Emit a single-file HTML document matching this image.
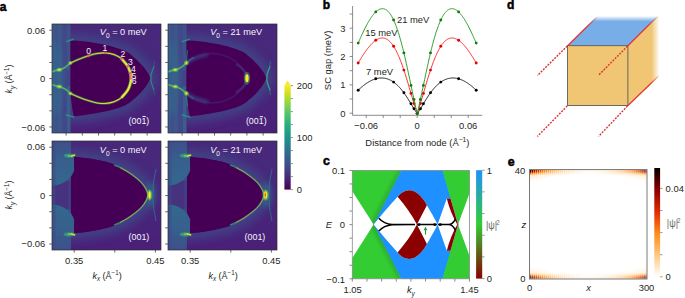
<!DOCTYPE html><html><head><meta charset="utf-8"><style>
html,body{margin:0;padding:0;background:#fff;width:685px;height:298px;overflow:hidden}
svg{display:block}
text{font-family:"Liberation Sans",sans-serif}
</style></head><body>
<svg width="685" height="298" viewBox="0 0 685 298">
<defs>
<linearGradient id="viridis" x1="0" y1="1" x2="0" y2="0">
<stop offset="0" stop-color="#440154"/><stop offset="0.1" stop-color="#482475"/><stop offset="0.2" stop-color="#414487"/>
<stop offset="0.3" stop-color="#355f8d"/><stop offset="0.4" stop-color="#2a788e"/><stop offset="0.5" stop-color="#21918c"/>
<stop offset="0.6" stop-color="#22a884"/><stop offset="0.7" stop-color="#44bf70"/><stop offset="0.8" stop-color="#7ad151"/>
<stop offset="0.9" stop-color="#bddf26"/><stop offset="1" stop-color="#fde725"/>
</linearGradient>
<linearGradient id="cbc" x1="0" y1="1" x2="0" y2="0">
<stop offset="0" stop-color="#8b0000"/><stop offset="0.5" stop-color="#33cc33"/><stop offset="1" stop-color="#1e90ff"/>
</linearGradient>
<linearGradient id="cbe" x1="0" y1="1" x2="0" y2="0">
<stop offset="0" stop-color="#ffffff"/><stop offset="0.2" stop-color="#ffc880"/><stop offset="0.4" stop-color="#ff8a1a"/>
<stop offset="0.6" stop-color="#e02a00"/><stop offset="0.8" stop-color="#8a0000"/><stop offset="1" stop-color="#000000"/>
</linearGradient>
<linearGradient id="outerA" x1="0" y1="0" x2="0" y2="1">
<stop offset="0" stop-color="#48287a"/><stop offset="0.5" stop-color="#47297b"/><stop offset="1" stop-color="#4a1f78"/>
</linearGradient>
<filter id="soft4" x="-30%" y="-30%" width="160%" height="160%"><feGaussianBlur stdDeviation="4"/></filter>
<linearGradient id="stripA" x1="0" y1="0" x2="1" y2="0">
<stop offset="0" stop-color="#3c4f8a"/><stop offset="0.35" stop-color="#3a5a8c"/><stop offset="0.7" stop-color="#3d4e89"/><stop offset="1" stop-color="#41478a"/>
</linearGradient>
<linearGradient id="loopg" gradientUnits="userSpaceOnUse" x1="18" y1="0" x2="80" y2="0"><stop offset="0" stop-color="#a8db34"/><stop offset="0.55" stop-color="#d2e21b"/><stop offset="0.85" stop-color="#fde725"/></linearGradient>
<linearGradient id="tealT" x1="0" y1="0" x2="0" y2="1"><stop offset="0" stop-color="#3d4f8a"/><stop offset="0.5" stop-color="#37618d"/><stop offset="1" stop-color="#32688e"/></linearGradient>
<linearGradient id="tealB" x1="0" y1="1" x2="0" y2="0"><stop offset="0" stop-color="#3d4f8a"/><stop offset="0.5" stop-color="#37618d"/><stop offset="1" stop-color="#32688e"/></linearGradient>
<linearGradient id="stripT" x1="0" y1="0" x2="1" y2="0"><stop offset="0" stop-color="#3a5c8c"/><stop offset="0.3" stop-color="#3e4e8a"/><stop offset="1" stop-color="#424489"/></linearGradient>
<filter id="soft" x="-10%" y="-10%" width="120%" height="120%"><feGaussianBlur stdDeviation="0.7"/></filter>
<filter id="soft2" x="-20%" y="-20%" width="140%" height="140%"><feGaussianBlur stdDeviation="1.6"/></filter>
<filter id="soft3" x="-50%" y="-50%" width="200%" height="200%"><feGaussianBlur stdDeviation="2.5"/></filter>
<filter id="b04" x="-20%" y="-20%" width="140%" height="140%"><feGaussianBlur stdDeviation="0.4"/></filter>
<linearGradient id="topfade" x1="0" y1="0" x2="0" y2="1">
<stop offset="0" stop-color="#78aee8" stop-opacity="0"/><stop offset="0.18" stop-color="#78aee8" stop-opacity="1"/><stop offset="1" stop-color="#78aee8"/>
</linearGradient>
<linearGradient id="rightfade" x1="0" y1="0" x2="1" y2="0">
<stop offset="0" stop-color="#f0c674"/><stop offset="0.75" stop-color="#f0c674"/><stop offset="1" stop-color="#f0c674" stop-opacity="0"/>
</linearGradient>
<linearGradient id="toprightfade" x1="0" y1="0" x2="1" y2="0">
<stop offset="0" stop-color="#fff" stop-opacity="0"/><stop offset="0.85" stop-color="#fff" stop-opacity="0"/><stop offset="1" stop-color="#fff" stop-opacity="1"/>
</linearGradient>
</defs>

<clipPath id="clipTL"><rect x="52" y="24" width="109" height="109"/></clipPath>
<clipPath id="clipTR"><rect x="168" y="24" width="109" height="109"/></clipPath>
<clipPath id="clipBL"><rect x="52" y="141" width="109" height="109"/></clipPath>
<clipPath id="clipBR"><rect x="168" y="141" width="109" height="109"/></clipPath>
<g clip-path="url(#clipTL)"><g transform="translate(52,24)">
<rect x="0" y="0" width="109" height="109" fill="url(#outerA)"/>
<path d="M18.4 16.3 L18.60 16.30 C23.40 16.67 27.27 16.65 33.00 17.40 C38.73 18.15 46.33 19.20 53.00 20.80 C59.67 22.40 68.17 24.90 73.00 27.00 C77.83 29.10 79.17 31.03 82.00 33.40 C84.83 35.77 87.75 38.72 90.00 41.20 C92.25 43.68 94.12 46.13 95.50 48.30 C96.88 50.47 97.37 52.23 98.30 54.20 C97.37 56.17 96.88 57.93 95.50 60.10 C94.12 62.27 92.25 64.72 90.00 67.20 C87.75 69.68 84.83 72.63 82.00 75.00 C79.17 77.37 77.83 79.30 73.00 81.40 C68.17 83.50 59.67 86.00 53.00 87.60 C46.33 89.20 38.20 90.20 33.00 91.00 C27.80 91.80 25.53 91.93 21.80 92.40 L20.5 86 L18.4 70 Z" fill="none" stroke="#3f4a89" stroke-width="14" opacity="0.75" filter="url(#soft4)"/>
<rect x="0" y="0" width="18.6" height="109" fill="url(#stripT)"/>
<ellipse cx="3" cy="54.2" rx="8" ry="38" fill="#34648d" opacity="0.75" filter="url(#soft3)"/>
<rect x="14.8" y="62.2" width="3.6" height="46.8" fill="#37708d" opacity="0.55" filter="url(#soft)"/>
<rect x="14.8" y="0" width="3.6" height="46.2" fill="#37708d" opacity="0.3" filter="url(#soft)"/>
<rect x="5.5" y="0" width="4.5" height="109" fill="#3a6a8c" opacity="0.35" filter="url(#soft)"/>
<path d="M18.4 16.3 L18.60 16.30 C23.40 16.67 27.27 16.65 33.00 17.40 C38.73 18.15 46.33 19.20 53.00 20.80 C59.67 22.40 68.17 24.90 73.00 27.00 C77.83 29.10 79.17 31.03 82.00 33.40 C84.83 35.77 87.75 38.72 90.00 41.20 C92.25 43.68 94.12 46.13 95.50 48.30 C96.88 50.47 97.37 52.23 98.30 54.20 C97.37 56.17 96.88 57.93 95.50 60.10 C94.12 62.27 92.25 64.72 90.00 67.20 C87.75 69.68 84.83 72.63 82.00 75.00 C79.17 77.37 77.83 79.30 73.00 81.40 C68.17 83.50 59.67 86.00 53.00 87.60 C46.33 89.20 38.20 90.20 33.00 91.00 C27.80 91.80 25.53 91.93 21.80 92.40 L20.5 86 L18.4 70 Z" fill="#440154" filter="url(#soft)"/>
<path d="M102.10000000000001 42.2 Q98.30000000000001 51.2 98.9 54.2 Q98.30000000000001 57.2 102.10000000000001 66.2" stroke="#2fb47c" stroke-width="1.3" fill="none" opacity="0.55" filter="url(#b04)"/>
<path d="M102.5 37.2 L101.5 43.2 M102.5 71.2 L101.5 65.2" stroke="#21918c" stroke-width="1" fill="none" opacity="0.385" filter="url(#b04)"/>
<path d="M0 47.900000000000006 Q4 46.2 7.3 45.800000000000004 Q13 44.6 18.4 39.0 M0 60.5 Q4 62.2 7.3 62.6 Q13 63.800000000000004 18.4 69.4" stroke="#35b779" stroke-width="2.4" fill="none" opacity="0.5" filter="url(#soft)"/>
<path d="M0 47.900000000000006 Q4 46.2 7.3 45.800000000000004 Q13 44.6 18.4 39.0 M0 60.5 Q4 62.2 7.3 62.6 Q13 63.800000000000004 18.4 69.4" stroke="#7ad151" stroke-width="0.8" fill="none" opacity="0.9"/>
<ellipse cx="7.3" cy="45.800000000000004" rx="3.0" ry="2.0" fill="#6ece58" opacity="0.6" filter="url(#soft)"/>
<ellipse cx="7.3" cy="45.800000000000004" rx="1.5" ry="0.95" fill="#e6e41c"/>
<ellipse cx="7.3" cy="62.6" rx="3.0" ry="2.0" fill="#6ece58" opacity="0.6" filter="url(#soft)"/>
<ellipse cx="7.3" cy="62.6" rx="1.5" ry="0.95" fill="#e6e41c"/>
<path d="M13.8 17.6 L21.8 15.2 M13.8 90.80000000000001 L22.6 93.4" stroke="#22a884" stroke-width="1.5" opacity="0.75" filter="url(#soft)"/>
<path d="M18.40 39.00 C21.27 37.73 24.02 36.40 27.00 35.20 C29.98 34.00 33.30 32.75 36.30 31.80 C39.30 30.85 42.18 29.98 45.00 29.50 C47.82 29.02 50.37 28.72 53.20 28.90 C56.03 29.08 59.28 29.63 62.00 30.60 C64.72 31.57 67.22 32.77 69.50 34.70 C71.78 36.63 74.25 39.92 75.70 42.20 C77.15 44.48 77.65 46.40 78.20 48.40 C78.75 50.40 79.00 52.27 79.00 54.20 C79.00 56.13 78.75 58.00 78.20 60.00 C77.65 62.00 77.15 63.92 75.70 66.20 C74.25 68.48 71.78 71.77 69.50 73.70 C67.22 75.63 64.72 76.83 62.00 77.80 C59.28 78.77 56.03 79.32 53.20 79.50 C50.37 79.68 47.82 79.38 45.00 78.90 C42.18 78.42 39.30 77.55 36.30 76.60 C33.30 75.65 29.98 74.40 27.00 73.20 C24.02 72.00 21.27 70.67 18.40 69.40" stroke="#44bf70" stroke-width="2.4" fill="none" opacity="0.5" filter="url(#soft)"/>
<path d="M18.40 39.00 C21.27 37.73 24.02 36.40 27.00 35.20 C29.98 34.00 33.30 32.75 36.30 31.80 C39.30 30.85 42.18 29.98 45.00 29.50 C47.82 29.02 50.37 28.72 53.20 28.90 C56.03 29.08 59.28 29.63 62.00 30.60 C64.72 31.57 67.22 32.77 69.50 34.70 C71.78 36.63 74.25 39.92 75.70 42.20 C77.15 44.48 77.65 46.40 78.20 48.40 C78.75 50.40 79.00 52.27 79.00 54.20 C79.00 56.13 78.75 58.00 78.20 60.00 C77.65 62.00 77.15 63.92 75.70 66.20 C74.25 68.48 71.78 71.77 69.50 73.70 C67.22 75.63 64.72 76.83 62.00 77.80 C59.28 78.77 56.03 79.32 53.20 79.50 C50.37 79.68 47.82 79.38 45.00 78.90 C42.18 78.42 39.30 77.55 36.30 76.60 C33.30 75.65 29.98 74.40 27.00 73.20 C24.02 72.00 21.27 70.67 18.40 69.40" stroke="url(#loopg)" stroke-width="1.05" fill="none"/>
<path d="M69.50 34.70 C71.57 37.20 74.25 39.92 75.70 42.20 C77.15 44.48 77.65 46.40 78.20 48.40 C78.75 50.40 79.00 52.27 79.00 54.20 C79.00 56.13 78.75 58.00 78.20 60.00 C77.65 62.00 77.15 63.92 75.70 66.20 C74.25 68.48 71.57 71.20 69.50 73.70" stroke="#5ec962" stroke-width="3.4" fill="none" opacity="0.65" filter="url(#b04)"/>
<path d="M69.50 34.70 C71.57 37.20 74.25 39.92 75.70 42.20 C77.15 44.48 77.65 46.40 78.20 48.40 C78.75 50.40 79.00 52.27 79.00 54.20 C79.00 56.13 78.75 58.00 78.20 60.00 C77.65 62.00 77.15 63.92 75.70 66.20 C74.25 68.48 71.57 71.20 69.50 73.70" stroke="#fde725" stroke-width="1.8" fill="none"/>
<ellipse cx="18.4" cy="39.0" rx="2.2" ry="2.0" fill="#7ad151" opacity="0.6" filter="url(#soft)"/>
<ellipse cx="18.4" cy="39.0" rx="1.0" ry="1.0" fill="#e8e41c"/>
<ellipse cx="18.4" cy="69.4" rx="2.2" ry="2.0" fill="#7ad151" opacity="0.6" filter="url(#soft)"/>
<ellipse cx="18.4" cy="69.4" rx="1.0" ry="1.0" fill="#e8e41c"/>
<circle cx="36.3" cy="31.9" r="1.3" fill="#f3506a" opacity="0.85"/>
<circle cx="53.2" cy="28.9" r="1.3" fill="#f3506a" opacity="0.85"/>
<circle cx="69.5" cy="34.8" r="1.3" fill="#f3506a" opacity="0.85"/>
<circle cx="75.6" cy="42.4" r="1.3" fill="#f3506a" opacity="0.85"/>
<circle cx="77.9" cy="49.0" r="1.3" fill="#f3506a" opacity="0.85"/>
<circle cx="78.4" cy="51.5" r="1.3" fill="#f3506a" opacity="0.85"/>
<circle cx="78.8" cy="54.2" r="1.3" fill="#f3506a" opacity="0.85"/>
<text transform="translate(0 30.50) scale(1 1.05) translate(0 -30.50)" x="36.6" y="30.5" font-size="8.6" fill="#f4f0f8" text-anchor="middle">0</text>
<text transform="translate(0 27.00) scale(1 1.05) translate(0 -27.00)" x="53" y="27.0" font-size="8.6" fill="#f4f0f8" text-anchor="middle">1</text>
<text transform="translate(0 32.60) scale(1 1.05) translate(0 -32.60)" x="70.9" y="32.6" font-size="8.6" fill="#f4f0f8" text-anchor="middle">2</text>
<text transform="translate(0 41.00) scale(1 1.05) translate(0 -41.00)" x="78.3" y="41.0" font-size="8.6" fill="#f4f0f8" text-anchor="middle">3</text>
<text transform="translate(0 48.20) scale(1 1.05) translate(0 -48.20)" x="81.5" y="48.2" font-size="8.6" fill="#f4f0f8" text-anchor="middle">4</text>
<text transform="translate(0 54.60) scale(1 1.05) translate(0 -54.60)" x="81.9" y="54.6" font-size="8.6" fill="#f4f0f8" text-anchor="middle">5</text>
<text transform="translate(0 59.80) scale(1 1.05) translate(0 -59.80)" x="82.2" y="59.8" font-size="8.6" fill="#f4f0f8" text-anchor="middle">6</text>
</g></g>
<g clip-path="url(#clipTR)"><g transform="translate(168,24)">
<rect x="0" y="0" width="109" height="109" fill="url(#outerA)"/>
<path d="M18.4 16.3 L18.60 16.30 C23.40 16.67 27.27 16.65 33.00 17.40 C38.73 18.15 46.33 19.20 53.00 20.80 C59.67 22.40 68.17 24.90 73.00 27.00 C77.83 29.10 79.17 31.03 82.00 33.40 C84.83 35.77 87.75 38.72 90.00 41.20 C92.25 43.68 94.12 46.13 95.50 48.30 C96.88 50.47 97.37 52.23 98.30 54.20 C97.37 56.17 96.88 57.93 95.50 60.10 C94.12 62.27 92.25 64.72 90.00 67.20 C87.75 69.68 84.83 72.63 82.00 75.00 C79.17 77.37 77.83 79.30 73.00 81.40 C68.17 83.50 59.67 86.00 53.00 87.60 C46.33 89.20 38.20 90.20 33.00 91.00 C27.80 91.80 25.53 91.93 21.80 92.40 L20.5 86 L18.4 70 Z" fill="none" stroke="#3f4a89" stroke-width="14" opacity="0.75" filter="url(#soft4)"/>
<rect x="0" y="0" width="18.6" height="109" fill="url(#stripT)"/>
<ellipse cx="3" cy="54.2" rx="8" ry="38" fill="#34648d" opacity="0.75" filter="url(#soft3)"/>
<rect x="14.8" y="62.2" width="3.6" height="46.8" fill="#37708d" opacity="0.55" filter="url(#soft)"/>
<rect x="14.8" y="0" width="3.6" height="46.2" fill="#37708d" opacity="0.3" filter="url(#soft)"/>
<rect x="5.5" y="0" width="4.5" height="109" fill="#3a6a8c" opacity="0.35" filter="url(#soft)"/>
<path d="M18.4 16.3 L18.60 16.30 C23.40 16.67 27.27 16.65 33.00 17.40 C38.73 18.15 46.33 19.20 53.00 20.80 C59.67 22.40 68.17 24.90 73.00 27.00 C77.83 29.10 79.17 31.03 82.00 33.40 C84.83 35.77 87.75 38.72 90.00 41.20 C92.25 43.68 94.12 46.13 95.50 48.30 C96.88 50.47 97.37 52.23 98.30 54.20 C97.37 56.17 96.88 57.93 95.50 60.10 C94.12 62.27 92.25 64.72 90.00 67.20 C87.75 69.68 84.83 72.63 82.00 75.00 C79.17 77.37 77.83 79.30 73.00 81.40 C68.17 83.50 59.67 86.00 53.00 87.60 C46.33 89.20 38.20 90.20 33.00 91.00 C27.80 91.80 25.53 91.93 21.80 92.40 L20.5 86 L18.4 70 Z" fill="#440154" filter="url(#soft)"/>
<path d="M102.10000000000001 42.2 Q98.30000000000001 51.2 98.9 54.2 Q98.30000000000001 57.2 102.10000000000001 66.2" stroke="#2fb47c" stroke-width="1.3" fill="none" opacity="0.9" filter="url(#b04)"/>
<path d="M102.5 37.2 L101.5 43.2 M102.5 71.2 L101.5 65.2" stroke="#21918c" stroke-width="1" fill="none" opacity="0.63" filter="url(#b04)"/>
<path d="M0 47.900000000000006 Q4 46.2 7.3 45.800000000000004 Q13 44.6 18.4 39.0 M0 60.5 Q4 62.2 7.3 62.6 Q13 63.800000000000004 18.4 69.4" stroke="#35b779" stroke-width="2.4" fill="none" opacity="0.5" filter="url(#soft)"/>
<path d="M0 47.900000000000006 Q4 46.2 7.3 45.800000000000004 Q13 44.6 18.4 39.0 M0 60.5 Q4 62.2 7.3 62.6 Q13 63.800000000000004 18.4 69.4" stroke="#7ad151" stroke-width="0.8" fill="none" opacity="0.9"/>
<ellipse cx="7.3" cy="45.800000000000004" rx="3.0" ry="2.0" fill="#6ece58" opacity="0.6" filter="url(#soft)"/>
<ellipse cx="7.3" cy="45.800000000000004" rx="1.5" ry="0.95" fill="#e6e41c"/>
<ellipse cx="7.3" cy="62.6" rx="3.0" ry="2.0" fill="#6ece58" opacity="0.6" filter="url(#soft)"/>
<ellipse cx="7.3" cy="62.6" rx="1.5" ry="0.95" fill="#e6e41c"/>
<path d="M13.8 17.6 L21.8 15.2 M13.8 90.80000000000001 L22.6 93.4" stroke="#22a884" stroke-width="1.5" opacity="0.75" filter="url(#soft)"/>
<path d="M18.40 39.00 C22.27 36.67 25.57 33.58 30.00 32.00 C34.43 30.42 40.00 29.33 45.00 29.50 C50.00 29.67 55.50 30.92 60.00 33.00 C64.50 35.08 69.08 38.47 72.00 42.00 C74.92 45.53 77.50 50.13 77.50 54.20 C77.50 58.27 74.92 62.87 72.00 66.40 C69.08 69.93 64.50 73.32 60.00 75.40 C55.50 77.48 50.00 78.73 45.00 78.90 C40.00 79.07 34.43 77.98 30.00 76.40 C25.57 74.82 22.27 71.73 18.40 69.40" stroke="#4c2a80" stroke-width="1.6" fill="none" opacity="0.45" filter="url(#soft)"/>
<path d="M18.4 39 Q26 33.5 40 30.5 M18.4 69.4 Q26 74.9 40 77.9" stroke="#3e4c89" stroke-width="3.2" fill="none" opacity="0.75" filter="url(#soft2)"/>
<path d="M18.4 39 Q22 35 26 33.5 M18.4 69.4 Q22 73.4 26 74.9" stroke="#2a788e" stroke-width="1.4" fill="none" opacity="0.7" filter="url(#soft)"/>
<path d="M18.4 39 Q18.8 33 19.5 26 M18.4 69.4 Q18.8 75.4 19.5 82.4" stroke="#22a884" stroke-width="1.2" fill="none" opacity="0.55" filter="url(#soft)"/>
<path d="M68 40 Q79 46 79 54.2 Q79 62.400000000000006 68 68.4" stroke="#46337f" stroke-width="2.5" fill="none" opacity="0.6" filter="url(#soft)"/>
<ellipse cx="79" cy="54.2" rx="3.2" ry="6.5" fill="#35b779" opacity="0.5" filter="url(#soft)"/>
<ellipse cx="79" cy="54.2" rx="1.7" ry="4.0" fill="#fde725"/>
<ellipse cx="18.4" cy="39.0" rx="2.4" ry="2.4" fill="#7ad151" opacity="0.6" filter="url(#soft)"/>
<ellipse cx="18.4" cy="39.0" rx="1.1" ry="1.3" fill="#e0e31e"/>
<ellipse cx="18.4" cy="69.4" rx="2.4" ry="2.4" fill="#7ad151" opacity="0.6" filter="url(#soft)"/>
<ellipse cx="18.4" cy="69.4" rx="1.1" ry="1.3" fill="#e0e31e"/>
</g></g>
<g clip-path="url(#clipBL)"><g transform="translate(52,141)">
<rect x="0" y="0" width="109" height="109" fill="url(#outerA)"/>
<path d="M22.00 15.70 C26.97 16.30 32.57 16.85 36.90 17.50 C41.23 18.15 44.48 18.85 48.00 19.60 C51.52 20.35 54.67 20.97 58.00 22.00 C61.33 23.03 64.67 24.17 68.00 25.80 C71.33 27.43 74.58 29.40 78.00 31.80 C81.42 34.20 85.78 37.57 88.50 40.20 C91.22 42.83 92.98 45.30 94.30 47.60 C95.62 49.90 95.70 51.87 96.40 54.00 C95.70 56.13 95.62 58.10 94.30 60.40 C92.98 62.70 91.22 65.17 88.50 67.80 C85.78 70.43 81.42 73.80 78.00 76.20 C74.58 78.60 71.33 80.57 68.00 82.20 C64.67 83.83 61.33 84.97 58.00 86.00 C54.67 87.03 51.52 87.65 48.00 88.40 C44.48 89.15 41.23 89.85 36.90 90.50 C32.57 91.15 26.97 91.70 22.00 92.30 L22.5 78 L19.2 72 L19.2 36 L22.5 30 Z" fill="none" stroke="#3f4a89" stroke-width="14" opacity="0.75" filter="url(#soft4)"/>
<rect x="0" y="0" width="18.8" height="109" fill="#46327e"/>
<rect x="0" y="0" width="18.8" height="109" fill="#3f4a89"/>
<rect x="0" y="40" width="18.8" height="28.0" fill="#46337f" filter="url(#b04)"/>
<rect x="16.6" y="40" width="1.6" height="28.0" fill="#3e4a89" opacity="0.7" filter="url(#b04)"/>
<path d="M0 0 L18.8 0 L18.8 15 L22.5 16 L22.5 24 A22.5 20.5 0 0 1 0 44.5 Z" fill="url(#tealT)" filter="url(#soft)"/>
<path d="M0 109 L18.8 109 L18.8 93.0 L22.5 92.0 L22.5 84.0 A22.5 20.5 0 0 0 0 63.5 Z" fill="url(#tealB)" filter="url(#soft)"/>
<rect x="0" y="0" width="3.5" height="109" fill="#404889" opacity="0.55" filter="url(#b04)"/>
<path d="M22.00 15.70 C26.97 16.30 32.57 16.85 36.90 17.50 C41.23 18.15 44.48 18.85 48.00 19.60 C51.52 20.35 54.67 20.97 58.00 22.00 C61.33 23.03 64.67 24.17 68.00 25.80 C71.33 27.43 74.58 29.40 78.00 31.80 C81.42 34.20 85.78 37.57 88.50 40.20 C91.22 42.83 92.98 45.30 94.30 47.60 C95.62 49.90 95.70 51.87 96.40 54.00 C95.70 56.13 95.62 58.10 94.30 60.40 C92.98 62.70 91.22 65.17 88.50 67.80 C85.78 70.43 81.42 73.80 78.00 76.20 C74.58 78.60 71.33 80.57 68.00 82.20 C64.67 83.83 61.33 84.97 58.00 86.00 C54.67 87.03 51.52 87.65 48.00 88.40 C44.48 89.15 41.23 89.85 36.90 90.50 C32.57 91.15 26.97 91.70 22.00 92.30 L22.5 78 L19.2 72 L19.2 36 L22.5 30 Z" fill="#440154" filter="url(#soft)"/>
<ellipse cx="98.0" cy="54.0" rx="5" ry="13" fill="#2a788e" opacity="0.5" filter="url(#soft3)"/>
<path d="M22.00 15.70 C26.97 16.30 32.57 16.85 36.90 17.50 C41.23 18.15 44.48 18.85 48.00 19.60 C51.52 20.35 54.67 20.97 58.00 22.00 C61.33 23.03 64.67 24.17 68.00 25.80 C71.33 27.43 74.58 29.40 78.00 31.80 C81.42 34.20 85.78 37.57 88.50 40.20 C91.22 42.83 92.98 45.30 94.30 47.60 C95.62 49.90 95.70 51.87 96.40 54.00 C95.70 56.13 95.62 58.10 94.30 60.40 C92.98 62.70 91.22 65.17 88.50 67.80 C85.78 70.43 81.42 73.80 78.00 76.20 C74.58 78.60 71.33 80.57 68.00 82.20 C64.67 83.83 61.33 84.97 58.00 86.00 C54.67 87.03 51.52 87.65 48.00 88.40 C44.48 89.15 41.23 89.85 36.90 90.50 C32.57 91.15 26.97 91.70 22.00 92.30 L22.5 78 L19.2 72 L19.2 36 L22.5 30 Z" fill="#440154" filter="url(#b04)"/>
<path d="M62.00 24.00 C64.00 24.80 65.33 25.02 68.00 26.40 C70.67 27.78 74.58 29.93 78.00 32.30 C81.42 34.67 85.83 37.98 88.50 40.60 C91.17 43.22 92.73 45.77 94.00 48.00 C95.27 50.23 95.40 52.00 96.10 54.00 C95.40 56.00 95.27 57.77 94.00 60.00 C92.73 62.23 91.17 64.78 88.50 67.40 C85.83 70.02 81.42 73.33 78.00 75.70 C74.58 78.07 70.67 80.22 68.00 81.60 C65.33 82.98 64.00 83.20 62.00 84.00" stroke="#22a884" stroke-width="1.8" fill="none" opacity="0.6" filter="url(#soft)"/>
<path d="M62.00 24.00 C64.00 24.80 65.33 25.02 68.00 26.40 C70.67 27.78 74.58 29.93 78.00 32.30 C81.42 34.67 85.83 37.98 88.50 40.60 C91.17 43.22 92.73 45.77 94.00 48.00 C95.27 50.23 95.40 52.00 96.10 54.00 C95.40 56.00 95.27 57.77 94.00 60.00 C92.73 62.23 91.17 64.78 88.50 67.40 C85.83 70.02 81.42 73.33 78.00 75.70 C74.58 78.07 70.67 80.22 68.00 81.60 C65.33 82.98 64.00 83.20 62.00 84.00" stroke="#5ec962" stroke-width="0.6" fill="none" opacity="0.5"/>
<path d="M68.00 26.40 C71.33 28.37 74.58 29.93 78.00 32.30 C81.42 34.67 85.83 37.98 88.50 40.60 C91.17 43.22 92.73 45.77 94.00 48.00 C95.27 50.23 95.40 52.00 96.10 54.00 C95.40 56.00 95.27 57.77 94.00 60.00 C92.73 62.23 91.17 64.78 88.50 67.40 C85.83 70.02 81.42 73.33 78.00 75.70 C74.58 78.07 71.33 79.63 68.00 81.60" stroke="#f08a3a" stroke-width="0.8" fill="none" stroke-dasharray="1.2 1.2" opacity="0.9"/>
<path d="M68.00 26.40 C71.33 28.37 74.58 29.93 78.00 32.30 C81.42 34.67 85.83 37.98 88.50 40.60 C91.17 43.22 92.73 45.77 94.00 48.00 C95.27 50.23 95.40 52.00 96.10 54.00 C95.40 56.00 95.27 57.77 94.00 60.00 C92.73 62.23 91.17 64.78 88.50 67.40 C85.83 70.02 81.42 73.33 78.00 75.70 C74.58 78.07 71.33 79.63 68.00 81.60" stroke="#e0e030" stroke-width="0.8" fill="none" stroke-dasharray="1.2 1.2" stroke-dashoffset="1.2" opacity="0.8"/>
<path d="M104.0 28.0 Q97.5 54.0 104.0 80.0" stroke="#21918c" stroke-width="1.1" fill="none" opacity="0.55" filter="url(#soft)"/>
<ellipse cx="97.6" cy="54.0" rx="2.5999999999999996" ry="5.5" fill="#6ece58" opacity="0.6" filter="url(#soft)"/>
<ellipse cx="97.6" cy="54.0" rx="1.2" ry="3.8" fill="#fde725"/>
<ellipse cx="17.5" cy="14.600000000000001" rx="6" ry="2.2" fill="#35b779" opacity="0.6" filter="url(#soft)"/>
<path d="M16.2 14.900000000000002 L19.8 15.100000000000001 L22.8 14.000000000000002" stroke="#a0da39" stroke-width="1.3" fill="none" stroke-linecap="round" opacity="0.9"/>
<path d="M19.4 15.100000000000001 L22.4 14.100000000000001" stroke="#f2e51d" stroke-width="1.1" stroke-linecap="round"/>
<ellipse cx="17.5" cy="93.4" rx="6" ry="2.2" fill="#35b779" opacity="0.6" filter="url(#soft)"/>
<path d="M16.2 93.10000000000001 L19.8 92.9 L22.8 94.0" stroke="#a0da39" stroke-width="1.3" fill="none" stroke-linecap="round" opacity="0.9"/>
<path d="M19.4 92.9 L22.4 93.9" stroke="#f2e51d" stroke-width="1.1" stroke-linecap="round"/>
</g></g>
<g clip-path="url(#clipBR)"><g transform="translate(168,141)">
<rect x="0" y="0" width="109" height="109" fill="url(#outerA)"/>
<path d="M22.00 15.70 C26.97 16.30 32.57 16.85 36.90 17.50 C41.23 18.15 44.48 18.85 48.00 19.60 C51.52 20.35 54.67 20.97 58.00 22.00 C61.33 23.03 64.67 24.17 68.00 25.80 C71.33 27.43 74.58 29.40 78.00 31.80 C81.42 34.20 85.78 37.57 88.50 40.20 C91.22 42.83 92.98 45.30 94.30 47.60 C95.62 49.90 95.70 51.87 96.40 54.00 C95.70 56.13 95.62 58.10 94.30 60.40 C92.98 62.70 91.22 65.17 88.50 67.80 C85.78 70.43 81.42 73.80 78.00 76.20 C74.58 78.60 71.33 80.57 68.00 82.20 C64.67 83.83 61.33 84.97 58.00 86.00 C54.67 87.03 51.52 87.65 48.00 88.40 C44.48 89.15 41.23 89.85 36.90 90.50 C32.57 91.15 26.97 91.70 22.00 92.30 L22.5 78 L19.2 72 L19.2 36 L22.5 30 Z" fill="none" stroke="#3f4a89" stroke-width="14" opacity="0.75" filter="url(#soft4)"/>
<rect x="0" y="0" width="18.8" height="109" fill="#46327e"/>
<rect x="0" y="0" width="18.8" height="109" fill="#3f4a89"/>
<rect x="0" y="40" width="18.8" height="28.0" fill="#46337f" filter="url(#b04)"/>
<rect x="16.6" y="40" width="1.6" height="28.0" fill="#3e4a89" opacity="0.7" filter="url(#b04)"/>
<path d="M0 0 L18.8 0 L18.8 15 L22.5 16 L22.5 24 A22.5 20.5 0 0 1 0 44.5 Z" fill="url(#tealT)" filter="url(#soft)"/>
<path d="M0 109 L18.8 109 L18.8 93.0 L22.5 92.0 L22.5 84.0 A22.5 20.5 0 0 0 0 63.5 Z" fill="url(#tealB)" filter="url(#soft)"/>
<rect x="0" y="0" width="3.5" height="109" fill="#404889" opacity="0.55" filter="url(#b04)"/>
<path d="M22.00 15.70 C26.97 16.30 32.57 16.85 36.90 17.50 C41.23 18.15 44.48 18.85 48.00 19.60 C51.52 20.35 54.67 20.97 58.00 22.00 C61.33 23.03 64.67 24.17 68.00 25.80 C71.33 27.43 74.58 29.40 78.00 31.80 C81.42 34.20 85.78 37.57 88.50 40.20 C91.22 42.83 92.98 45.30 94.30 47.60 C95.62 49.90 95.70 51.87 96.40 54.00 C95.70 56.13 95.62 58.10 94.30 60.40 C92.98 62.70 91.22 65.17 88.50 67.80 C85.78 70.43 81.42 73.80 78.00 76.20 C74.58 78.60 71.33 80.57 68.00 82.20 C64.67 83.83 61.33 84.97 58.00 86.00 C54.67 87.03 51.52 87.65 48.00 88.40 C44.48 89.15 41.23 89.85 36.90 90.50 C32.57 91.15 26.97 91.70 22.00 92.30 L22.5 78 L19.2 72 L19.2 36 L22.5 30 Z" fill="#440154" filter="url(#soft)"/>
<ellipse cx="98.0" cy="54.0" rx="5" ry="13" fill="#2a788e" opacity="0.5" filter="url(#soft3)"/>
<path d="M22.00 15.70 C26.97 16.30 32.57 16.85 36.90 17.50 C41.23 18.15 44.48 18.85 48.00 19.60 C51.52 20.35 54.67 20.97 58.00 22.00 C61.33 23.03 64.67 24.17 68.00 25.80 C71.33 27.43 74.58 29.40 78.00 31.80 C81.42 34.20 85.78 37.57 88.50 40.20 C91.22 42.83 92.98 45.30 94.30 47.60 C95.62 49.90 95.70 51.87 96.40 54.00 C95.70 56.13 95.62 58.10 94.30 60.40 C92.98 62.70 91.22 65.17 88.50 67.80 C85.78 70.43 81.42 73.80 78.00 76.20 C74.58 78.60 71.33 80.57 68.00 82.20 C64.67 83.83 61.33 84.97 58.00 86.00 C54.67 87.03 51.52 87.65 48.00 88.40 C44.48 89.15 41.23 89.85 36.90 90.50 C32.57 91.15 26.97 91.70 22.00 92.30 L22.5 78 L19.2 72 L19.2 36 L22.5 30 Z" fill="#440154" filter="url(#b04)"/>
<path d="M62.00 24.00 C64.00 24.80 65.33 25.02 68.00 26.40 C70.67 27.78 74.58 29.93 78.00 32.30 C81.42 34.67 85.83 37.98 88.50 40.60 C91.17 43.22 92.73 45.77 94.00 48.00 C95.27 50.23 95.40 52.00 96.10 54.00 C95.40 56.00 95.27 57.77 94.00 60.00 C92.73 62.23 91.17 64.78 88.50 67.40 C85.83 70.02 81.42 73.33 78.00 75.70 C74.58 78.07 70.67 80.22 68.00 81.60 C65.33 82.98 64.00 83.20 62.00 84.00" stroke="#22a884" stroke-width="1.8" fill="none" opacity="0.6" filter="url(#soft)"/>
<path d="M62.00 24.00 C64.00 24.80 65.33 25.02 68.00 26.40 C70.67 27.78 74.58 29.93 78.00 32.30 C81.42 34.67 85.83 37.98 88.50 40.60 C91.17 43.22 92.73 45.77 94.00 48.00 C95.27 50.23 95.40 52.00 96.10 54.00 C95.40 56.00 95.27 57.77 94.00 60.00 C92.73 62.23 91.17 64.78 88.50 67.40 C85.83 70.02 81.42 73.33 78.00 75.70 C74.58 78.07 70.67 80.22 68.00 81.60 C65.33 82.98 64.00 83.20 62.00 84.00" stroke="#5ec962" stroke-width="0.6" fill="none" opacity="0.5"/>
<path d="M68.00 26.40 C71.33 28.37 74.58 29.93 78.00 32.30 C81.42 34.67 85.83 37.98 88.50 40.60 C91.17 43.22 92.73 45.77 94.00 48.00 C95.27 50.23 95.40 52.00 96.10 54.00 C95.40 56.00 95.27 57.77 94.00 60.00 C92.73 62.23 91.17 64.78 88.50 67.40 C85.83 70.02 81.42 73.33 78.00 75.70 C74.58 78.07 71.33 79.63 68.00 81.60" stroke="#f08a3a" stroke-width="0.8" fill="none" stroke-dasharray="1.2 1.2" opacity="0.9"/>
<path d="M68.00 26.40 C71.33 28.37 74.58 29.93 78.00 32.30 C81.42 34.67 85.83 37.98 88.50 40.60 C91.17 43.22 92.73 45.77 94.00 48.00 C95.27 50.23 95.40 52.00 96.10 54.00 C95.40 56.00 95.27 57.77 94.00 60.00 C92.73 62.23 91.17 64.78 88.50 67.40 C85.83 70.02 81.42 73.33 78.00 75.70 C74.58 78.07 71.33 79.63 68.00 81.60" stroke="#e0e030" stroke-width="0.8" fill="none" stroke-dasharray="1.2 1.2" stroke-dashoffset="1.2" opacity="0.8"/>
<path d="M104.0 28.0 Q97.5 54.0 104.0 80.0" stroke="#21918c" stroke-width="1.1" fill="none" opacity="0.55" filter="url(#soft)"/>
<ellipse cx="97.6" cy="54.0" rx="3.0999999999999996" ry="5.5" fill="#6ece58" opacity="0.6" filter="url(#soft)"/>
<ellipse cx="97.6" cy="54.0" rx="1.7" ry="3.8" fill="#fde725"/>
<ellipse cx="97.3" cy="54.0" rx="0.7" ry="2.4" fill="#e8602a"/>
<ellipse cx="17.5" cy="14.600000000000001" rx="6" ry="2.2" fill="#35b779" opacity="0.6" filter="url(#soft)"/>
<path d="M16.2 14.900000000000002 L19.8 15.100000000000001 L22.8 14.000000000000002" stroke="#a0da39" stroke-width="1.3" fill="none" stroke-linecap="round" opacity="0.9"/>
<path d="M19.4 15.100000000000001 L22.4 14.100000000000001" stroke="#f2e51d" stroke-width="1.1" stroke-linecap="round"/>
<ellipse cx="17.5" cy="93.4" rx="6" ry="2.2" fill="#35b779" opacity="0.6" filter="url(#soft)"/>
<path d="M16.2 93.10000000000001 L19.8 92.9 L22.8 94.0" stroke="#a0da39" stroke-width="1.3" fill="none" stroke-linecap="round" opacity="0.9"/>
<path d="M19.4 92.9 L22.4 93.9" stroke="#f2e51d" stroke-width="1.1" stroke-linecap="round"/>
</g></g>
<g stroke="#2b2b2b" stroke-width="0.7"><rect x="52" y="24" width="109" height="109" fill="none" stroke="#2b2b2b" stroke-width="0.7"/>
<line x1="49.2" y1="30.20" x2="52" y2="30.20"/>
<line x1="49.2" y1="46.33" x2="52" y2="46.33"/>
<line x1="49.2" y1="62.46" x2="52" y2="62.46"/>
<line x1="49.2" y1="78.59" x2="52" y2="78.59"/>
<line x1="49.2" y1="94.72" x2="52" y2="94.72"/>
<line x1="49.2" y1="110.85" x2="52" y2="110.85"/>
<line x1="49.2" y1="126.98" x2="52" y2="126.98"/>
<line x1="66.10" y1="133" x2="66.10" y2="135.6"/>
<line x1="82.30" y1="133" x2="82.30" y2="135.6"/>
<line x1="98.50" y1="133" x2="98.50" y2="135.6"/>
<line x1="114.70" y1="133" x2="114.70" y2="135.6"/>
<line x1="130.90" y1="133" x2="130.90" y2="135.6"/>
<line x1="147.10" y1="133" x2="147.10" y2="135.6"/>
<rect x="168" y="24" width="109" height="109" fill="none" stroke="#2b2b2b" stroke-width="0.7"/>
<line x1="165.2" y1="30.20" x2="168" y2="30.20"/>
<line x1="165.2" y1="46.33" x2="168" y2="46.33"/>
<line x1="165.2" y1="62.46" x2="168" y2="62.46"/>
<line x1="165.2" y1="78.59" x2="168" y2="78.59"/>
<line x1="165.2" y1="94.72" x2="168" y2="94.72"/>
<line x1="165.2" y1="110.85" x2="168" y2="110.85"/>
<line x1="165.2" y1="126.98" x2="168" y2="126.98"/>
<line x1="182.10" y1="133" x2="182.10" y2="135.6"/>
<line x1="198.30" y1="133" x2="198.30" y2="135.6"/>
<line x1="214.50" y1="133" x2="214.50" y2="135.6"/>
<line x1="230.70" y1="133" x2="230.70" y2="135.6"/>
<line x1="246.90" y1="133" x2="246.90" y2="135.6"/>
<line x1="263.10" y1="133" x2="263.10" y2="135.6"/>
<rect x="52" y="141" width="109" height="109" fill="none" stroke="#2b2b2b" stroke-width="0.7"/>
<line x1="49.2" y1="147.20" x2="52" y2="147.20"/>
<line x1="49.2" y1="163.33" x2="52" y2="163.33"/>
<line x1="49.2" y1="179.46" x2="52" y2="179.46"/>
<line x1="49.2" y1="195.59" x2="52" y2="195.59"/>
<line x1="49.2" y1="211.72" x2="52" y2="211.72"/>
<line x1="49.2" y1="227.85" x2="52" y2="227.85"/>
<line x1="49.2" y1="243.98" x2="52" y2="243.98"/>
<line x1="74.20" y1="250" x2="74.20" y2="252.6"/>
<line x1="114.80" y1="250" x2="114.80" y2="252.6"/>
<line x1="155.40" y1="250" x2="155.40" y2="252.6"/>
<rect x="168" y="141" width="109" height="109" fill="none" stroke="#2b2b2b" stroke-width="0.7"/>
<line x1="165.2" y1="147.20" x2="168" y2="147.20"/>
<line x1="165.2" y1="163.33" x2="168" y2="163.33"/>
<line x1="165.2" y1="179.46" x2="168" y2="179.46"/>
<line x1="165.2" y1="195.59" x2="168" y2="195.59"/>
<line x1="165.2" y1="211.72" x2="168" y2="211.72"/>
<line x1="165.2" y1="227.85" x2="168" y2="227.85"/>
<line x1="165.2" y1="243.98" x2="168" y2="243.98"/>
<line x1="190.20" y1="250" x2="190.20" y2="252.6"/>
<line x1="230.80" y1="250" x2="230.80" y2="252.6"/>
<line x1="271.40" y1="250" x2="271.40" y2="252.6"/></g>
<text transform="translate(0 35.30) scale(1 1.05) translate(0 -35.30)" x="99.8" y="35.3" font-size="9.2" fill="#f6f3fa"><tspan font-style="italic">V</tspan><tspan font-size="6.6" dy="3.0">0</tspan><tspan dy="-3.0"> = 0 meV</tspan></text>
<text transform="translate(0 35.30) scale(1 1.05) translate(0 -35.30)" x="210.2" y="35.3" font-size="9.2" fill="#f6f3fa"><tspan font-style="italic">V</tspan><tspan font-size="6.6" dy="3.0">0</tspan><tspan dy="-3.0"> = 21 meV</tspan></text>
<text transform="translate(0 152.80) scale(1 1.05) translate(0 -152.80)" x="99.8" y="152.8" font-size="9.2" fill="#f6f3fa"><tspan font-style="italic">V</tspan><tspan font-size="6.6" dy="3.0">0</tspan><tspan dy="-3.0"> = 0 meV</tspan></text>
<text transform="translate(0 152.80) scale(1 1.05) translate(0 -152.80)" x="210.2" y="152.8" font-size="9.2" fill="#f6f3fa"><tspan font-style="italic">V</tspan><tspan font-size="6.6" dy="3.0">0</tspan><tspan dy="-3.0"> = 21 meV</tspan></text>
<text transform="translate(0 124.30) scale(1 1.05) translate(0 -124.30)" x="128.6" y="124.3" font-size="8.9" fill="#f6f3fa">(001)</text><line x1="142.5" y1="116.5" x2="145.7" y2="116.5" stroke="#f6f3fa" stroke-width="1.0"/>
<text transform="translate(0 124.50) scale(1 1.05) translate(0 -124.50)" x="245.9" y="124.5" font-size="8.9" fill="#f6f3fa">(001)</text><line x1="259.8" y1="116.7" x2="263.0" y2="116.7" stroke="#f6f3fa" stroke-width="1.0"/>
<text transform="translate(0 240.50) scale(1 1.05) translate(0 -240.50)" x="128.6" y="240.5" font-size="8.9" fill="#f6f3fa">(001)</text>
<text transform="translate(0 240.50) scale(1 1.05) translate(0 -240.50)" x="244.6" y="240.5" font-size="8.9" fill="#f6f3fa">(001)</text>
<text transform="translate(0 33.65) scale(1 1.05) translate(0 -33.65)" x="45.2" y="33.65" font-size="9.4" fill="#231f20" text-anchor="end">0.06</text><text transform="translate(0 82.15) scale(1 1.05) translate(0 -82.15)" x="45.2" y="82.15" font-size="9.4" fill="#231f20" text-anchor="end">0</text><text transform="translate(0 130.75) scale(1 1.05) translate(0 -130.75)" x="45.2" y="130.75" font-size="9.4" fill="#231f20" text-anchor="end">−0.06</text>
<text transform="translate(0 150.15) scale(1 1.05) translate(0 -150.15)" x="45.2" y="150.15" font-size="9.4" fill="#231f20" text-anchor="end">0.06</text><text transform="translate(0 198.65) scale(1 1.05) translate(0 -198.65)" x="45.2" y="198.65" font-size="9.4" fill="#231f20" text-anchor="end">0</text><text transform="translate(0 247.25) scale(1 1.05) translate(0 -247.25)" x="45.2" y="247.25" font-size="9.4" fill="#231f20" text-anchor="end">−0.06</text>
<text transform="translate(0 263.90) scale(1 1.05) translate(0 -263.90)" x="74.2" y="263.9" font-size="9.4" fill="#231f20" text-anchor="middle">0.35</text>
<text transform="translate(0 263.90) scale(1 1.05) translate(0 -263.90)" x="155.4" y="263.9" font-size="9.4" fill="#231f20" text-anchor="middle">0.45</text>
<text transform="translate(0 263.90) scale(1 1.05) translate(0 -263.90)" x="190.2" y="263.9" font-size="9.4" fill="#231f20" text-anchor="middle">0.35</text>
<text transform="translate(0 263.90) scale(1 1.05) translate(0 -263.90)" x="271.4" y="263.9" font-size="9.4" fill="#231f20" text-anchor="middle">0.45</text>
<text transform="translate(0 278.60) scale(1 1.05) translate(0 -278.60)" x="107.1" y="278.6" font-size="9.0" fill="#231f20" text-anchor="middle"><tspan font-style="italic">k</tspan><tspan font-style="italic" font-size="6.2" dy="2.2">x</tspan><tspan dy="-2.2"> (Å</tspan><tspan font-size="6.2" dy="-3.6">−1</tspan><tspan dy="3.6">)</tspan></text>
<text transform="translate(0 278.60) scale(1 1.05) translate(0 -278.60)" x="223.1" y="278.6" font-size="9.0" fill="#231f20" text-anchor="middle"><tspan font-style="italic">k</tspan><tspan font-style="italic" font-size="6.2" dy="2.2">x</tspan><tspan dy="-2.2"> (Å</tspan><tspan font-size="6.2" dy="-3.6">−1</tspan><tspan dy="3.6">)</tspan></text>
<text transform="translate(12.3,79) rotate(-90) scale(1 1.05)" font-size="9.0" fill="#231f20" text-anchor="middle"><tspan font-style="italic">k</tspan><tspan font-style="italic" font-size="6.2" dy="2.2">y</tspan><tspan dy="-2.2"> (Å</tspan><tspan font-size="6.2" dy="-3.6">−1</tspan><tspan dy="3.6">)</tspan></text>
<text transform="translate(12.3,195.0) rotate(-90) scale(1 1.05)" font-size="9.0" fill="#231f20" text-anchor="middle"><tspan font-style="italic">k</tspan><tspan font-style="italic" font-size="6.2" dy="2.2">y</tspan><tspan dy="-2.2"> (Å</tspan><tspan font-size="6.2" dy="-3.6">−1</tspan><tspan dy="3.6">)</tspan></text>
<text x="-0.3" y="10.8" font-size="12" font-weight="bold" fill="#000" stroke="#000" stroke-width="0.5">a</text>
<rect x="284.4" y="85.6" width="6.3" height="104" fill="url(#viridis)"/>
<path d="M284.4 85.8 L287.55 80.4 L290.7 85.8 Z" fill="#fde725"/>
<g stroke="#444" stroke-width="0.6"><line x1="290.7" y1="85.6" x2="292.9" y2="85.6"/><line x1="290.7" y1="98.6" x2="292.9" y2="98.6"/><line x1="290.7" y1="111.6" x2="292.9" y2="111.6"/><line x1="290.7" y1="124.6" x2="292.9" y2="124.6"/><line x1="290.7" y1="137.6" x2="292.9" y2="137.6"/><line x1="290.7" y1="150.6" x2="292.9" y2="150.6"/><line x1="290.7" y1="163.6" x2="292.9" y2="163.6"/><line x1="290.7" y1="176.6" x2="292.9" y2="176.6"/><line x1="290.7" y1="189.6" x2="292.9" y2="189.6"/></g>
<text transform="translate(0 88.85) scale(1 1.05) translate(0 -88.85)" x="296.8" y="88.85" font-size="9.4" fill="#231f20">200</text>
<text transform="translate(0 140.85) scale(1 1.05) translate(0 -140.85)" x="296.8" y="140.85" font-size="9.4" fill="#231f20">100</text>
<text transform="translate(0 192.85) scale(1 1.05) translate(0 -192.85)" x="296.8" y="192.85" font-size="9.4" fill="#231f20">0</text>
<text x="322.7" y="8.9" font-size="12" font-weight="bold" fill="#000" stroke="#000" stroke-width="0.5">b</text>
<g stroke="#6f6f6f" stroke-width="0.8" fill="none">
<path d="M352.6 6 L352.6 115.3 L482.3 115.3"/>
<line x1="349.6" y1="113.20" x2="352.6" y2="113.20"/>
<line x1="349.6" y1="99.03" x2="352.6" y2="99.03"/>
<line x1="349.6" y1="84.87" x2="352.6" y2="84.87"/>
<line x1="349.6" y1="70.71" x2="352.6" y2="70.71"/>
<line x1="349.6" y1="56.54" x2="352.6" y2="56.54"/>
<line x1="349.6" y1="42.38" x2="352.6" y2="42.38"/>
<line x1="349.6" y1="28.21" x2="352.6" y2="28.21"/>
<line x1="349.6" y1="14.05" x2="352.6" y2="14.05"/>
<line x1="366.20" y1="115.3" x2="366.20" y2="118"/>
<line x1="383.20" y1="115.3" x2="383.20" y2="118"/>
<line x1="400.20" y1="115.3" x2="400.20" y2="118"/>
<line x1="417.20" y1="115.3" x2="417.20" y2="118"/>
<line x1="434.20" y1="115.3" x2="434.20" y2="118"/>
<line x1="451.20" y1="115.3" x2="451.20" y2="118"/>
<line x1="468.20" y1="115.3" x2="468.20" y2="118"/>
</g>
<text transform="translate(0 116.55) scale(1 1.05) translate(0 -116.55)" x="345.4" y="116.55" font-size="9.4" fill="#231f20" text-anchor="end">0</text>
<text transform="translate(0 88.22) scale(1 1.05) translate(0 -88.22)" x="345.4" y="88.22" font-size="9.4" fill="#231f20" text-anchor="end">1</text>
<text transform="translate(0 59.89) scale(1 1.05) translate(0 -59.89)" x="345.4" y="59.89" font-size="9.4" fill="#231f20" text-anchor="end">2</text>
<text transform="translate(0 31.56) scale(1 1.05) translate(0 -31.56)" x="345.4" y="31.56" font-size="9.4" fill="#231f20" text-anchor="end">3</text>
<text transform="translate(0 129.30) scale(1 1.05) translate(0 -129.30)" x="366.20" y="129.3" font-size="9.4" fill="#231f20" text-anchor="middle">−0.06</text>
<text transform="translate(0 129.30) scale(1 1.05) translate(0 -129.30)" x="417.20" y="129.3" font-size="9.4" fill="#231f20" text-anchor="middle">0</text>
<text transform="translate(0 129.30) scale(1 1.05) translate(0 -129.30)" x="468.20" y="129.3" font-size="9.4" fill="#231f20" text-anchor="middle">0.06</text>
<text transform="translate(0 146.10) scale(1 1.05) translate(0 -146.10)" x="417.4" y="146.1" font-size="9.4" fill="#231f20" text-anchor="middle">Distance from node (Å<tspan font-size="6.6" dy="-3.6">−1</tspan><tspan dy="3.6">)</tspan></text>
<text transform="translate(331.2,60.4) rotate(-90) scale(1 1.05)" font-size="9.4" fill="#231f20" text-anchor="middle">SC gap (meV)</text>
<path d="M417.20 113.40 L417.70 112.78 L418.19 112.12 L418.69 111.42 L419.18 110.69 L419.68 109.94 L420.17 109.16 L420.67 108.36 L421.17 107.55 L421.66 106.73 L422.16 105.89 L422.65 105.06 L423.15 104.22 L423.65 103.39 L424.14 102.56 L424.64 101.74 L425.13 100.93 L425.63 100.12 L426.12 99.33 L426.62 98.54 L427.12 97.77 L427.61 97.00 L428.11 96.25 L428.60 95.51 L429.10 94.78 L429.59 94.07 L430.09 93.37 L430.59 92.68 L431.08 92.01 L431.58 91.36 L432.07 90.72 L432.57 90.10 L433.07 89.50 L433.56 88.91 L434.06 88.33 L434.55 87.78 L435.05 87.23 L435.54 86.71 L436.04 86.20 L436.54 85.70 L437.03 85.22 L437.53 84.76 L438.02 84.31 L438.52 83.88 L439.02 83.46 L439.51 83.07 L440.01 82.68 L440.50 82.31 L441.00 81.96 L441.49 81.62 L441.99 81.30 L442.49 81.00 L442.98 80.71 L443.48 80.43 L443.97 80.18 L444.47 79.93 L444.96 79.70 L445.46 79.49 L445.96 79.29 L446.45 79.10 L446.95 78.93 L447.44 78.78 L447.94 78.63 L448.44 78.51 L448.93 78.39 L449.43 78.29 L449.92 78.21 L450.42 78.13 L450.91 78.07 L451.41 78.03 L451.91 78.00 L452.40 77.98 L452.90 77.97 L453.39 77.98 L453.89 78.00 L454.38 78.03 L454.88 78.07 L455.38 78.13 L455.87 78.20 L456.37 78.28 L456.86 78.38 L457.36 78.48 L457.86 78.60 L458.35 78.73 L458.85 78.87 L459.34 79.02 L459.84 79.19 L460.33 79.36 L460.83 79.55 L461.33 79.75 L461.82 79.96 L462.32 80.17 L462.81 80.40 L463.31 80.64 L463.81 80.90 L464.30 81.16 L464.80 81.43 L465.29 81.71 L465.79 82.00 L466.28 82.30 L466.78 82.61 L467.28 82.93 L467.77 83.26 L468.27 83.60 L468.76 83.95 L469.26 84.31 L469.75 84.67 L470.25 85.05 L470.75 85.43 L471.24 85.83 L471.74 86.23 L472.23 86.64 L472.73 87.05 L473.23 87.48 L473.72 87.91 L474.22 88.36 L474.71 88.81 L475.21 89.26 L475.70 89.73 L476.20 90.20 M417.20 113.40 L416.70 112.78 L416.21 112.12 L415.71 111.42 L415.22 110.69 L414.72 109.94 L414.23 109.16 L413.73 108.36 L413.23 107.55 L412.74 106.73 L412.24 105.89 L411.75 105.06 L411.25 104.22 L410.75 103.39 L410.26 102.56 L409.76 101.74 L409.27 100.93 L408.77 100.12 L408.28 99.33 L407.78 98.54 L407.28 97.77 L406.79 97.00 L406.29 96.25 L405.80 95.51 L405.30 94.78 L404.81 94.07 L404.31 93.37 L403.81 92.68 L403.32 92.01 L402.82 91.36 L402.33 90.72 L401.83 90.10 L401.33 89.50 L400.84 88.91 L400.34 88.33 L399.85 87.78 L399.35 87.23 L398.86 86.71 L398.36 86.20 L397.86 85.70 L397.37 85.22 L396.87 84.76 L396.38 84.31 L395.88 83.88 L395.38 83.46 L394.89 83.07 L394.39 82.68 L393.90 82.31 L393.40 81.96 L392.91 81.62 L392.41 81.30 L391.91 81.00 L391.42 80.71 L390.92 80.43 L390.43 80.18 L389.93 79.93 L389.44 79.70 L388.94 79.49 L388.44 79.29 L387.95 79.10 L387.45 78.93 L386.96 78.78 L386.46 78.63 L385.96 78.51 L385.47 78.39 L384.97 78.29 L384.48 78.21 L383.98 78.13 L383.49 78.07 L382.99 78.03 L382.49 78.00 L382.00 77.98 L381.50 77.97 L381.01 77.98 L380.51 78.00 L380.02 78.03 L379.52 78.07 L379.02 78.13 L378.53 78.20 L378.03 78.28 L377.54 78.38 L377.04 78.48 L376.54 78.60 L376.05 78.73 L375.55 78.87 L375.06 79.02 L374.56 79.19 L374.07 79.36 L373.57 79.55 L373.07 79.75 L372.58 79.96 L372.08 80.17 L371.59 80.40 L371.09 80.64 L370.59 80.90 L370.10 81.16 L369.60 81.43 L369.11 81.71 L368.61 82.00 L368.12 82.30 L367.62 82.61 L367.12 82.93 L366.63 83.26 L366.13 83.60 L365.64 83.95 L365.14 84.31 L364.65 84.67 L364.15 85.05 L363.65 85.43 L363.16 85.83 L362.66 86.23 L362.17 86.64 L361.67 87.05 L361.17 87.48 L360.68 87.91 L360.18 88.36 L359.69 88.81 L359.19 89.26 L358.70 89.73 L358.20 90.20" stroke="#1a1a1a" stroke-width="1" fill="none" stroke-linejoin="round"/>
<circle cx="417.20" cy="113.4" r="1.45" fill="#000"/>
<circle cx="420.40" cy="108.8" r="1.45" fill="#000"/>
<circle cx="414.00" cy="108.8" r="1.45" fill="#000"/>
<circle cx="423.40" cy="103.8" r="1.45" fill="#000"/>
<circle cx="411.00" cy="103.8" r="1.45" fill="#000"/>
<circle cx="430.50" cy="92.8" r="1.45" fill="#000"/>
<circle cx="403.90" cy="92.8" r="1.45" fill="#000"/>
<circle cx="440.80" cy="82.1" r="1.45" fill="#000"/>
<circle cx="393.60" cy="82.1" r="1.45" fill="#000"/>
<circle cx="458.60" cy="78.8" r="1.45" fill="#000"/>
<circle cx="375.80" cy="78.8" r="1.45" fill="#000"/>
<circle cx="476.20" cy="90.2" r="1.45" fill="#000"/>
<circle cx="358.20" cy="90.2" r="1.45" fill="#000"/>
<path d="M417.20 113.40 L417.70 111.96 L418.19 110.48 L418.69 108.96 L419.18 107.42 L419.68 105.84 L420.17 104.24 L420.67 102.61 L421.17 100.96 L421.66 99.30 L422.16 97.63 L422.65 95.94 L423.15 94.25 L423.65 92.56 L424.14 90.87 L424.64 89.18 L425.13 87.49 L425.63 85.81 L426.12 84.14 L426.62 82.48 L427.12 80.83 L427.61 79.20 L428.11 77.58 L428.60 75.99 L429.10 74.41 L429.59 72.86 L430.09 71.34 L430.59 69.84 L431.08 68.37 L431.58 66.94 L432.07 65.53 L432.57 64.15 L433.07 62.81 L433.56 61.50 L434.06 60.22 L434.55 58.98 L435.05 57.76 L435.54 56.59 L436.04 55.44 L436.54 54.33 L437.03 53.26 L437.53 52.22 L438.02 51.22 L438.52 50.25 L439.02 49.33 L439.51 48.44 L440.01 47.58 L440.50 46.77 L441.00 45.99 L441.49 45.26 L441.99 44.56 L442.49 43.90 L442.98 43.28 L443.48 42.70 L443.97 42.15 L444.47 41.64 L444.96 41.16 L445.46 40.72 L445.96 40.31 L446.45 39.94 L446.95 39.60 L447.44 39.30 L447.94 39.03 L448.44 38.79 L448.93 38.58 L449.43 38.41 L449.92 38.27 L450.42 38.15 L450.91 38.07 L451.41 38.02 L451.91 37.99 L452.40 38.00 L452.90 38.03 L453.39 38.09 L453.89 38.18 L454.38 38.30 L454.88 38.44 L455.38 38.61 L455.87 38.80 L456.37 39.02 L456.86 39.26 L457.36 39.53 L457.86 39.82 L458.35 40.13 L458.85 40.47 L459.34 40.83 L459.84 41.21 L460.33 41.61 L460.83 42.04 L461.33 42.48 L461.82 42.94 L462.32 43.43 L462.81 43.93 L463.31 44.45 L463.81 44.99 L464.30 45.55 L464.80 46.12 L465.29 46.71 L465.79 47.32 L466.28 47.94 L466.78 48.58 L467.28 49.23 L467.77 49.90 L468.27 50.58 L468.76 51.28 L469.26 51.98 L469.75 52.70 L470.25 53.44 L470.75 54.18 L471.24 54.94 L471.74 55.70 L472.23 56.48 L472.73 57.26 L473.23 58.06 L473.72 58.86 L474.22 59.68 L474.71 60.50 L475.21 61.32 L475.70 62.16 L476.20 63.00 M417.20 113.40 L416.70 111.96 L416.21 110.48 L415.71 108.96 L415.22 107.42 L414.72 105.84 L414.23 104.24 L413.73 102.61 L413.23 100.96 L412.74 99.30 L412.24 97.63 L411.75 95.94 L411.25 94.25 L410.75 92.56 L410.26 90.87 L409.76 89.18 L409.27 87.49 L408.77 85.81 L408.28 84.14 L407.78 82.48 L407.28 80.83 L406.79 79.20 L406.29 77.58 L405.80 75.99 L405.30 74.41 L404.81 72.86 L404.31 71.34 L403.81 69.84 L403.32 68.37 L402.82 66.94 L402.33 65.53 L401.83 64.15 L401.33 62.81 L400.84 61.50 L400.34 60.22 L399.85 58.98 L399.35 57.76 L398.86 56.59 L398.36 55.44 L397.86 54.33 L397.37 53.26 L396.87 52.22 L396.38 51.22 L395.88 50.25 L395.38 49.33 L394.89 48.44 L394.39 47.58 L393.90 46.77 L393.40 45.99 L392.91 45.26 L392.41 44.56 L391.91 43.90 L391.42 43.28 L390.92 42.70 L390.43 42.15 L389.93 41.64 L389.44 41.16 L388.94 40.72 L388.44 40.31 L387.95 39.94 L387.45 39.60 L386.96 39.30 L386.46 39.03 L385.96 38.79 L385.47 38.58 L384.97 38.41 L384.48 38.27 L383.98 38.15 L383.49 38.07 L382.99 38.02 L382.49 37.99 L382.00 38.00 L381.50 38.03 L381.01 38.09 L380.51 38.18 L380.02 38.30 L379.52 38.44 L379.02 38.61 L378.53 38.80 L378.03 39.02 L377.54 39.26 L377.04 39.53 L376.54 39.82 L376.05 40.13 L375.55 40.47 L375.06 40.83 L374.56 41.21 L374.07 41.61 L373.57 42.04 L373.07 42.48 L372.58 42.94 L372.08 43.43 L371.59 43.93 L371.09 44.45 L370.59 44.99 L370.10 45.55 L369.60 46.12 L369.11 46.71 L368.61 47.32 L368.12 47.94 L367.62 48.58 L367.12 49.23 L366.63 49.90 L366.13 50.58 L365.64 51.28 L365.14 51.98 L364.65 52.70 L364.15 53.44 L363.65 54.18 L363.16 54.94 L362.66 55.70 L362.17 56.48 L361.67 57.26 L361.17 58.06 L360.68 58.86 L360.18 59.68 L359.69 60.50 L359.19 61.32 L358.70 62.16 L358.20 63.00" stroke="#ff2a2a" stroke-width="1" fill="none" stroke-linejoin="round"/>
<circle cx="417.20" cy="113.4" r="1.45" fill="#e00000"/>
<circle cx="420.40" cy="103.5" r="1.45" fill="#e00000"/>
<circle cx="414.00" cy="103.5" r="1.45" fill="#e00000"/>
<circle cx="423.40" cy="93.4" r="1.45" fill="#e00000"/>
<circle cx="411.00" cy="93.4" r="1.45" fill="#e00000"/>
<circle cx="430.50" cy="70.1" r="1.45" fill="#e00000"/>
<circle cx="403.90" cy="70.1" r="1.45" fill="#e00000"/>
<circle cx="440.80" cy="46.3" r="1.45" fill="#e00000"/>
<circle cx="393.60" cy="46.3" r="1.45" fill="#e00000"/>
<circle cx="458.60" cy="40.3" r="1.45" fill="#e00000"/>
<circle cx="375.80" cy="40.3" r="1.45" fill="#e00000"/>
<circle cx="476.20" cy="63.0" r="1.45" fill="#e00000"/>
<circle cx="358.20" cy="63.0" r="1.45" fill="#e00000"/>
<path d="M417.20 113.40 L417.70 111.37 L418.19 109.28 L418.69 107.16 L419.18 104.98 L419.68 102.77 L420.17 100.53 L420.67 98.26 L421.17 95.96 L421.66 93.64 L422.16 91.30 L422.65 88.95 L423.15 86.59 L423.65 84.23 L424.14 81.87 L424.64 79.51 L425.13 77.15 L425.63 74.81 L426.12 72.48 L426.62 70.16 L427.12 67.86 L427.61 65.58 L428.11 63.33 L428.60 61.10 L429.10 58.91 L429.59 56.75 L430.09 54.62 L430.59 52.54 L431.08 50.50 L431.58 48.50 L432.07 46.55 L432.57 44.64 L433.07 42.78 L433.56 40.96 L434.06 39.19 L434.55 37.47 L435.05 35.80 L435.54 34.17 L436.04 32.59 L436.54 31.06 L437.03 29.58 L437.53 28.15 L438.02 26.77 L438.52 25.44 L439.02 24.16 L439.51 22.94 L440.01 21.76 L440.50 20.65 L441.00 19.58 L441.49 18.57 L441.99 17.61 L442.49 16.71 L442.98 15.86 L443.48 15.05 L443.97 14.30 L444.47 13.60 L444.96 12.95 L445.46 12.35 L445.96 11.79 L446.45 11.29 L446.95 10.83 L447.44 10.41 L447.94 10.05 L448.44 9.72 L448.93 9.44 L449.43 9.21 L449.92 9.01 L450.42 8.86 L450.91 8.75 L451.41 8.69 L451.91 8.66 L452.40 8.67 L452.90 8.72 L453.39 8.81 L453.89 8.94 L454.38 9.10 L454.88 9.30 L455.38 9.54 L455.87 9.81 L456.37 10.12 L456.86 10.45 L457.36 10.83 L457.86 11.23 L458.35 11.67 L458.85 12.14 L459.34 12.64 L459.84 13.16 L460.33 13.72 L460.83 14.31 L461.33 14.92 L461.82 15.56 L462.32 16.23 L462.81 16.93 L463.31 17.64 L463.81 18.39 L464.30 19.16 L464.80 19.95 L465.29 20.76 L465.79 21.60 L466.28 22.46 L466.78 23.33 L467.28 24.23 L467.77 25.15 L468.27 26.09 L468.76 27.04 L469.26 28.01 L469.75 29.00 L470.25 30.01 L470.75 31.03 L471.24 32.07 L471.74 33.12 L472.23 34.18 L472.73 35.26 L473.23 36.34 L473.72 37.45 L474.22 38.56 L474.71 39.68 L475.21 40.81 L475.70 41.95 L476.20 43.10 M417.20 113.40 L416.70 111.37 L416.21 109.28 L415.71 107.16 L415.22 104.98 L414.72 102.77 L414.23 100.53 L413.73 98.26 L413.23 95.96 L412.74 93.64 L412.24 91.30 L411.75 88.95 L411.25 86.59 L410.75 84.23 L410.26 81.87 L409.76 79.51 L409.27 77.15 L408.77 74.81 L408.28 72.48 L407.78 70.16 L407.28 67.86 L406.79 65.58 L406.29 63.33 L405.80 61.10 L405.30 58.91 L404.81 56.75 L404.31 54.62 L403.81 52.54 L403.32 50.50 L402.82 48.50 L402.33 46.55 L401.83 44.64 L401.33 42.78 L400.84 40.96 L400.34 39.19 L399.85 37.47 L399.35 35.80 L398.86 34.17 L398.36 32.59 L397.86 31.06 L397.37 29.58 L396.87 28.15 L396.38 26.77 L395.88 25.44 L395.38 24.16 L394.89 22.94 L394.39 21.76 L393.90 20.65 L393.40 19.58 L392.91 18.57 L392.41 17.61 L391.91 16.71 L391.42 15.86 L390.92 15.05 L390.43 14.30 L389.93 13.60 L389.44 12.95 L388.94 12.35 L388.44 11.79 L387.95 11.29 L387.45 10.83 L386.96 10.41 L386.46 10.05 L385.96 9.72 L385.47 9.44 L384.97 9.21 L384.48 9.01 L383.98 8.86 L383.49 8.75 L382.99 8.69 L382.49 8.66 L382.00 8.67 L381.50 8.72 L381.01 8.81 L380.51 8.94 L380.02 9.10 L379.52 9.30 L379.02 9.54 L378.53 9.81 L378.03 10.12 L377.54 10.45 L377.04 10.83 L376.54 11.23 L376.05 11.67 L375.55 12.14 L375.06 12.64 L374.56 13.16 L374.07 13.72 L373.57 14.31 L373.07 14.92 L372.58 15.56 L372.08 16.23 L371.59 16.93 L371.09 17.64 L370.59 18.39 L370.10 19.16 L369.60 19.95 L369.11 20.76 L368.61 21.60 L368.12 22.46 L367.62 23.33 L367.12 24.23 L366.63 25.15 L366.13 26.09 L365.64 27.04 L365.14 28.01 L364.65 29.00 L364.15 30.01 L363.65 31.03 L363.16 32.07 L362.66 33.12 L362.17 34.18 L361.67 35.26 L361.17 36.34 L360.68 37.45 L360.18 38.56 L359.69 39.68 L359.19 40.81 L358.70 41.95 L358.20 43.10" stroke="#2f9e2f" stroke-width="1" fill="none" stroke-linejoin="round"/>
<circle cx="417.20" cy="113.4" r="1.45" fill="#0d7d0d"/>
<circle cx="420.40" cy="99.5" r="1.45" fill="#0d7d0d"/>
<circle cx="414.00" cy="99.5" r="1.45" fill="#0d7d0d"/>
<circle cx="423.40" cy="85.4" r="1.45" fill="#0d7d0d"/>
<circle cx="411.00" cy="85.4" r="1.45" fill="#0d7d0d"/>
<circle cx="430.50" cy="52.9" r="1.45" fill="#0d7d0d"/>
<circle cx="403.90" cy="52.9" r="1.45" fill="#0d7d0d"/>
<circle cx="440.80" cy="20.0" r="1.45" fill="#0d7d0d"/>
<circle cx="393.60" cy="20.0" r="1.45" fill="#0d7d0d"/>
<circle cx="458.60" cy="11.9" r="1.45" fill="#0d7d0d"/>
<circle cx="375.80" cy="11.9" r="1.45" fill="#0d7d0d"/>
<circle cx="476.20" cy="43.1" r="1.45" fill="#0d7d0d"/>
<circle cx="358.20" cy="43.1" r="1.45" fill="#0d7d0d"/>
<text transform="translate(0 23.30) scale(1 1.05) translate(0 -23.30)" x="397" y="23.3" font-size="9.4" fill="#231f20">21 meV</text>
<text transform="translate(0 36.20) scale(1 1.05) translate(0 -36.20)" x="365.2" y="36.2" font-size="9.4" fill="#231f20">15 meV</text>
<text transform="translate(0 75.40) scale(1 1.05) translate(0 -75.40)" x="366" y="75.4" font-size="9.4" fill="#231f20">7 meV</text>
<text x="323.0" y="165.2" font-size="12.4" font-weight="bold" fill="#000" stroke="#000" stroke-width="0.5">c</text>
<clipPath id="clipC"><rect x="352.3" y="170.4" width="117.19999999999999" height="108.4"/></clipPath>
<g clip-path="url(#clipC)">
<rect x="352.3" y="170.4" width="117.19999999999999" height="108.4" fill="#fff"/>
<path d="M401.8 170.4 L442.2 170.4 L458.0 224.6 L442.2 278.8 L401.8 278.8 L373.6 224.6 Z" fill="#1e90ff" stroke="#1e90ff" stroke-width="1.4" stroke-linejoin="bevel"/>
<clipPath id="clipGL"><path d="M351.3 169.4 L401.8 169.4 L373.6 224.6 L401.8 279.8 L351.3 279.8 L351.3 258.0 L352.3 258.0 L373.6 224.6 L352.3 191.2 L351.3 191.2 Z"/></clipPath>
<path d="M351.3 169.4 L401.8 169.4 L373.6 224.6 L401.8 279.8 L351.3 279.8 L351.3 258.0 L352.3 258.0 L373.6 224.6 L352.3 191.2 L351.3 191.2 Z" fill="#33cc33"/>
<path d="M442.2 169.4 L470.5 169.4 L470.5 190.7 L458.0 224.6 L470.5 258.5 L470.5 279.8 L442.2 279.8 L458.0 224.6 Z" fill="#33cc33"/>
<g clip-path="url(#clipGL)"><path d="M401.8 170.4 L373.6 224.6 L401.8 278.8" stroke="#2c8f38" stroke-width="7" fill="none" opacity="0.45" filter="url(#soft2)"/></g>
<path d="M373.6 224.6 C381 215.5 390 205 397.6 196.8 C401 192.5 405 190.3 409.3 190.3 C415.5 190.3 422 196 426.9 205.2 C430.5 211.5 434.5 218 437.6 224.6 C434.5 231.2 430.5 237.7 426.9 244.0 C422 253.2 415.5 258.9 409.3 258.9 C405 258.9 401 256.7 397.6 252.4 C390 244.2 381 233.7 373.6 224.6 Z" fill="#fff"/>
<path d="M397.6 196.8 C401 192.5 405 190.3 409.3 190.3 C415.5 190.3 422 196 426.9 205.2 L416.9 224.6 C412 215 405 205 397.6 196.8 Z M397.6 252.4 C401 256.7 405 258.9 409.3 258.9 C415.5 258.9 422 253.2 426.9 244.0 L416.9 224.6 C412 234.2 405 244.2 397.6 252.4 Z" fill="#8b0000"/>
<path d="M437.6 224.6 L446.8 198.4 L450.5 198.4 L458.0 224.6 L450.5 250.8 L446.8 250.8 Z" fill="#fff"/>
<path d="M446.8 198.4 L450.5 198.4 L458.0 224.6 L457.3 224.6 Q450.5 213 446.8 198.4 Z M446.8 250.8 L450.5 250.8 L458.0 224.6 L457.3 224.6 Q450.5 236.2 446.8 250.8 Z" fill="#8b0000"/>
<g stroke="#000" fill="none" stroke-width="1.5">
<path d="M378.8 218.2 Q384 223.8 392 224.5 L415 224.6 M378.8 231.0 Q384 225.4 392 224.7 L415 224.6"/>
<path d="M419 224.6 L435 224.6 M440 224.6 L448.5 224.6 Q452.5 224.6 455.6 218.8 M448.5 224.6 Q452.5 224.6 455.6 230.4"/>
</g>
<ellipse cx="418.8" cy="224.6" rx="1.9" ry="1.4" fill="#000"/>
<ellipse cx="435.0" cy="224.6" rx="1.9" ry="1.4" fill="#000"/>
<ellipse cx="440.0" cy="224.6" rx="1.9" ry="1.4" fill="#000"/>
<path d="M425.5 234.6 L425.5 229.2" stroke="#1f9d3a" stroke-width="1"/>
<path d="M423.6 230.2 L425.5 226.6 L427.4 230.2 Z" fill="#1f9d3a"/>
</g>
<rect x="352.3" y="170.4" width="117.19999999999999" height="108.4" fill="none" stroke="#8a8a8a" stroke-width="0.8"/>
<g stroke="#6f6f6f" stroke-width="0.8"><line x1="349.5" y1="170.40" x2="352.3" y2="170.40"/><line x1="349.5" y1="183.95" x2="352.3" y2="183.95"/><line x1="349.5" y1="197.50" x2="352.3" y2="197.50"/><line x1="349.5" y1="211.05" x2="352.3" y2="211.05"/><line x1="349.5" y1="224.60" x2="352.3" y2="224.60"/><line x1="349.5" y1="238.15" x2="352.3" y2="238.15"/><line x1="349.5" y1="251.70" x2="352.3" y2="251.70"/><line x1="349.5" y1="265.25" x2="352.3" y2="265.25"/><line x1="349.5" y1="278.80" x2="352.3" y2="278.80"/><line x1="352.30" y1="278.8" x2="352.30" y2="281.6"/><line x1="366.95" y1="278.8" x2="366.95" y2="281.6"/><line x1="381.60" y1="278.8" x2="381.60" y2="281.6"/><line x1="396.25" y1="278.8" x2="396.25" y2="281.6"/><line x1="410.90" y1="278.8" x2="410.90" y2="281.6"/><line x1="425.55" y1="278.8" x2="425.55" y2="281.6"/><line x1="440.20" y1="278.8" x2="440.20" y2="281.6"/><line x1="454.85" y1="278.8" x2="454.85" y2="281.6"/><line x1="469.50" y1="278.8" x2="469.50" y2="281.6"/></g>
<text transform="translate(0 173.75) scale(1 1.05) translate(0 -173.75)" x="345" y="173.75" font-size="9.4" fill="#231f20" text-anchor="end">0.1</text>
<text transform="translate(0 227.95) scale(1 1.05) translate(0 -227.95)" x="345" y="227.95" font-size="9.4" fill="#231f20" text-anchor="end">0</text>
<text transform="translate(0 282.55) scale(1 1.05) translate(0 -282.55)" x="345" y="282.55" font-size="9.4" fill="#231f20" text-anchor="end">−0.1</text>
<text transform="translate(0 227.95) scale(1 1.05) translate(0 -227.95)" x="325.8" y="227.95" font-size="9.4" fill="#231f20" font-style="italic">E</text>
<text transform="translate(0 293.50) scale(1 1.05) translate(0 -293.50)" x="352.6" y="293.5" font-size="9.4" fill="#231f20" text-anchor="middle">1.05</text>
<text transform="translate(0 293.50) scale(1 1.05) translate(0 -293.50)" x="469.5" y="293.5" font-size="9.4" fill="#231f20" text-anchor="middle">1.45</text>
<text transform="translate(0 293.50) scale(1 1.05) translate(0 -293.50)" x="410.9" y="293.5" font-size="9.4" fill="#231f20" text-anchor="middle"><tspan font-style="italic">k</tspan><tspan font-style="italic" font-size="6.6" dy="2.2">y</tspan></text>
<rect x="476.1" y="170.2" width="6.1" height="108.4" fill="url(#cbc)"/>
<g stroke="#555" stroke-width="0.6"><line x1="482.2" y1="170.20" x2="484.6" y2="170.20"/><line x1="482.2" y1="191.88" x2="484.6" y2="191.88"/><line x1="482.2" y1="213.56" x2="484.6" y2="213.56"/><line x1="482.2" y1="235.24" x2="484.6" y2="235.24"/><line x1="482.2" y1="256.92" x2="484.6" y2="256.92"/><line x1="482.2" y1="278.60" x2="484.6" y2="278.60"/></g>
<text transform="translate(0 173.55) scale(1 1.05) translate(0 -173.55)" x="486.8" y="173.55" font-size="9.4" fill="#231f20">1</text>
<text transform="translate(0 281.95) scale(1 1.05) translate(0 -281.95)" x="486.8" y="281.95" font-size="9.4" fill="#231f20">0</text>
<text transform="translate(0 229.00) scale(1 1.05) translate(0 -229.00)" x="486.0" y="229.0" font-size="9.6" fill="#6a6a6a" textLength="11.2" lengthAdjust="spacingAndGlyphs">|ψ|</text><text transform="translate(0 224.60) scale(1 1.05) translate(0 -224.60)" x="496.2" y="224.6" font-size="6.2" fill="#6a6a6a">2</text>
<text x="507.1" y="8.7" font-size="12" font-weight="bold" fill="#000" stroke="#000" stroke-width="0.5">d</text>
<path d="M627.9 45.7 L657.5 16.5 L659.5 16.5 L659.5 76.3 L628 105.5 Z" fill="url(#rightfade)"/>
<path d="M567.6 45.7 L597 16 L659 16 L627.9 45.7 Z" fill="url(#topfade)"/>
<rect x="650" y="12" width="12" height="36" fill="url(#toprightfade)"/>
<rect x="567.6" y="45.7" width="60.3" height="59.8" fill="#f0c674" stroke="#4a4a4a" stroke-width="0.8"/>
<linearGradient id="redfade" gradientUnits="userSpaceOnUse" x1="0" y1="16" x2="0" y2="26"><stop offset="0" stop-color="#e03535" stop-opacity="0"/><stop offset="1" stop-color="#e03535" stop-opacity="1"/></linearGradient>
<linearGradient id="redfade2" gradientUnits="userSpaceOnUse" x1="650" y1="0" x2="660" y2="0"><stop offset="0" stop-color="#e03535" stop-opacity="1"/><stop offset="1" stop-color="#e03535" stop-opacity="0"/></linearGradient>
<g stroke-width="1.2" fill="none">
<path d="M567.6 45.7 L597.6 16.2" stroke="url(#redfade)"/><path d="M627.9 45.7 L657.6 16.2" stroke="url(#redfade)"/><path d="M628 105.5 L658.6 76" stroke="url(#redfade2)"/>
</g>
<g stroke="#dc3030" stroke-width="1.4" fill="none" stroke-dasharray="1.9 1.3">
<path d="M567.2 46.1 L537.4 75.6"/><path d="M627.5 46.1 L598.6 75.2"/><path d="M567.2 106 L537.4 136.4"/><path d="M627.5 106 L598.6 136.4"/>
</g>
<text x="507.7" y="165.7" font-size="12.4" font-weight="bold" fill="#000" stroke="#000" stroke-width="0.5">e</text>
<rect x="530.0" y="170.1" width="1" height="1" fill="#000000"/><rect x="530.0" y="171.1" width="1" height="1" fill="#070000"/><rect x="530.0" y="172.1" width="1" height="1" fill="#970600"/><rect x="530.0" y="173.1" width="1" height="1" fill="#f05c0e"/><rect x="530.0" y="174.1" width="1" height="1" fill="#ffb15a"/><rect x="530.0" y="175.1" width="1" height="1" fill="#ffdbab"/><rect x="530.0" y="176.1" width="1" height="1" fill="#ffe7c7"/><rect x="530.0" y="177.1" width="1" height="1" fill="#ffecd3"/><rect x="530.0" y="178.1" width="1" height="1" fill="#fff0dd"/><rect x="530.0" y="179.1" width="1" height="1" fill="#fff4e5"/><rect x="530.0" y="180.1" width="1" height="1" fill="#fff6ea"/><rect x="530.0" y="181.1" width="1" height="1" fill="#fff8ef"/><rect x="531.0" y="170.1" width="1" height="1" fill="#d72600"/><rect x="531.0" y="171.1" width="1" height="1" fill="#e73e05"/><rect x="531.0" y="172.1" width="1" height="1" fill="#fa7a16"/><rect x="531.0" y="173.1" width="1" height="1" fill="#ffb058"/><rect x="531.0" y="174.1" width="1" height="1" fill="#ffd49d"/><rect x="531.0" y="175.1" width="1" height="1" fill="#ffebd0"/><rect x="531.0" y="176.1" width="1" height="1" fill="#fff1e0"/><rect x="531.0" y="177.1" width="1" height="1" fill="#fff4e6"/><rect x="531.0" y="178.1" width="1" height="1" fill="#fff7ec"/><rect x="531.0" y="179.1" width="1" height="1" fill="#fff9f0"/><rect x="532.0" y="170.1" width="1" height="1" fill="#140000"/><rect x="532.0" y="171.1" width="1" height="1" fill="#570000"/><rect x="532.0" y="172.1" width="1" height="1" fill="#be1900"/><rect x="532.0" y="173.1" width="1" height="1" fill="#f97815"/><rect x="532.0" y="174.1" width="1" height="1" fill="#ffbb6a"/><rect x="532.0" y="175.1" width="1" height="1" fill="#ffdfb5"/><rect x="532.0" y="176.1" width="1" height="1" fill="#ffeace"/><rect x="532.0" y="177.1" width="1" height="1" fill="#ffeed9"/><rect x="532.0" y="178.1" width="1" height="1" fill="#fff2e1"/><rect x="532.0" y="179.1" width="1" height="1" fill="#fff5e8"/><rect x="532.0" y="180.1" width="1" height="1" fill="#fff7ed"/><rect x="532.0" y="181.1" width="1" height="1" fill="#fff9f1"/><rect x="533.0" y="170.1" width="1" height="1" fill="#e84307"/><rect x="533.0" y="171.1" width="1" height="1" fill="#f15e0e"/><rect x="533.0" y="172.1" width="1" height="1" fill="#ff8f23"/><rect x="533.0" y="173.1" width="1" height="1" fill="#ffba68"/><rect x="533.0" y="174.1" width="1" height="1" fill="#ffd9a8"/><rect x="533.0" y="175.1" width="1" height="1" fill="#ffedd5"/><rect x="533.0" y="176.1" width="1" height="1" fill="#fff3e3"/><rect x="533.0" y="177.1" width="1" height="1" fill="#fff6e9"/><rect x="533.0" y="178.1" width="1" height="1" fill="#fff8ee"/><rect x="533.0" y="179.1" width="1" height="1" fill="#fff9f2"/><rect x="534.0" y="170.1" width="1" height="1" fill="#630000"/><rect x="534.0" y="171.1" width="1" height="1" fill="#960600"/><rect x="534.0" y="172.1" width="1" height="1" fill="#e02a00"/><rect x="534.0" y="173.1" width="1" height="1" fill="#ff8e21"/><rect x="534.0" y="174.1" width="1" height="1" fill="#ffc479"/><rect x="534.0" y="175.1" width="1" height="1" fill="#ffe3be"/><rect x="534.0" y="176.1" width="1" height="1" fill="#ffecd3"/><rect x="534.0" y="177.1" width="1" height="1" fill="#fff0dd"/><rect x="534.0" y="178.1" width="1" height="1" fill="#fff4e5"/><rect x="534.0" y="179.1" width="1" height="1" fill="#fff6ea"/><rect x="534.0" y="180.1" width="1" height="1" fill="#fff8ef"/><rect x="535.0" y="170.1" width="1" height="1" fill="#f2620f"/><rect x="535.0" y="171.1" width="1" height="1" fill="#fa7916"/><rect x="535.0" y="172.1" width="1" height="1" fill="#ff9d3a"/><rect x="535.0" y="173.1" width="1" height="1" fill="#ffc377"/><rect x="535.0" y="174.1" width="1" height="1" fill="#ffdeb2"/><rect x="535.0" y="175.1" width="1" height="1" fill="#ffefda"/><rect x="535.0" y="176.1" width="1" height="1" fill="#fff4e6"/><rect x="535.0" y="177.1" width="1" height="1" fill="#fff7ec"/><rect x="535.0" y="178.1" width="1" height="1" fill="#fff9f0"/><rect x="536.0" y="170.1" width="1" height="1" fill="#9d0900"/><rect x="536.0" y="171.1" width="1" height="1" fill="#bd1900"/><rect x="536.0" y="172.1" width="1" height="1" fill="#eb4c09"/><rect x="536.0" y="173.1" width="1" height="1" fill="#ff9d38"/><rect x="536.0" y="174.1" width="1" height="1" fill="#ffcb87"/><rect x="536.0" y="175.1" width="1" height="1" fill="#ffe6c5"/><rect x="536.0" y="176.1" width="1" height="1" fill="#ffeed9"/><rect x="536.0" y="177.1" width="1" height="1" fill="#fff2e1"/><rect x="536.0" y="178.1" width="1" height="1" fill="#fff5e8"/><rect x="536.0" y="179.1" width="1" height="1" fill="#fff7ed"/><rect x="536.0" y="180.1" width="1" height="1" fill="#fff9f1"/><rect x="537.0" y="170.1" width="1" height="1" fill="#fb7d17"/><rect x="537.0" y="171.1" width="1" height="1" fill="#ff8f22"/><rect x="537.0" y="172.1" width="1" height="1" fill="#ffaa4e"/><rect x="537.0" y="173.1" width="1" height="1" fill="#ffca85"/><rect x="537.0" y="174.1" width="1" height="1" fill="#ffe2bb"/><rect x="537.0" y="175.1" width="1" height="1" fill="#fff1df"/><rect x="537.0" y="176.1" width="1" height="1" fill="#fff6e9"/><rect x="537.0" y="177.1" width="1" height="1" fill="#fff8ee"/><rect x="537.0" y="178.1" width="1" height="1" fill="#fff9f2"/><rect x="538.0" y="170.1" width="1" height="1" fill="#c31c00"/><rect x="538.0" y="171.1" width="1" height="1" fill="#e02a00"/><rect x="538.0" y="172.1" width="1" height="1" fill="#f56a11"/><rect x="538.0" y="173.1" width="1" height="1" fill="#ffa94d"/><rect x="538.0" y="174.1" width="1" height="1" fill="#ffd195"/><rect x="538.0" y="175.1" width="1" height="1" fill="#ffe9cc"/><rect x="538.0" y="176.1" width="1" height="1" fill="#fff0dd"/><rect x="538.0" y="177.1" width="1" height="1" fill="#fff4e5"/><rect x="538.0" y="178.1" width="1" height="1" fill="#fff6ea"/><rect x="538.0" y="179.1" width="1" height="1" fill="#fff8ef"/><rect x="539.0" y="170.1" width="1" height="1" fill="#ff9126"/><rect x="539.0" y="171.1" width="1" height="1" fill="#ff9d39"/><rect x="539.0" y="172.1" width="1" height="1" fill="#ffb460"/><rect x="539.0" y="173.1" width="1" height="1" fill="#ffd094"/><rect x="539.0" y="174.1" width="1" height="1" fill="#ffe5c3"/><rect x="539.0" y="175.1" width="1" height="1" fill="#fff3e2"/><rect x="539.0" y="176.1" width="1" height="1" fill="#fff7ec"/><rect x="539.0" y="177.1" width="1" height="1" fill="#fff9f0"/><rect x="540.0" y="170.1" width="1" height="1" fill="#e22f01"/><rect x="540.0" y="171.1" width="1" height="1" fill="#eb4c09"/><rect x="540.0" y="172.1" width="1" height="1" fill="#fd8418"/><rect x="540.0" y="173.1" width="1" height="1" fill="#ffb45f"/><rect x="540.0" y="174.1" width="1" height="1" fill="#ffd7a2"/><rect x="540.0" y="175.1" width="1" height="1" fill="#ffecd2"/><rect x="540.0" y="176.1" width="1" height="1" fill="#fff2e1"/><rect x="540.0" y="177.1" width="1" height="1" fill="#fff5e8"/><rect x="540.0" y="178.1" width="1" height="1" fill="#fff7ed"/><rect x="540.0" y="179.1" width="1" height="1" fill="#fff9f1"/><rect x="541.0" y="170.1" width="1" height="1" fill="#ff9f3d"/><rect x="541.0" y="171.1" width="1" height="1" fill="#ffa94e"/><rect x="541.0" y="172.1" width="1" height="1" fill="#ffbe70"/><rect x="541.0" y="173.1" width="1" height="1" fill="#ffd6a0"/><rect x="541.0" y="174.1" width="1" height="1" fill="#ffe8ca"/><rect x="541.0" y="175.1" width="1" height="1" fill="#fff4e6"/><rect x="541.0" y="176.1" width="1" height="1" fill="#fff8ee"/><rect x="541.0" y="177.1" width="1" height="1" fill="#fff9f2"/><rect x="542.0" y="170.1" width="1" height="1" fill="#ec510a"/><rect x="542.0" y="171.1" width="1" height="1" fill="#f56a11"/><rect x="542.0" y="172.1" width="1" height="1" fill="#ff952d"/><rect x="542.0" y="173.1" width="1" height="1" fill="#ffbe6f"/><rect x="542.0" y="174.1" width="1" height="1" fill="#ffdbad"/><rect x="542.0" y="175.1" width="1" height="1" fill="#ffeed7"/><rect x="542.0" y="176.1" width="1" height="1" fill="#fff4e5"/><rect x="542.0" y="177.1" width="1" height="1" fill="#fff6ea"/><rect x="542.0" y="178.1" width="1" height="1" fill="#fff8ef"/><rect x="543.0" y="170.1" width="1" height="1" fill="#ffab51"/><rect x="543.0" y="171.1" width="1" height="1" fill="#ffb460"/><rect x="543.0" y="172.1" width="1" height="1" fill="#ffc67d"/><rect x="543.0" y="173.1" width="1" height="1" fill="#ffdbab"/><rect x="543.0" y="174.1" width="1" height="1" fill="#ffebd1"/><rect x="543.0" y="175.1" width="1" height="1" fill="#fff5e9"/><rect x="543.0" y="176.1" width="1" height="1" fill="#fff9f0"/><rect x="544.0" y="170.1" width="1" height="1" fill="#f66e12"/><rect x="544.0" y="171.1" width="1" height="1" fill="#fd8418"/><rect x="544.0" y="172.1" width="1" height="1" fill="#ffa242"/><rect x="544.0" y="173.1" width="1" height="1" fill="#ffc67d"/><rect x="544.0" y="174.1" width="1" height="1" fill="#ffdfb6"/><rect x="544.0" y="175.1" width="1" height="1" fill="#fff0dc"/><rect x="544.0" y="176.1" width="1" height="1" fill="#fff5e8"/><rect x="544.0" y="177.1" width="1" height="1" fill="#fff7ed"/><rect x="544.0" y="178.1" width="1" height="1" fill="#fff9f1"/><rect x="545.0" y="170.1" width="1" height="1" fill="#ffb662"/><rect x="545.0" y="171.1" width="1" height="1" fill="#ffbe6f"/><rect x="545.0" y="172.1" width="1" height="1" fill="#ffcd8c"/><rect x="545.0" y="173.1" width="1" height="1" fill="#ffdfb5"/><rect x="545.0" y="174.1" width="1" height="1" fill="#ffedd6"/><rect x="545.0" y="175.1" width="1" height="1" fill="#fff6eb"/><rect x="545.0" y="176.1" width="1" height="1" fill="#fff9f2"/><rect x="546.0" y="170.1" width="1" height="1" fill="#fe8819"/><rect x="546.0" y="171.1" width="1" height="1" fill="#ff952c"/><rect x="546.0" y="172.1" width="1" height="1" fill="#ffae56"/><rect x="546.0" y="173.1" width="1" height="1" fill="#ffcd8b"/><rect x="546.0" y="174.1" width="1" height="1" fill="#ffe3bf"/><rect x="546.0" y="175.1" width="1" height="1" fill="#fff2e0"/><rect x="546.0" y="176.1" width="1" height="1" fill="#fff6ea"/><rect x="546.0" y="177.1" width="1" height="1" fill="#fff8ef"/><rect x="547.0" y="170.1" width="1" height="1" fill="#ffbf72"/><rect x="547.0" y="171.1" width="1" height="1" fill="#ffc67d"/><rect x="547.0" y="172.1" width="1" height="1" fill="#ffd39a"/><rect x="547.0" y="173.1" width="1" height="1" fill="#ffe3be"/><rect x="547.0" y="174.1" width="1" height="1" fill="#ffefdb"/><rect x="547.0" y="175.1" width="1" height="1" fill="#fff7ee"/><rect x="548.0" y="170.1" width="1" height="1" fill="#ff9730"/><rect x="548.0" y="171.1" width="1" height="1" fill="#ffa242"/><rect x="548.0" y="172.1" width="1" height="1" fill="#ffb967"/><rect x="548.0" y="173.1" width="1" height="1" fill="#ffd399"/><rect x="548.0" y="174.1" width="1" height="1" fill="#ffe6c6"/><rect x="548.0" y="175.1" width="1" height="1" fill="#fff3e4"/><rect x="548.0" y="176.1" width="1" height="1" fill="#fff7ed"/><rect x="548.0" y="177.1" width="1" height="1" fill="#fff9f1"/><rect x="549.0" y="170.1" width="1" height="1" fill="#ffc87f"/><rect x="549.0" y="171.1" width="1" height="1" fill="#ffcd8c"/><rect x="549.0" y="172.1" width="1" height="1" fill="#ffd8a6"/><rect x="549.0" y="173.1" width="1" height="1" fill="#ffe6c5"/><rect x="549.0" y="174.1" width="1" height="1" fill="#fff1df"/><rect x="549.0" y="175.1" width="1" height="1" fill="#fff8f0"/><rect x="550.0" y="170.1" width="1" height="1" fill="#ffa445"/><rect x="550.0" y="171.1" width="1" height="1" fill="#ffae55"/><rect x="550.0" y="172.1" width="1" height="1" fill="#ffc275"/><rect x="550.0" y="173.1" width="1" height="1" fill="#ffd8a5"/><rect x="550.0" y="174.1" width="1" height="1" fill="#ffe9cd"/><rect x="550.0" y="175.1" width="1" height="1" fill="#fff5e7"/><rect x="550.0" y="176.1" width="1" height="1" fill="#fff8ef"/><rect x="551.0" y="170.1" width="1" height="1" fill="#ffce8e"/><rect x="551.0" y="171.1" width="1" height="1" fill="#ffd399"/><rect x="551.0" y="172.1" width="1" height="1" fill="#ffddb0"/><rect x="551.0" y="173.1" width="1" height="1" fill="#ffe9cc"/><rect x="551.0" y="174.1" width="1" height="1" fill="#fff3e3"/><rect x="551.0" y="175.1" width="1" height="1" fill="#fff9f1"/><rect x="552.0" y="170.1" width="1" height="1" fill="#ffb058"/><rect x="552.0" y="171.1" width="1" height="1" fill="#ffb866"/><rect x="552.0" y="172.1" width="1" height="1" fill="#ffc983"/><rect x="552.0" y="173.1" width="1" height="1" fill="#ffddb0"/><rect x="552.0" y="174.1" width="1" height="1" fill="#ffecd3"/><rect x="552.0" y="175.1" width="1" height="1" fill="#fff6ea"/><rect x="552.0" y="176.1" width="1" height="1" fill="#fff9f1"/><rect x="553.0" y="170.1" width="1" height="1" fill="#ffd49b"/><rect x="553.0" y="171.1" width="1" height="1" fill="#ffd8a5"/><rect x="553.0" y="172.1" width="1" height="1" fill="#ffe1b9"/><rect x="553.0" y="173.1" width="1" height="1" fill="#ffecd2"/><rect x="553.0" y="174.1" width="1" height="1" fill="#fff4e6"/><rect x="554.0" y="170.1" width="1" height="1" fill="#ffba69"/><rect x="554.0" y="171.1" width="1" height="1" fill="#ffc275"/><rect x="554.0" y="172.1" width="1" height="1" fill="#ffd092"/><rect x="554.0" y="173.1" width="1" height="1" fill="#ffe1b9"/><rect x="554.0" y="174.1" width="1" height="1" fill="#ffeed8"/><rect x="554.0" y="175.1" width="1" height="1" fill="#fff7ec"/><rect x="555.0" y="170.1" width="1" height="1" fill="#ffd9a7"/><rect x="555.0" y="171.1" width="1" height="1" fill="#ffddb0"/><rect x="555.0" y="172.1" width="1" height="1" fill="#ffe4c2"/><rect x="555.0" y="173.1" width="1" height="1" fill="#ffeed7"/><rect x="555.0" y="174.1" width="1" height="1" fill="#fff5e9"/><rect x="556.0" y="170.1" width="1" height="1" fill="#ffc378"/><rect x="556.0" y="171.1" width="1" height="1" fill="#ffc983"/><rect x="556.0" y="172.1" width="1" height="1" fill="#ffd59f"/><rect x="556.0" y="173.1" width="1" height="1" fill="#ffe4c1"/><rect x="556.0" y="174.1" width="1" height="1" fill="#fff0dd"/><rect x="556.0" y="175.1" width="1" height="1" fill="#fff8ee"/><rect x="557.0" y="170.1" width="1" height="1" fill="#ffddb1"/><rect x="557.0" y="171.1" width="1" height="1" fill="#ffe1b9"/><rect x="557.0" y="172.1" width="1" height="1" fill="#ffe7c9"/><rect x="557.0" y="173.1" width="1" height="1" fill="#fff0dc"/><rect x="557.0" y="174.1" width="1" height="1" fill="#fff7ec"/><rect x="558.0" y="170.1" width="1" height="1" fill="#ffca86"/><rect x="558.0" y="171.1" width="1" height="1" fill="#ffd092"/><rect x="558.0" y="172.1" width="1" height="1" fill="#ffdaaa"/><rect x="558.0" y="173.1" width="1" height="1" fill="#ffe7c8"/><rect x="558.0" y="174.1" width="1" height="1" fill="#fff2e1"/><rect x="558.0" y="175.1" width="1" height="1" fill="#fff9f0"/><rect x="559.0" y="170.1" width="1" height="1" fill="#ffe1bb"/><rect x="559.0" y="171.1" width="1" height="1" fill="#ffe4c1"/><rect x="559.0" y="172.1" width="1" height="1" fill="#ffeacf"/><rect x="559.0" y="173.1" width="1" height="1" fill="#fff2e0"/><rect x="559.0" y="174.1" width="1" height="1" fill="#fff8ee"/><rect x="560.0" y="170.1" width="1" height="1" fill="#ffd194"/><rect x="560.0" y="171.1" width="1" height="1" fill="#ffd59f"/><rect x="560.0" y="172.1" width="1" height="1" fill="#ffdfb4"/><rect x="560.0" y="173.1" width="1" height="1" fill="#ffeacf"/><rect x="560.0" y="174.1" width="1" height="1" fill="#fff3e3"/><rect x="560.0" y="175.1" width="1" height="1" fill="#fff9f2"/><rect x="561.0" y="170.1" width="1" height="1" fill="#ffe5c3"/><rect x="561.0" y="171.1" width="1" height="1" fill="#ffe7c9"/><rect x="561.0" y="172.1" width="1" height="1" fill="#ffedd5"/><rect x="561.0" y="173.1" width="1" height="1" fill="#fff3e4"/><rect x="561.0" y="174.1" width="1" height="1" fill="#fff8ef"/><rect x="562.0" y="170.1" width="1" height="1" fill="#ffd6a0"/><rect x="562.0" y="171.1" width="1" height="1" fill="#ffdaaa"/><rect x="562.0" y="172.1" width="1" height="1" fill="#ffe2bd"/><rect x="562.0" y="173.1" width="1" height="1" fill="#ffedd4"/><rect x="562.0" y="174.1" width="1" height="1" fill="#fff4e5"/><rect x="563.0" y="170.1" width="1" height="1" fill="#ffe8ca"/><rect x="563.0" y="171.1" width="1" height="1" fill="#ffeacf"/><rect x="563.0" y="172.1" width="1" height="1" fill="#ffefda"/><rect x="563.0" y="173.1" width="1" height="1" fill="#fff5e7"/><rect x="563.0" y="174.1" width="1" height="1" fill="#fff8f0"/><rect x="564.0" y="170.1" width="1" height="1" fill="#ffdbac"/><rect x="564.0" y="171.1" width="1" height="1" fill="#ffdeb4"/><rect x="564.0" y="172.1" width="1" height="1" fill="#ffe6c5"/><rect x="564.0" y="173.1" width="1" height="1" fill="#ffefd9"/><rect x="564.0" y="174.1" width="1" height="1" fill="#fff4e7"/><rect x="565.0" y="170.1" width="1" height="1" fill="#ffebd0"/><rect x="565.0" y="171.1" width="1" height="1" fill="#ffedd5"/><rect x="565.0" y="172.1" width="1" height="1" fill="#fff1de"/><rect x="565.0" y="173.1" width="1" height="1" fill="#fff6ea"/><rect x="565.0" y="174.1" width="1" height="1" fill="#fff9f1"/><rect x="566.0" y="170.1" width="1" height="1" fill="#ffdfb5"/><rect x="566.0" y="171.1" width="1" height="1" fill="#ffe2bd"/><rect x="566.0" y="172.1" width="1" height="1" fill="#ffe9cb"/><rect x="566.0" y="173.1" width="1" height="1" fill="#fff1de"/><rect x="566.0" y="174.1" width="1" height="1" fill="#fff5e8"/><rect x="567.0" y="170.1" width="1" height="1" fill="#ffedd6"/><rect x="567.0" y="171.1" width="1" height="1" fill="#ffefda"/><rect x="567.0" y="172.1" width="1" height="1" fill="#fff2e2"/><rect x="567.0" y="173.1" width="1" height="1" fill="#fff7ec"/><rect x="567.0" y="174.1" width="1" height="1" fill="#fff9f2"/><rect x="568.0" y="170.1" width="1" height="1" fill="#ffe3be"/><rect x="568.0" y="171.1" width="1" height="1" fill="#ffe6c5"/><rect x="568.0" y="172.1" width="1" height="1" fill="#ffebd2"/><rect x="568.0" y="173.1" width="1" height="1" fill="#fff2e2"/><rect x="568.0" y="174.1" width="1" height="1" fill="#fff6ea"/><rect x="569.0" y="170.1" width="1" height="1" fill="#ffefda"/><rect x="569.0" y="171.1" width="1" height="1" fill="#fff1de"/><rect x="569.0" y="172.1" width="1" height="1" fill="#fff4e5"/><rect x="569.0" y="173.1" width="1" height="1" fill="#fff8ef"/><rect x="570.0" y="170.1" width="1" height="1" fill="#ffe6c6"/><rect x="570.0" y="171.1" width="1" height="1" fill="#ffe9cb"/><rect x="570.0" y="172.1" width="1" height="1" fill="#ffeed7"/><rect x="570.0" y="173.1" width="1" height="1" fill="#fff4e5"/><rect x="570.0" y="174.1" width="1" height="1" fill="#fff6eb"/><rect x="571.0" y="170.1" width="1" height="1" fill="#fff1df"/><rect x="571.0" y="171.1" width="1" height="1" fill="#fff2e2"/><rect x="571.0" y="172.1" width="1" height="1" fill="#fff5e8"/><rect x="571.0" y="173.1" width="1" height="1" fill="#fff9f0"/><rect x="572.0" y="170.1" width="1" height="1" fill="#ffe9cc"/><rect x="572.0" y="171.1" width="1" height="1" fill="#ffebd1"/><rect x="572.0" y="172.1" width="1" height="1" fill="#fff0dc"/><rect x="572.0" y="173.1" width="1" height="1" fill="#fff5e8"/><rect x="572.0" y="174.1" width="1" height="1" fill="#fff7ec"/><rect x="573.0" y="170.1" width="1" height="1" fill="#fff3e2"/><rect x="573.0" y="171.1" width="1" height="1" fill="#fff4e5"/><rect x="573.0" y="172.1" width="1" height="1" fill="#fff6eb"/><rect x="573.0" y="173.1" width="1" height="1" fill="#fff9f2"/><rect x="574.0" y="170.1" width="1" height="1" fill="#ffecd2"/><rect x="574.0" y="171.1" width="1" height="1" fill="#ffeed7"/><rect x="574.0" y="172.1" width="1" height="1" fill="#fff1e0"/><rect x="574.0" y="173.1" width="1" height="1" fill="#fff6eb"/><rect x="574.0" y="174.1" width="1" height="1" fill="#fff7ee"/><rect x="575.0" y="170.1" width="1" height="1" fill="#fff4e6"/><rect x="575.0" y="171.1" width="1" height="1" fill="#fff5e8"/><rect x="575.0" y="172.1" width="1" height="1" fill="#fff7ed"/><rect x="576.0" y="170.1" width="1" height="1" fill="#ffeed8"/><rect x="576.0" y="171.1" width="1" height="1" fill="#fff0dc"/><rect x="576.0" y="172.1" width="1" height="1" fill="#fff3e3"/><rect x="576.0" y="173.1" width="1" height="1" fill="#fff7ed"/><rect x="576.0" y="174.1" width="1" height="1" fill="#fff8ef"/><rect x="577.0" y="170.1" width="1" height="1" fill="#fff5e9"/><rect x="577.0" y="171.1" width="1" height="1" fill="#fff6eb"/><rect x="577.0" y="172.1" width="1" height="1" fill="#fff8ef"/><rect x="578.0" y="170.1" width="1" height="1" fill="#fff0dc"/><rect x="578.0" y="171.1" width="1" height="1" fill="#fff1e0"/><rect x="578.0" y="172.1" width="1" height="1" fill="#fff4e7"/><rect x="578.0" y="173.1" width="1" height="1" fill="#fff8ef"/><rect x="578.0" y="174.1" width="1" height="1" fill="#fff8f0"/><rect x="579.0" y="170.1" width="1" height="1" fill="#fff7eb"/><rect x="579.0" y="171.1" width="1" height="1" fill="#fff7ed"/><rect x="579.0" y="172.1" width="1" height="1" fill="#fff9f1"/><rect x="580.0" y="170.1" width="1" height="1" fill="#fff2e0"/><rect x="580.0" y="171.1" width="1" height="1" fill="#fff3e3"/><rect x="580.0" y="172.1" width="1" height="1" fill="#fff6ea"/><rect x="580.0" y="173.1" width="1" height="1" fill="#fff9f1"/><rect x="580.0" y="174.1" width="1" height="1" fill="#fff9f1"/><rect x="581.0" y="170.1" width="1" height="1" fill="#fff8ee"/><rect x="581.0" y="171.1" width="1" height="1" fill="#fff8ef"/><rect x="582.0" y="170.1" width="1" height="1" fill="#fff3e4"/><rect x="582.0" y="171.1" width="1" height="1" fill="#fff4e7"/><rect x="582.0" y="172.1" width="1" height="1" fill="#fff7ec"/><rect x="582.0" y="173.1" width="1" height="1" fill="#fff9f2"/><rect x="582.0" y="174.1" width="1" height="1" fill="#fff9f2"/><rect x="583.0" y="170.1" width="1" height="1" fill="#fff8f0"/><rect x="583.0" y="171.1" width="1" height="1" fill="#fff9f1"/><rect x="584.0" y="170.1" width="1" height="1" fill="#fff5e7"/><rect x="584.0" y="171.1" width="1" height="1" fill="#fff6e9"/><rect x="584.0" y="172.1" width="1" height="1" fill="#fff8ee"/><rect x="585.0" y="170.1" width="1" height="1" fill="#fff9f2"/><rect x="586.0" y="170.1" width="1" height="1" fill="#fff6ea"/><rect x="586.0" y="171.1" width="1" height="1" fill="#fff7ec"/><rect x="586.0" y="172.1" width="1" height="1" fill="#fff9f0"/><rect x="588.0" y="170.1" width="1" height="1" fill="#fff7ec"/><rect x="588.0" y="171.1" width="1" height="1" fill="#fff8ee"/><rect x="588.0" y="172.1" width="1" height="1" fill="#fff9f2"/><rect x="590.0" y="170.1" width="1" height="1" fill="#fff8ef"/><rect x="590.0" y="171.1" width="1" height="1" fill="#fff9f0"/><rect x="592.0" y="170.1" width="1" height="1" fill="#fff9f1"/><rect x="592.0" y="171.1" width="1" height="1" fill="#fff9f2"/><rect x="594.0" y="170.1" width="1" height="1" fill="#fff9f2"/>
<rect x="645.5" y="170.1" width="1" height="1" fill="#000000"/><rect x="645.5" y="171.1" width="1" height="1" fill="#070000"/><rect x="645.5" y="172.1" width="1" height="1" fill="#970600"/><rect x="645.5" y="173.1" width="1" height="1" fill="#f05c0e"/><rect x="645.5" y="174.1" width="1" height="1" fill="#ffb15a"/><rect x="645.5" y="175.1" width="1" height="1" fill="#ffdbab"/><rect x="645.5" y="176.1" width="1" height="1" fill="#ffe7c7"/><rect x="645.5" y="177.1" width="1" height="1" fill="#ffecd3"/><rect x="645.5" y="178.1" width="1" height="1" fill="#fff0dd"/><rect x="645.5" y="179.1" width="1" height="1" fill="#fff4e5"/><rect x="645.5" y="180.1" width="1" height="1" fill="#fff6ea"/><rect x="645.5" y="181.1" width="1" height="1" fill="#fff8ef"/><rect x="644.5" y="170.1" width="1" height="1" fill="#d72600"/><rect x="644.5" y="171.1" width="1" height="1" fill="#e73e05"/><rect x="644.5" y="172.1" width="1" height="1" fill="#fa7a16"/><rect x="644.5" y="173.1" width="1" height="1" fill="#ffb058"/><rect x="644.5" y="174.1" width="1" height="1" fill="#ffd49d"/><rect x="644.5" y="175.1" width="1" height="1" fill="#ffebd0"/><rect x="644.5" y="176.1" width="1" height="1" fill="#fff1e0"/><rect x="644.5" y="177.1" width="1" height="1" fill="#fff4e6"/><rect x="644.5" y="178.1" width="1" height="1" fill="#fff7ec"/><rect x="644.5" y="179.1" width="1" height="1" fill="#fff9f0"/><rect x="643.5" y="170.1" width="1" height="1" fill="#140000"/><rect x="643.5" y="171.1" width="1" height="1" fill="#570000"/><rect x="643.5" y="172.1" width="1" height="1" fill="#be1900"/><rect x="643.5" y="173.1" width="1" height="1" fill="#f97815"/><rect x="643.5" y="174.1" width="1" height="1" fill="#ffbb6a"/><rect x="643.5" y="175.1" width="1" height="1" fill="#ffdfb5"/><rect x="643.5" y="176.1" width="1" height="1" fill="#ffeace"/><rect x="643.5" y="177.1" width="1" height="1" fill="#ffeed9"/><rect x="643.5" y="178.1" width="1" height="1" fill="#fff2e1"/><rect x="643.5" y="179.1" width="1" height="1" fill="#fff5e8"/><rect x="643.5" y="180.1" width="1" height="1" fill="#fff7ed"/><rect x="643.5" y="181.1" width="1" height="1" fill="#fff9f1"/><rect x="642.5" y="170.1" width="1" height="1" fill="#e84307"/><rect x="642.5" y="171.1" width="1" height="1" fill="#f15e0e"/><rect x="642.5" y="172.1" width="1" height="1" fill="#ff8f23"/><rect x="642.5" y="173.1" width="1" height="1" fill="#ffba68"/><rect x="642.5" y="174.1" width="1" height="1" fill="#ffd9a8"/><rect x="642.5" y="175.1" width="1" height="1" fill="#ffedd5"/><rect x="642.5" y="176.1" width="1" height="1" fill="#fff3e3"/><rect x="642.5" y="177.1" width="1" height="1" fill="#fff6e9"/><rect x="642.5" y="178.1" width="1" height="1" fill="#fff8ee"/><rect x="642.5" y="179.1" width="1" height="1" fill="#fff9f2"/><rect x="641.5" y="170.1" width="1" height="1" fill="#630000"/><rect x="641.5" y="171.1" width="1" height="1" fill="#960600"/><rect x="641.5" y="172.1" width="1" height="1" fill="#e02a00"/><rect x="641.5" y="173.1" width="1" height="1" fill="#ff8e21"/><rect x="641.5" y="174.1" width="1" height="1" fill="#ffc479"/><rect x="641.5" y="175.1" width="1" height="1" fill="#ffe3be"/><rect x="641.5" y="176.1" width="1" height="1" fill="#ffecd3"/><rect x="641.5" y="177.1" width="1" height="1" fill="#fff0dd"/><rect x="641.5" y="178.1" width="1" height="1" fill="#fff4e5"/><rect x="641.5" y="179.1" width="1" height="1" fill="#fff6ea"/><rect x="641.5" y="180.1" width="1" height="1" fill="#fff8ef"/><rect x="640.5" y="170.1" width="1" height="1" fill="#f2620f"/><rect x="640.5" y="171.1" width="1" height="1" fill="#fa7916"/><rect x="640.5" y="172.1" width="1" height="1" fill="#ff9d3a"/><rect x="640.5" y="173.1" width="1" height="1" fill="#ffc377"/><rect x="640.5" y="174.1" width="1" height="1" fill="#ffdeb2"/><rect x="640.5" y="175.1" width="1" height="1" fill="#ffefda"/><rect x="640.5" y="176.1" width="1" height="1" fill="#fff4e6"/><rect x="640.5" y="177.1" width="1" height="1" fill="#fff7ec"/><rect x="640.5" y="178.1" width="1" height="1" fill="#fff9f0"/><rect x="639.5" y="170.1" width="1" height="1" fill="#9d0900"/><rect x="639.5" y="171.1" width="1" height="1" fill="#bd1900"/><rect x="639.5" y="172.1" width="1" height="1" fill="#eb4c09"/><rect x="639.5" y="173.1" width="1" height="1" fill="#ff9d38"/><rect x="639.5" y="174.1" width="1" height="1" fill="#ffcb87"/><rect x="639.5" y="175.1" width="1" height="1" fill="#ffe6c5"/><rect x="639.5" y="176.1" width="1" height="1" fill="#ffeed9"/><rect x="639.5" y="177.1" width="1" height="1" fill="#fff2e1"/><rect x="639.5" y="178.1" width="1" height="1" fill="#fff5e8"/><rect x="639.5" y="179.1" width="1" height="1" fill="#fff7ed"/><rect x="639.5" y="180.1" width="1" height="1" fill="#fff9f1"/><rect x="638.5" y="170.1" width="1" height="1" fill="#fb7d17"/><rect x="638.5" y="171.1" width="1" height="1" fill="#ff8f22"/><rect x="638.5" y="172.1" width="1" height="1" fill="#ffaa4e"/><rect x="638.5" y="173.1" width="1" height="1" fill="#ffca85"/><rect x="638.5" y="174.1" width="1" height="1" fill="#ffe2bb"/><rect x="638.5" y="175.1" width="1" height="1" fill="#fff1df"/><rect x="638.5" y="176.1" width="1" height="1" fill="#fff6e9"/><rect x="638.5" y="177.1" width="1" height="1" fill="#fff8ee"/><rect x="638.5" y="178.1" width="1" height="1" fill="#fff9f2"/><rect x="637.5" y="170.1" width="1" height="1" fill="#c31c00"/><rect x="637.5" y="171.1" width="1" height="1" fill="#e02a00"/><rect x="637.5" y="172.1" width="1" height="1" fill="#f56a11"/><rect x="637.5" y="173.1" width="1" height="1" fill="#ffa94d"/><rect x="637.5" y="174.1" width="1" height="1" fill="#ffd195"/><rect x="637.5" y="175.1" width="1" height="1" fill="#ffe9cc"/><rect x="637.5" y="176.1" width="1" height="1" fill="#fff0dd"/><rect x="637.5" y="177.1" width="1" height="1" fill="#fff4e5"/><rect x="637.5" y="178.1" width="1" height="1" fill="#fff6ea"/><rect x="637.5" y="179.1" width="1" height="1" fill="#fff8ef"/><rect x="636.5" y="170.1" width="1" height="1" fill="#ff9126"/><rect x="636.5" y="171.1" width="1" height="1" fill="#ff9d39"/><rect x="636.5" y="172.1" width="1" height="1" fill="#ffb460"/><rect x="636.5" y="173.1" width="1" height="1" fill="#ffd094"/><rect x="636.5" y="174.1" width="1" height="1" fill="#ffe5c3"/><rect x="636.5" y="175.1" width="1" height="1" fill="#fff3e2"/><rect x="636.5" y="176.1" width="1" height="1" fill="#fff7ec"/><rect x="636.5" y="177.1" width="1" height="1" fill="#fff9f0"/><rect x="635.5" y="170.1" width="1" height="1" fill="#e22f01"/><rect x="635.5" y="171.1" width="1" height="1" fill="#eb4c09"/><rect x="635.5" y="172.1" width="1" height="1" fill="#fd8418"/><rect x="635.5" y="173.1" width="1" height="1" fill="#ffb45f"/><rect x="635.5" y="174.1" width="1" height="1" fill="#ffd7a2"/><rect x="635.5" y="175.1" width="1" height="1" fill="#ffecd2"/><rect x="635.5" y="176.1" width="1" height="1" fill="#fff2e1"/><rect x="635.5" y="177.1" width="1" height="1" fill="#fff5e8"/><rect x="635.5" y="178.1" width="1" height="1" fill="#fff7ed"/><rect x="635.5" y="179.1" width="1" height="1" fill="#fff9f1"/><rect x="634.5" y="170.1" width="1" height="1" fill="#ff9f3d"/><rect x="634.5" y="171.1" width="1" height="1" fill="#ffa94e"/><rect x="634.5" y="172.1" width="1" height="1" fill="#ffbe70"/><rect x="634.5" y="173.1" width="1" height="1" fill="#ffd6a0"/><rect x="634.5" y="174.1" width="1" height="1" fill="#ffe8ca"/><rect x="634.5" y="175.1" width="1" height="1" fill="#fff4e6"/><rect x="634.5" y="176.1" width="1" height="1" fill="#fff8ee"/><rect x="634.5" y="177.1" width="1" height="1" fill="#fff9f2"/><rect x="633.5" y="170.1" width="1" height="1" fill="#ec510a"/><rect x="633.5" y="171.1" width="1" height="1" fill="#f56a11"/><rect x="633.5" y="172.1" width="1" height="1" fill="#ff952d"/><rect x="633.5" y="173.1" width="1" height="1" fill="#ffbe6f"/><rect x="633.5" y="174.1" width="1" height="1" fill="#ffdbad"/><rect x="633.5" y="175.1" width="1" height="1" fill="#ffeed7"/><rect x="633.5" y="176.1" width="1" height="1" fill="#fff4e5"/><rect x="633.5" y="177.1" width="1" height="1" fill="#fff6ea"/><rect x="633.5" y="178.1" width="1" height="1" fill="#fff8ef"/><rect x="632.5" y="170.1" width="1" height="1" fill="#ffab51"/><rect x="632.5" y="171.1" width="1" height="1" fill="#ffb460"/><rect x="632.5" y="172.1" width="1" height="1" fill="#ffc67d"/><rect x="632.5" y="173.1" width="1" height="1" fill="#ffdbab"/><rect x="632.5" y="174.1" width="1" height="1" fill="#ffebd1"/><rect x="632.5" y="175.1" width="1" height="1" fill="#fff5e9"/><rect x="632.5" y="176.1" width="1" height="1" fill="#fff9f0"/><rect x="631.5" y="170.1" width="1" height="1" fill="#f66e12"/><rect x="631.5" y="171.1" width="1" height="1" fill="#fd8418"/><rect x="631.5" y="172.1" width="1" height="1" fill="#ffa242"/><rect x="631.5" y="173.1" width="1" height="1" fill="#ffc67d"/><rect x="631.5" y="174.1" width="1" height="1" fill="#ffdfb6"/><rect x="631.5" y="175.1" width="1" height="1" fill="#fff0dc"/><rect x="631.5" y="176.1" width="1" height="1" fill="#fff5e8"/><rect x="631.5" y="177.1" width="1" height="1" fill="#fff7ed"/><rect x="631.5" y="178.1" width="1" height="1" fill="#fff9f1"/><rect x="630.5" y="170.1" width="1" height="1" fill="#ffb662"/><rect x="630.5" y="171.1" width="1" height="1" fill="#ffbe6f"/><rect x="630.5" y="172.1" width="1" height="1" fill="#ffcd8c"/><rect x="630.5" y="173.1" width="1" height="1" fill="#ffdfb5"/><rect x="630.5" y="174.1" width="1" height="1" fill="#ffedd6"/><rect x="630.5" y="175.1" width="1" height="1" fill="#fff6eb"/><rect x="630.5" y="176.1" width="1" height="1" fill="#fff9f2"/><rect x="629.5" y="170.1" width="1" height="1" fill="#fe8819"/><rect x="629.5" y="171.1" width="1" height="1" fill="#ff952c"/><rect x="629.5" y="172.1" width="1" height="1" fill="#ffae56"/><rect x="629.5" y="173.1" width="1" height="1" fill="#ffcd8b"/><rect x="629.5" y="174.1" width="1" height="1" fill="#ffe3bf"/><rect x="629.5" y="175.1" width="1" height="1" fill="#fff2e0"/><rect x="629.5" y="176.1" width="1" height="1" fill="#fff6ea"/><rect x="629.5" y="177.1" width="1" height="1" fill="#fff8ef"/><rect x="628.5" y="170.1" width="1" height="1" fill="#ffbf72"/><rect x="628.5" y="171.1" width="1" height="1" fill="#ffc67d"/><rect x="628.5" y="172.1" width="1" height="1" fill="#ffd39a"/><rect x="628.5" y="173.1" width="1" height="1" fill="#ffe3be"/><rect x="628.5" y="174.1" width="1" height="1" fill="#ffefdb"/><rect x="628.5" y="175.1" width="1" height="1" fill="#fff7ee"/><rect x="627.5" y="170.1" width="1" height="1" fill="#ff9730"/><rect x="627.5" y="171.1" width="1" height="1" fill="#ffa242"/><rect x="627.5" y="172.1" width="1" height="1" fill="#ffb967"/><rect x="627.5" y="173.1" width="1" height="1" fill="#ffd399"/><rect x="627.5" y="174.1" width="1" height="1" fill="#ffe6c6"/><rect x="627.5" y="175.1" width="1" height="1" fill="#fff3e4"/><rect x="627.5" y="176.1" width="1" height="1" fill="#fff7ed"/><rect x="627.5" y="177.1" width="1" height="1" fill="#fff9f1"/><rect x="626.5" y="170.1" width="1" height="1" fill="#ffc87f"/><rect x="626.5" y="171.1" width="1" height="1" fill="#ffcd8c"/><rect x="626.5" y="172.1" width="1" height="1" fill="#ffd8a6"/><rect x="626.5" y="173.1" width="1" height="1" fill="#ffe6c5"/><rect x="626.5" y="174.1" width="1" height="1" fill="#fff1df"/><rect x="626.5" y="175.1" width="1" height="1" fill="#fff8f0"/><rect x="625.5" y="170.1" width="1" height="1" fill="#ffa445"/><rect x="625.5" y="171.1" width="1" height="1" fill="#ffae55"/><rect x="625.5" y="172.1" width="1" height="1" fill="#ffc275"/><rect x="625.5" y="173.1" width="1" height="1" fill="#ffd8a5"/><rect x="625.5" y="174.1" width="1" height="1" fill="#ffe9cd"/><rect x="625.5" y="175.1" width="1" height="1" fill="#fff5e7"/><rect x="625.5" y="176.1" width="1" height="1" fill="#fff8ef"/><rect x="624.5" y="170.1" width="1" height="1" fill="#ffce8e"/><rect x="624.5" y="171.1" width="1" height="1" fill="#ffd399"/><rect x="624.5" y="172.1" width="1" height="1" fill="#ffddb0"/><rect x="624.5" y="173.1" width="1" height="1" fill="#ffe9cc"/><rect x="624.5" y="174.1" width="1" height="1" fill="#fff3e3"/><rect x="624.5" y="175.1" width="1" height="1" fill="#fff9f1"/><rect x="623.5" y="170.1" width="1" height="1" fill="#ffb058"/><rect x="623.5" y="171.1" width="1" height="1" fill="#ffb866"/><rect x="623.5" y="172.1" width="1" height="1" fill="#ffc983"/><rect x="623.5" y="173.1" width="1" height="1" fill="#ffddb0"/><rect x="623.5" y="174.1" width="1" height="1" fill="#ffecd3"/><rect x="623.5" y="175.1" width="1" height="1" fill="#fff6ea"/><rect x="623.5" y="176.1" width="1" height="1" fill="#fff9f1"/><rect x="622.5" y="170.1" width="1" height="1" fill="#ffd49b"/><rect x="622.5" y="171.1" width="1" height="1" fill="#ffd8a5"/><rect x="622.5" y="172.1" width="1" height="1" fill="#ffe1b9"/><rect x="622.5" y="173.1" width="1" height="1" fill="#ffecd2"/><rect x="622.5" y="174.1" width="1" height="1" fill="#fff4e6"/><rect x="621.5" y="170.1" width="1" height="1" fill="#ffba69"/><rect x="621.5" y="171.1" width="1" height="1" fill="#ffc275"/><rect x="621.5" y="172.1" width="1" height="1" fill="#ffd092"/><rect x="621.5" y="173.1" width="1" height="1" fill="#ffe1b9"/><rect x="621.5" y="174.1" width="1" height="1" fill="#ffeed8"/><rect x="621.5" y="175.1" width="1" height="1" fill="#fff7ec"/><rect x="620.5" y="170.1" width="1" height="1" fill="#ffd9a7"/><rect x="620.5" y="171.1" width="1" height="1" fill="#ffddb0"/><rect x="620.5" y="172.1" width="1" height="1" fill="#ffe4c2"/><rect x="620.5" y="173.1" width="1" height="1" fill="#ffeed7"/><rect x="620.5" y="174.1" width="1" height="1" fill="#fff5e9"/><rect x="619.5" y="170.1" width="1" height="1" fill="#ffc378"/><rect x="619.5" y="171.1" width="1" height="1" fill="#ffc983"/><rect x="619.5" y="172.1" width="1" height="1" fill="#ffd59f"/><rect x="619.5" y="173.1" width="1" height="1" fill="#ffe4c1"/><rect x="619.5" y="174.1" width="1" height="1" fill="#fff0dd"/><rect x="619.5" y="175.1" width="1" height="1" fill="#fff8ee"/><rect x="618.5" y="170.1" width="1" height="1" fill="#ffddb1"/><rect x="618.5" y="171.1" width="1" height="1" fill="#ffe1b9"/><rect x="618.5" y="172.1" width="1" height="1" fill="#ffe7c9"/><rect x="618.5" y="173.1" width="1" height="1" fill="#fff0dc"/><rect x="618.5" y="174.1" width="1" height="1" fill="#fff7ec"/><rect x="617.5" y="170.1" width="1" height="1" fill="#ffca86"/><rect x="617.5" y="171.1" width="1" height="1" fill="#ffd092"/><rect x="617.5" y="172.1" width="1" height="1" fill="#ffdaaa"/><rect x="617.5" y="173.1" width="1" height="1" fill="#ffe7c8"/><rect x="617.5" y="174.1" width="1" height="1" fill="#fff2e1"/><rect x="617.5" y="175.1" width="1" height="1" fill="#fff9f0"/><rect x="616.5" y="170.1" width="1" height="1" fill="#ffe1bb"/><rect x="616.5" y="171.1" width="1" height="1" fill="#ffe4c1"/><rect x="616.5" y="172.1" width="1" height="1" fill="#ffeacf"/><rect x="616.5" y="173.1" width="1" height="1" fill="#fff2e0"/><rect x="616.5" y="174.1" width="1" height="1" fill="#fff8ee"/><rect x="615.5" y="170.1" width="1" height="1" fill="#ffd194"/><rect x="615.5" y="171.1" width="1" height="1" fill="#ffd59f"/><rect x="615.5" y="172.1" width="1" height="1" fill="#ffdfb4"/><rect x="615.5" y="173.1" width="1" height="1" fill="#ffeacf"/><rect x="615.5" y="174.1" width="1" height="1" fill="#fff3e3"/><rect x="615.5" y="175.1" width="1" height="1" fill="#fff9f2"/><rect x="614.5" y="170.1" width="1" height="1" fill="#ffe5c3"/><rect x="614.5" y="171.1" width="1" height="1" fill="#ffe7c9"/><rect x="614.5" y="172.1" width="1" height="1" fill="#ffedd5"/><rect x="614.5" y="173.1" width="1" height="1" fill="#fff3e4"/><rect x="614.5" y="174.1" width="1" height="1" fill="#fff8ef"/><rect x="613.5" y="170.1" width="1" height="1" fill="#ffd6a0"/><rect x="613.5" y="171.1" width="1" height="1" fill="#ffdaaa"/><rect x="613.5" y="172.1" width="1" height="1" fill="#ffe2bd"/><rect x="613.5" y="173.1" width="1" height="1" fill="#ffedd4"/><rect x="613.5" y="174.1" width="1" height="1" fill="#fff4e5"/><rect x="612.5" y="170.1" width="1" height="1" fill="#ffe8ca"/><rect x="612.5" y="171.1" width="1" height="1" fill="#ffeacf"/><rect x="612.5" y="172.1" width="1" height="1" fill="#ffefda"/><rect x="612.5" y="173.1" width="1" height="1" fill="#fff5e7"/><rect x="612.5" y="174.1" width="1" height="1" fill="#fff8f0"/><rect x="611.5" y="170.1" width="1" height="1" fill="#ffdbac"/><rect x="611.5" y="171.1" width="1" height="1" fill="#ffdeb4"/><rect x="611.5" y="172.1" width="1" height="1" fill="#ffe6c5"/><rect x="611.5" y="173.1" width="1" height="1" fill="#ffefd9"/><rect x="611.5" y="174.1" width="1" height="1" fill="#fff4e7"/><rect x="610.5" y="170.1" width="1" height="1" fill="#ffebd0"/><rect x="610.5" y="171.1" width="1" height="1" fill="#ffedd5"/><rect x="610.5" y="172.1" width="1" height="1" fill="#fff1de"/><rect x="610.5" y="173.1" width="1" height="1" fill="#fff6ea"/><rect x="610.5" y="174.1" width="1" height="1" fill="#fff9f1"/><rect x="609.5" y="170.1" width="1" height="1" fill="#ffdfb5"/><rect x="609.5" y="171.1" width="1" height="1" fill="#ffe2bd"/><rect x="609.5" y="172.1" width="1" height="1" fill="#ffe9cb"/><rect x="609.5" y="173.1" width="1" height="1" fill="#fff1de"/><rect x="609.5" y="174.1" width="1" height="1" fill="#fff5e8"/><rect x="608.5" y="170.1" width="1" height="1" fill="#ffedd6"/><rect x="608.5" y="171.1" width="1" height="1" fill="#ffefda"/><rect x="608.5" y="172.1" width="1" height="1" fill="#fff2e2"/><rect x="608.5" y="173.1" width="1" height="1" fill="#fff7ec"/><rect x="608.5" y="174.1" width="1" height="1" fill="#fff9f2"/><rect x="607.5" y="170.1" width="1" height="1" fill="#ffe3be"/><rect x="607.5" y="171.1" width="1" height="1" fill="#ffe6c5"/><rect x="607.5" y="172.1" width="1" height="1" fill="#ffebd2"/><rect x="607.5" y="173.1" width="1" height="1" fill="#fff2e2"/><rect x="607.5" y="174.1" width="1" height="1" fill="#fff6ea"/><rect x="606.5" y="170.1" width="1" height="1" fill="#ffefda"/><rect x="606.5" y="171.1" width="1" height="1" fill="#fff1de"/><rect x="606.5" y="172.1" width="1" height="1" fill="#fff4e5"/><rect x="606.5" y="173.1" width="1" height="1" fill="#fff8ef"/><rect x="605.5" y="170.1" width="1" height="1" fill="#ffe6c6"/><rect x="605.5" y="171.1" width="1" height="1" fill="#ffe9cb"/><rect x="605.5" y="172.1" width="1" height="1" fill="#ffeed7"/><rect x="605.5" y="173.1" width="1" height="1" fill="#fff4e5"/><rect x="605.5" y="174.1" width="1" height="1" fill="#fff6eb"/><rect x="604.5" y="170.1" width="1" height="1" fill="#fff1df"/><rect x="604.5" y="171.1" width="1" height="1" fill="#fff2e2"/><rect x="604.5" y="172.1" width="1" height="1" fill="#fff5e8"/><rect x="604.5" y="173.1" width="1" height="1" fill="#fff9f0"/><rect x="603.5" y="170.1" width="1" height="1" fill="#ffe9cc"/><rect x="603.5" y="171.1" width="1" height="1" fill="#ffebd1"/><rect x="603.5" y="172.1" width="1" height="1" fill="#fff0dc"/><rect x="603.5" y="173.1" width="1" height="1" fill="#fff5e8"/><rect x="603.5" y="174.1" width="1" height="1" fill="#fff7ec"/><rect x="602.5" y="170.1" width="1" height="1" fill="#fff3e2"/><rect x="602.5" y="171.1" width="1" height="1" fill="#fff4e5"/><rect x="602.5" y="172.1" width="1" height="1" fill="#fff6eb"/><rect x="602.5" y="173.1" width="1" height="1" fill="#fff9f2"/><rect x="601.5" y="170.1" width="1" height="1" fill="#ffecd2"/><rect x="601.5" y="171.1" width="1" height="1" fill="#ffeed7"/><rect x="601.5" y="172.1" width="1" height="1" fill="#fff1e0"/><rect x="601.5" y="173.1" width="1" height="1" fill="#fff6eb"/><rect x="601.5" y="174.1" width="1" height="1" fill="#fff7ee"/><rect x="600.5" y="170.1" width="1" height="1" fill="#fff4e6"/><rect x="600.5" y="171.1" width="1" height="1" fill="#fff5e8"/><rect x="600.5" y="172.1" width="1" height="1" fill="#fff7ed"/><rect x="599.5" y="170.1" width="1" height="1" fill="#ffeed8"/><rect x="599.5" y="171.1" width="1" height="1" fill="#fff0dc"/><rect x="599.5" y="172.1" width="1" height="1" fill="#fff3e3"/><rect x="599.5" y="173.1" width="1" height="1" fill="#fff7ed"/><rect x="599.5" y="174.1" width="1" height="1" fill="#fff8ef"/><rect x="598.5" y="170.1" width="1" height="1" fill="#fff5e9"/><rect x="598.5" y="171.1" width="1" height="1" fill="#fff6eb"/><rect x="598.5" y="172.1" width="1" height="1" fill="#fff8ef"/><rect x="597.5" y="170.1" width="1" height="1" fill="#fff0dc"/><rect x="597.5" y="171.1" width="1" height="1" fill="#fff1e0"/><rect x="597.5" y="172.1" width="1" height="1" fill="#fff4e7"/><rect x="597.5" y="173.1" width="1" height="1" fill="#fff8ef"/><rect x="597.5" y="174.1" width="1" height="1" fill="#fff8f0"/><rect x="596.5" y="170.1" width="1" height="1" fill="#fff7eb"/><rect x="596.5" y="171.1" width="1" height="1" fill="#fff7ed"/><rect x="596.5" y="172.1" width="1" height="1" fill="#fff9f1"/><rect x="595.5" y="170.1" width="1" height="1" fill="#fff2e0"/><rect x="595.5" y="171.1" width="1" height="1" fill="#fff3e3"/><rect x="595.5" y="172.1" width="1" height="1" fill="#fff6ea"/><rect x="595.5" y="173.1" width="1" height="1" fill="#fff9f1"/><rect x="595.5" y="174.1" width="1" height="1" fill="#fff9f1"/><rect x="594.5" y="170.1" width="1" height="1" fill="#fff8ee"/><rect x="594.5" y="171.1" width="1" height="1" fill="#fff8ef"/><rect x="593.5" y="170.1" width="1" height="1" fill="#fff3e4"/><rect x="593.5" y="171.1" width="1" height="1" fill="#fff4e7"/><rect x="593.5" y="172.1" width="1" height="1" fill="#fff7ec"/><rect x="593.5" y="173.1" width="1" height="1" fill="#fff9f2"/><rect x="593.5" y="174.1" width="1" height="1" fill="#fff9f2"/><rect x="592.5" y="170.1" width="1" height="1" fill="#fff8f0"/><rect x="592.5" y="171.1" width="1" height="1" fill="#fff9f1"/><rect x="591.5" y="170.1" width="1" height="1" fill="#fff5e7"/><rect x="591.5" y="171.1" width="1" height="1" fill="#fff6e9"/><rect x="591.5" y="172.1" width="1" height="1" fill="#fff8ee"/><rect x="590.5" y="170.1" width="1" height="1" fill="#fff9f2"/><rect x="589.5" y="170.1" width="1" height="1" fill="#fff6ea"/><rect x="589.5" y="171.1" width="1" height="1" fill="#fff7ec"/><rect x="589.5" y="172.1" width="1" height="1" fill="#fff9f0"/><rect x="587.5" y="170.1" width="1" height="1" fill="#fff7ec"/><rect x="587.5" y="171.1" width="1" height="1" fill="#fff8ee"/><rect x="587.5" y="172.1" width="1" height="1" fill="#fff9f2"/><rect x="585.5" y="170.1" width="1" height="1" fill="#fff8ef"/><rect x="585.5" y="171.1" width="1" height="1" fill="#fff9f0"/><rect x="583.5" y="170.1" width="1" height="1" fill="#fff9f1"/><rect x="583.5" y="171.1" width="1" height="1" fill="#fff9f2"/><rect x="581.5" y="170.1" width="1" height="1" fill="#fff9f2"/>
<rect x="530.0" y="277.5" width="1" height="1" fill="#000000"/><rect x="530.0" y="276.5" width="1" height="1" fill="#070000"/><rect x="530.0" y="275.5" width="1" height="1" fill="#970600"/><rect x="530.0" y="274.5" width="1" height="1" fill="#f05c0e"/><rect x="530.0" y="273.5" width="1" height="1" fill="#ffb15a"/><rect x="530.0" y="272.5" width="1" height="1" fill="#ffdbab"/><rect x="530.0" y="271.5" width="1" height="1" fill="#ffe7c7"/><rect x="530.0" y="270.5" width="1" height="1" fill="#ffecd3"/><rect x="530.0" y="269.5" width="1" height="1" fill="#fff0dd"/><rect x="530.0" y="268.5" width="1" height="1" fill="#fff4e5"/><rect x="530.0" y="267.5" width="1" height="1" fill="#fff6ea"/><rect x="530.0" y="266.5" width="1" height="1" fill="#fff8ef"/><rect x="531.0" y="277.5" width="1" height="1" fill="#d72600"/><rect x="531.0" y="276.5" width="1" height="1" fill="#e73e05"/><rect x="531.0" y="275.5" width="1" height="1" fill="#fa7a16"/><rect x="531.0" y="274.5" width="1" height="1" fill="#ffb058"/><rect x="531.0" y="273.5" width="1" height="1" fill="#ffd49d"/><rect x="531.0" y="272.5" width="1" height="1" fill="#ffebd0"/><rect x="531.0" y="271.5" width="1" height="1" fill="#fff1e0"/><rect x="531.0" y="270.5" width="1" height="1" fill="#fff4e6"/><rect x="531.0" y="269.5" width="1" height="1" fill="#fff7ec"/><rect x="531.0" y="268.5" width="1" height="1" fill="#fff9f0"/><rect x="532.0" y="277.5" width="1" height="1" fill="#140000"/><rect x="532.0" y="276.5" width="1" height="1" fill="#570000"/><rect x="532.0" y="275.5" width="1" height="1" fill="#be1900"/><rect x="532.0" y="274.5" width="1" height="1" fill="#f97815"/><rect x="532.0" y="273.5" width="1" height="1" fill="#ffbb6a"/><rect x="532.0" y="272.5" width="1" height="1" fill="#ffdfb5"/><rect x="532.0" y="271.5" width="1" height="1" fill="#ffeace"/><rect x="532.0" y="270.5" width="1" height="1" fill="#ffeed9"/><rect x="532.0" y="269.5" width="1" height="1" fill="#fff2e1"/><rect x="532.0" y="268.5" width="1" height="1" fill="#fff5e8"/><rect x="532.0" y="267.5" width="1" height="1" fill="#fff7ed"/><rect x="532.0" y="266.5" width="1" height="1" fill="#fff9f1"/><rect x="533.0" y="277.5" width="1" height="1" fill="#e84307"/><rect x="533.0" y="276.5" width="1" height="1" fill="#f15e0e"/><rect x="533.0" y="275.5" width="1" height="1" fill="#ff8f23"/><rect x="533.0" y="274.5" width="1" height="1" fill="#ffba68"/><rect x="533.0" y="273.5" width="1" height="1" fill="#ffd9a8"/><rect x="533.0" y="272.5" width="1" height="1" fill="#ffedd5"/><rect x="533.0" y="271.5" width="1" height="1" fill="#fff3e3"/><rect x="533.0" y="270.5" width="1" height="1" fill="#fff6e9"/><rect x="533.0" y="269.5" width="1" height="1" fill="#fff8ee"/><rect x="533.0" y="268.5" width="1" height="1" fill="#fff9f2"/><rect x="534.0" y="277.5" width="1" height="1" fill="#630000"/><rect x="534.0" y="276.5" width="1" height="1" fill="#960600"/><rect x="534.0" y="275.5" width="1" height="1" fill="#e02a00"/><rect x="534.0" y="274.5" width="1" height="1" fill="#ff8e21"/><rect x="534.0" y="273.5" width="1" height="1" fill="#ffc479"/><rect x="534.0" y="272.5" width="1" height="1" fill="#ffe3be"/><rect x="534.0" y="271.5" width="1" height="1" fill="#ffecd3"/><rect x="534.0" y="270.5" width="1" height="1" fill="#fff0dd"/><rect x="534.0" y="269.5" width="1" height="1" fill="#fff4e5"/><rect x="534.0" y="268.5" width="1" height="1" fill="#fff6ea"/><rect x="534.0" y="267.5" width="1" height="1" fill="#fff8ef"/><rect x="535.0" y="277.5" width="1" height="1" fill="#f2620f"/><rect x="535.0" y="276.5" width="1" height="1" fill="#fa7916"/><rect x="535.0" y="275.5" width="1" height="1" fill="#ff9d3a"/><rect x="535.0" y="274.5" width="1" height="1" fill="#ffc377"/><rect x="535.0" y="273.5" width="1" height="1" fill="#ffdeb2"/><rect x="535.0" y="272.5" width="1" height="1" fill="#ffefda"/><rect x="535.0" y="271.5" width="1" height="1" fill="#fff4e6"/><rect x="535.0" y="270.5" width="1" height="1" fill="#fff7ec"/><rect x="535.0" y="269.5" width="1" height="1" fill="#fff9f0"/><rect x="536.0" y="277.5" width="1" height="1" fill="#9d0900"/><rect x="536.0" y="276.5" width="1" height="1" fill="#bd1900"/><rect x="536.0" y="275.5" width="1" height="1" fill="#eb4c09"/><rect x="536.0" y="274.5" width="1" height="1" fill="#ff9d38"/><rect x="536.0" y="273.5" width="1" height="1" fill="#ffcb87"/><rect x="536.0" y="272.5" width="1" height="1" fill="#ffe6c5"/><rect x="536.0" y="271.5" width="1" height="1" fill="#ffeed9"/><rect x="536.0" y="270.5" width="1" height="1" fill="#fff2e1"/><rect x="536.0" y="269.5" width="1" height="1" fill="#fff5e8"/><rect x="536.0" y="268.5" width="1" height="1" fill="#fff7ed"/><rect x="536.0" y="267.5" width="1" height="1" fill="#fff9f1"/><rect x="537.0" y="277.5" width="1" height="1" fill="#fb7d17"/><rect x="537.0" y="276.5" width="1" height="1" fill="#ff8f22"/><rect x="537.0" y="275.5" width="1" height="1" fill="#ffaa4e"/><rect x="537.0" y="274.5" width="1" height="1" fill="#ffca85"/><rect x="537.0" y="273.5" width="1" height="1" fill="#ffe2bb"/><rect x="537.0" y="272.5" width="1" height="1" fill="#fff1df"/><rect x="537.0" y="271.5" width="1" height="1" fill="#fff6e9"/><rect x="537.0" y="270.5" width="1" height="1" fill="#fff8ee"/><rect x="537.0" y="269.5" width="1" height="1" fill="#fff9f2"/><rect x="538.0" y="277.5" width="1" height="1" fill="#c31c00"/><rect x="538.0" y="276.5" width="1" height="1" fill="#e02a00"/><rect x="538.0" y="275.5" width="1" height="1" fill="#f56a11"/><rect x="538.0" y="274.5" width="1" height="1" fill="#ffa94d"/><rect x="538.0" y="273.5" width="1" height="1" fill="#ffd195"/><rect x="538.0" y="272.5" width="1" height="1" fill="#ffe9cc"/><rect x="538.0" y="271.5" width="1" height="1" fill="#fff0dd"/><rect x="538.0" y="270.5" width="1" height="1" fill="#fff4e5"/><rect x="538.0" y="269.5" width="1" height="1" fill="#fff6ea"/><rect x="538.0" y="268.5" width="1" height="1" fill="#fff8ef"/><rect x="539.0" y="277.5" width="1" height="1" fill="#ff9126"/><rect x="539.0" y="276.5" width="1" height="1" fill="#ff9d39"/><rect x="539.0" y="275.5" width="1" height="1" fill="#ffb460"/><rect x="539.0" y="274.5" width="1" height="1" fill="#ffd094"/><rect x="539.0" y="273.5" width="1" height="1" fill="#ffe5c3"/><rect x="539.0" y="272.5" width="1" height="1" fill="#fff3e2"/><rect x="539.0" y="271.5" width="1" height="1" fill="#fff7ec"/><rect x="539.0" y="270.5" width="1" height="1" fill="#fff9f0"/><rect x="540.0" y="277.5" width="1" height="1" fill="#e22f01"/><rect x="540.0" y="276.5" width="1" height="1" fill="#eb4c09"/><rect x="540.0" y="275.5" width="1" height="1" fill="#fd8418"/><rect x="540.0" y="274.5" width="1" height="1" fill="#ffb45f"/><rect x="540.0" y="273.5" width="1" height="1" fill="#ffd7a2"/><rect x="540.0" y="272.5" width="1" height="1" fill="#ffecd2"/><rect x="540.0" y="271.5" width="1" height="1" fill="#fff2e1"/><rect x="540.0" y="270.5" width="1" height="1" fill="#fff5e8"/><rect x="540.0" y="269.5" width="1" height="1" fill="#fff7ed"/><rect x="540.0" y="268.5" width="1" height="1" fill="#fff9f1"/><rect x="541.0" y="277.5" width="1" height="1" fill="#ff9f3d"/><rect x="541.0" y="276.5" width="1" height="1" fill="#ffa94e"/><rect x="541.0" y="275.5" width="1" height="1" fill="#ffbe70"/><rect x="541.0" y="274.5" width="1" height="1" fill="#ffd6a0"/><rect x="541.0" y="273.5" width="1" height="1" fill="#ffe8ca"/><rect x="541.0" y="272.5" width="1" height="1" fill="#fff4e6"/><rect x="541.0" y="271.5" width="1" height="1" fill="#fff8ee"/><rect x="541.0" y="270.5" width="1" height="1" fill="#fff9f2"/><rect x="542.0" y="277.5" width="1" height="1" fill="#ec510a"/><rect x="542.0" y="276.5" width="1" height="1" fill="#f56a11"/><rect x="542.0" y="275.5" width="1" height="1" fill="#ff952d"/><rect x="542.0" y="274.5" width="1" height="1" fill="#ffbe6f"/><rect x="542.0" y="273.5" width="1" height="1" fill="#ffdbad"/><rect x="542.0" y="272.5" width="1" height="1" fill="#ffeed7"/><rect x="542.0" y="271.5" width="1" height="1" fill="#fff4e5"/><rect x="542.0" y="270.5" width="1" height="1" fill="#fff6ea"/><rect x="542.0" y="269.5" width="1" height="1" fill="#fff8ef"/><rect x="543.0" y="277.5" width="1" height="1" fill="#ffab51"/><rect x="543.0" y="276.5" width="1" height="1" fill="#ffb460"/><rect x="543.0" y="275.5" width="1" height="1" fill="#ffc67d"/><rect x="543.0" y="274.5" width="1" height="1" fill="#ffdbab"/><rect x="543.0" y="273.5" width="1" height="1" fill="#ffebd1"/><rect x="543.0" y="272.5" width="1" height="1" fill="#fff5e9"/><rect x="543.0" y="271.5" width="1" height="1" fill="#fff9f0"/><rect x="544.0" y="277.5" width="1" height="1" fill="#f66e12"/><rect x="544.0" y="276.5" width="1" height="1" fill="#fd8418"/><rect x="544.0" y="275.5" width="1" height="1" fill="#ffa242"/><rect x="544.0" y="274.5" width="1" height="1" fill="#ffc67d"/><rect x="544.0" y="273.5" width="1" height="1" fill="#ffdfb6"/><rect x="544.0" y="272.5" width="1" height="1" fill="#fff0dc"/><rect x="544.0" y="271.5" width="1" height="1" fill="#fff5e8"/><rect x="544.0" y="270.5" width="1" height="1" fill="#fff7ed"/><rect x="544.0" y="269.5" width="1" height="1" fill="#fff9f1"/><rect x="545.0" y="277.5" width="1" height="1" fill="#ffb662"/><rect x="545.0" y="276.5" width="1" height="1" fill="#ffbe6f"/><rect x="545.0" y="275.5" width="1" height="1" fill="#ffcd8c"/><rect x="545.0" y="274.5" width="1" height="1" fill="#ffdfb5"/><rect x="545.0" y="273.5" width="1" height="1" fill="#ffedd6"/><rect x="545.0" y="272.5" width="1" height="1" fill="#fff6eb"/><rect x="545.0" y="271.5" width="1" height="1" fill="#fff9f2"/><rect x="546.0" y="277.5" width="1" height="1" fill="#fe8819"/><rect x="546.0" y="276.5" width="1" height="1" fill="#ff952c"/><rect x="546.0" y="275.5" width="1" height="1" fill="#ffae56"/><rect x="546.0" y="274.5" width="1" height="1" fill="#ffcd8b"/><rect x="546.0" y="273.5" width="1" height="1" fill="#ffe3bf"/><rect x="546.0" y="272.5" width="1" height="1" fill="#fff2e0"/><rect x="546.0" y="271.5" width="1" height="1" fill="#fff6ea"/><rect x="546.0" y="270.5" width="1" height="1" fill="#fff8ef"/><rect x="547.0" y="277.5" width="1" height="1" fill="#ffbf72"/><rect x="547.0" y="276.5" width="1" height="1" fill="#ffc67d"/><rect x="547.0" y="275.5" width="1" height="1" fill="#ffd39a"/><rect x="547.0" y="274.5" width="1" height="1" fill="#ffe3be"/><rect x="547.0" y="273.5" width="1" height="1" fill="#ffefdb"/><rect x="547.0" y="272.5" width="1" height="1" fill="#fff7ee"/><rect x="548.0" y="277.5" width="1" height="1" fill="#ff9730"/><rect x="548.0" y="276.5" width="1" height="1" fill="#ffa242"/><rect x="548.0" y="275.5" width="1" height="1" fill="#ffb967"/><rect x="548.0" y="274.5" width="1" height="1" fill="#ffd399"/><rect x="548.0" y="273.5" width="1" height="1" fill="#ffe6c6"/><rect x="548.0" y="272.5" width="1" height="1" fill="#fff3e4"/><rect x="548.0" y="271.5" width="1" height="1" fill="#fff7ed"/><rect x="548.0" y="270.5" width="1" height="1" fill="#fff9f1"/><rect x="549.0" y="277.5" width="1" height="1" fill="#ffc87f"/><rect x="549.0" y="276.5" width="1" height="1" fill="#ffcd8c"/><rect x="549.0" y="275.5" width="1" height="1" fill="#ffd8a6"/><rect x="549.0" y="274.5" width="1" height="1" fill="#ffe6c5"/><rect x="549.0" y="273.5" width="1" height="1" fill="#fff1df"/><rect x="549.0" y="272.5" width="1" height="1" fill="#fff8f0"/><rect x="550.0" y="277.5" width="1" height="1" fill="#ffa445"/><rect x="550.0" y="276.5" width="1" height="1" fill="#ffae55"/><rect x="550.0" y="275.5" width="1" height="1" fill="#ffc275"/><rect x="550.0" y="274.5" width="1" height="1" fill="#ffd8a5"/><rect x="550.0" y="273.5" width="1" height="1" fill="#ffe9cd"/><rect x="550.0" y="272.5" width="1" height="1" fill="#fff5e7"/><rect x="550.0" y="271.5" width="1" height="1" fill="#fff8ef"/><rect x="551.0" y="277.5" width="1" height="1" fill="#ffce8e"/><rect x="551.0" y="276.5" width="1" height="1" fill="#ffd399"/><rect x="551.0" y="275.5" width="1" height="1" fill="#ffddb0"/><rect x="551.0" y="274.5" width="1" height="1" fill="#ffe9cc"/><rect x="551.0" y="273.5" width="1" height="1" fill="#fff3e3"/><rect x="551.0" y="272.5" width="1" height="1" fill="#fff9f1"/><rect x="552.0" y="277.5" width="1" height="1" fill="#ffb058"/><rect x="552.0" y="276.5" width="1" height="1" fill="#ffb866"/><rect x="552.0" y="275.5" width="1" height="1" fill="#ffc983"/><rect x="552.0" y="274.5" width="1" height="1" fill="#ffddb0"/><rect x="552.0" y="273.5" width="1" height="1" fill="#ffecd3"/><rect x="552.0" y="272.5" width="1" height="1" fill="#fff6ea"/><rect x="552.0" y="271.5" width="1" height="1" fill="#fff9f1"/><rect x="553.0" y="277.5" width="1" height="1" fill="#ffd49b"/><rect x="553.0" y="276.5" width="1" height="1" fill="#ffd8a5"/><rect x="553.0" y="275.5" width="1" height="1" fill="#ffe1b9"/><rect x="553.0" y="274.5" width="1" height="1" fill="#ffecd2"/><rect x="553.0" y="273.5" width="1" height="1" fill="#fff4e6"/><rect x="554.0" y="277.5" width="1" height="1" fill="#ffba69"/><rect x="554.0" y="276.5" width="1" height="1" fill="#ffc275"/><rect x="554.0" y="275.5" width="1" height="1" fill="#ffd092"/><rect x="554.0" y="274.5" width="1" height="1" fill="#ffe1b9"/><rect x="554.0" y="273.5" width="1" height="1" fill="#ffeed8"/><rect x="554.0" y="272.5" width="1" height="1" fill="#fff7ec"/><rect x="555.0" y="277.5" width="1" height="1" fill="#ffd9a7"/><rect x="555.0" y="276.5" width="1" height="1" fill="#ffddb0"/><rect x="555.0" y="275.5" width="1" height="1" fill="#ffe4c2"/><rect x="555.0" y="274.5" width="1" height="1" fill="#ffeed7"/><rect x="555.0" y="273.5" width="1" height="1" fill="#fff5e9"/><rect x="556.0" y="277.5" width="1" height="1" fill="#ffc378"/><rect x="556.0" y="276.5" width="1" height="1" fill="#ffc983"/><rect x="556.0" y="275.5" width="1" height="1" fill="#ffd59f"/><rect x="556.0" y="274.5" width="1" height="1" fill="#ffe4c1"/><rect x="556.0" y="273.5" width="1" height="1" fill="#fff0dd"/><rect x="556.0" y="272.5" width="1" height="1" fill="#fff8ee"/><rect x="557.0" y="277.5" width="1" height="1" fill="#ffddb1"/><rect x="557.0" y="276.5" width="1" height="1" fill="#ffe1b9"/><rect x="557.0" y="275.5" width="1" height="1" fill="#ffe7c9"/><rect x="557.0" y="274.5" width="1" height="1" fill="#fff0dc"/><rect x="557.0" y="273.5" width="1" height="1" fill="#fff7ec"/><rect x="558.0" y="277.5" width="1" height="1" fill="#ffca86"/><rect x="558.0" y="276.5" width="1" height="1" fill="#ffd092"/><rect x="558.0" y="275.5" width="1" height="1" fill="#ffdaaa"/><rect x="558.0" y="274.5" width="1" height="1" fill="#ffe7c8"/><rect x="558.0" y="273.5" width="1" height="1" fill="#fff2e1"/><rect x="558.0" y="272.5" width="1" height="1" fill="#fff9f0"/><rect x="559.0" y="277.5" width="1" height="1" fill="#ffe1bb"/><rect x="559.0" y="276.5" width="1" height="1" fill="#ffe4c1"/><rect x="559.0" y="275.5" width="1" height="1" fill="#ffeacf"/><rect x="559.0" y="274.5" width="1" height="1" fill="#fff2e0"/><rect x="559.0" y="273.5" width="1" height="1" fill="#fff8ee"/><rect x="560.0" y="277.5" width="1" height="1" fill="#ffd194"/><rect x="560.0" y="276.5" width="1" height="1" fill="#ffd59f"/><rect x="560.0" y="275.5" width="1" height="1" fill="#ffdfb4"/><rect x="560.0" y="274.5" width="1" height="1" fill="#ffeacf"/><rect x="560.0" y="273.5" width="1" height="1" fill="#fff3e3"/><rect x="560.0" y="272.5" width="1" height="1" fill="#fff9f2"/><rect x="561.0" y="277.5" width="1" height="1" fill="#ffe5c3"/><rect x="561.0" y="276.5" width="1" height="1" fill="#ffe7c9"/><rect x="561.0" y="275.5" width="1" height="1" fill="#ffedd5"/><rect x="561.0" y="274.5" width="1" height="1" fill="#fff3e4"/><rect x="561.0" y="273.5" width="1" height="1" fill="#fff8ef"/><rect x="562.0" y="277.5" width="1" height="1" fill="#ffd6a0"/><rect x="562.0" y="276.5" width="1" height="1" fill="#ffdaaa"/><rect x="562.0" y="275.5" width="1" height="1" fill="#ffe2bd"/><rect x="562.0" y="274.5" width="1" height="1" fill="#ffedd4"/><rect x="562.0" y="273.5" width="1" height="1" fill="#fff4e5"/><rect x="563.0" y="277.5" width="1" height="1" fill="#ffe8ca"/><rect x="563.0" y="276.5" width="1" height="1" fill="#ffeacf"/><rect x="563.0" y="275.5" width="1" height="1" fill="#ffefda"/><rect x="563.0" y="274.5" width="1" height="1" fill="#fff5e7"/><rect x="563.0" y="273.5" width="1" height="1" fill="#fff8f0"/><rect x="564.0" y="277.5" width="1" height="1" fill="#ffdbac"/><rect x="564.0" y="276.5" width="1" height="1" fill="#ffdeb4"/><rect x="564.0" y="275.5" width="1" height="1" fill="#ffe6c5"/><rect x="564.0" y="274.5" width="1" height="1" fill="#ffefd9"/><rect x="564.0" y="273.5" width="1" height="1" fill="#fff4e7"/><rect x="565.0" y="277.5" width="1" height="1" fill="#ffebd0"/><rect x="565.0" y="276.5" width="1" height="1" fill="#ffedd5"/><rect x="565.0" y="275.5" width="1" height="1" fill="#fff1de"/><rect x="565.0" y="274.5" width="1" height="1" fill="#fff6ea"/><rect x="565.0" y="273.5" width="1" height="1" fill="#fff9f1"/><rect x="566.0" y="277.5" width="1" height="1" fill="#ffdfb5"/><rect x="566.0" y="276.5" width="1" height="1" fill="#ffe2bd"/><rect x="566.0" y="275.5" width="1" height="1" fill="#ffe9cb"/><rect x="566.0" y="274.5" width="1" height="1" fill="#fff1de"/><rect x="566.0" y="273.5" width="1" height="1" fill="#fff5e8"/><rect x="567.0" y="277.5" width="1" height="1" fill="#ffedd6"/><rect x="567.0" y="276.5" width="1" height="1" fill="#ffefda"/><rect x="567.0" y="275.5" width="1" height="1" fill="#fff2e2"/><rect x="567.0" y="274.5" width="1" height="1" fill="#fff7ec"/><rect x="567.0" y="273.5" width="1" height="1" fill="#fff9f2"/><rect x="568.0" y="277.5" width="1" height="1" fill="#ffe3be"/><rect x="568.0" y="276.5" width="1" height="1" fill="#ffe6c5"/><rect x="568.0" y="275.5" width="1" height="1" fill="#ffebd2"/><rect x="568.0" y="274.5" width="1" height="1" fill="#fff2e2"/><rect x="568.0" y="273.5" width="1" height="1" fill="#fff6ea"/><rect x="569.0" y="277.5" width="1" height="1" fill="#ffefda"/><rect x="569.0" y="276.5" width="1" height="1" fill="#fff1de"/><rect x="569.0" y="275.5" width="1" height="1" fill="#fff4e5"/><rect x="569.0" y="274.5" width="1" height="1" fill="#fff8ef"/><rect x="570.0" y="277.5" width="1" height="1" fill="#ffe6c6"/><rect x="570.0" y="276.5" width="1" height="1" fill="#ffe9cb"/><rect x="570.0" y="275.5" width="1" height="1" fill="#ffeed7"/><rect x="570.0" y="274.5" width="1" height="1" fill="#fff4e5"/><rect x="570.0" y="273.5" width="1" height="1" fill="#fff6eb"/><rect x="571.0" y="277.5" width="1" height="1" fill="#fff1df"/><rect x="571.0" y="276.5" width="1" height="1" fill="#fff2e2"/><rect x="571.0" y="275.5" width="1" height="1" fill="#fff5e8"/><rect x="571.0" y="274.5" width="1" height="1" fill="#fff9f0"/><rect x="572.0" y="277.5" width="1" height="1" fill="#ffe9cc"/><rect x="572.0" y="276.5" width="1" height="1" fill="#ffebd1"/><rect x="572.0" y="275.5" width="1" height="1" fill="#fff0dc"/><rect x="572.0" y="274.5" width="1" height="1" fill="#fff5e8"/><rect x="572.0" y="273.5" width="1" height="1" fill="#fff7ec"/><rect x="573.0" y="277.5" width="1" height="1" fill="#fff3e2"/><rect x="573.0" y="276.5" width="1" height="1" fill="#fff4e5"/><rect x="573.0" y="275.5" width="1" height="1" fill="#fff6eb"/><rect x="573.0" y="274.5" width="1" height="1" fill="#fff9f2"/><rect x="574.0" y="277.5" width="1" height="1" fill="#ffecd2"/><rect x="574.0" y="276.5" width="1" height="1" fill="#ffeed7"/><rect x="574.0" y="275.5" width="1" height="1" fill="#fff1e0"/><rect x="574.0" y="274.5" width="1" height="1" fill="#fff6eb"/><rect x="574.0" y="273.5" width="1" height="1" fill="#fff7ee"/><rect x="575.0" y="277.5" width="1" height="1" fill="#fff4e6"/><rect x="575.0" y="276.5" width="1" height="1" fill="#fff5e8"/><rect x="575.0" y="275.5" width="1" height="1" fill="#fff7ed"/><rect x="576.0" y="277.5" width="1" height="1" fill="#ffeed8"/><rect x="576.0" y="276.5" width="1" height="1" fill="#fff0dc"/><rect x="576.0" y="275.5" width="1" height="1" fill="#fff3e3"/><rect x="576.0" y="274.5" width="1" height="1" fill="#fff7ed"/><rect x="576.0" y="273.5" width="1" height="1" fill="#fff8ef"/><rect x="577.0" y="277.5" width="1" height="1" fill="#fff5e9"/><rect x="577.0" y="276.5" width="1" height="1" fill="#fff6eb"/><rect x="577.0" y="275.5" width="1" height="1" fill="#fff8ef"/><rect x="578.0" y="277.5" width="1" height="1" fill="#fff0dc"/><rect x="578.0" y="276.5" width="1" height="1" fill="#fff1e0"/><rect x="578.0" y="275.5" width="1" height="1" fill="#fff4e7"/><rect x="578.0" y="274.5" width="1" height="1" fill="#fff8ef"/><rect x="578.0" y="273.5" width="1" height="1" fill="#fff8f0"/><rect x="579.0" y="277.5" width="1" height="1" fill="#fff7eb"/><rect x="579.0" y="276.5" width="1" height="1" fill="#fff7ed"/><rect x="579.0" y="275.5" width="1" height="1" fill="#fff9f1"/><rect x="580.0" y="277.5" width="1" height="1" fill="#fff2e0"/><rect x="580.0" y="276.5" width="1" height="1" fill="#fff3e3"/><rect x="580.0" y="275.5" width="1" height="1" fill="#fff6ea"/><rect x="580.0" y="274.5" width="1" height="1" fill="#fff9f1"/><rect x="580.0" y="273.5" width="1" height="1" fill="#fff9f1"/><rect x="581.0" y="277.5" width="1" height="1" fill="#fff8ee"/><rect x="581.0" y="276.5" width="1" height="1" fill="#fff8ef"/><rect x="582.0" y="277.5" width="1" height="1" fill="#fff3e4"/><rect x="582.0" y="276.5" width="1" height="1" fill="#fff4e7"/><rect x="582.0" y="275.5" width="1" height="1" fill="#fff7ec"/><rect x="582.0" y="274.5" width="1" height="1" fill="#fff9f2"/><rect x="582.0" y="273.5" width="1" height="1" fill="#fff9f2"/><rect x="583.0" y="277.5" width="1" height="1" fill="#fff8f0"/><rect x="583.0" y="276.5" width="1" height="1" fill="#fff9f1"/><rect x="584.0" y="277.5" width="1" height="1" fill="#fff5e7"/><rect x="584.0" y="276.5" width="1" height="1" fill="#fff6e9"/><rect x="584.0" y="275.5" width="1" height="1" fill="#fff8ee"/><rect x="585.0" y="277.5" width="1" height="1" fill="#fff9f2"/><rect x="586.0" y="277.5" width="1" height="1" fill="#fff6ea"/><rect x="586.0" y="276.5" width="1" height="1" fill="#fff7ec"/><rect x="586.0" y="275.5" width="1" height="1" fill="#fff9f0"/><rect x="588.0" y="277.5" width="1" height="1" fill="#fff7ec"/><rect x="588.0" y="276.5" width="1" height="1" fill="#fff8ee"/><rect x="588.0" y="275.5" width="1" height="1" fill="#fff9f2"/><rect x="590.0" y="277.5" width="1" height="1" fill="#fff8ef"/><rect x="590.0" y="276.5" width="1" height="1" fill="#fff9f0"/><rect x="592.0" y="277.5" width="1" height="1" fill="#fff9f1"/><rect x="592.0" y="276.5" width="1" height="1" fill="#fff9f2"/><rect x="594.0" y="277.5" width="1" height="1" fill="#fff9f2"/>
<rect x="645.5" y="277.5" width="1" height="1" fill="#000000"/><rect x="645.5" y="276.5" width="1" height="1" fill="#070000"/><rect x="645.5" y="275.5" width="1" height="1" fill="#970600"/><rect x="645.5" y="274.5" width="1" height="1" fill="#f05c0e"/><rect x="645.5" y="273.5" width="1" height="1" fill="#ffb15a"/><rect x="645.5" y="272.5" width="1" height="1" fill="#ffdbab"/><rect x="645.5" y="271.5" width="1" height="1" fill="#ffe7c7"/><rect x="645.5" y="270.5" width="1" height="1" fill="#ffecd3"/><rect x="645.5" y="269.5" width="1" height="1" fill="#fff0dd"/><rect x="645.5" y="268.5" width="1" height="1" fill="#fff4e5"/><rect x="645.5" y="267.5" width="1" height="1" fill="#fff6ea"/><rect x="645.5" y="266.5" width="1" height="1" fill="#fff8ef"/><rect x="644.5" y="277.5" width="1" height="1" fill="#d72600"/><rect x="644.5" y="276.5" width="1" height="1" fill="#e73e05"/><rect x="644.5" y="275.5" width="1" height="1" fill="#fa7a16"/><rect x="644.5" y="274.5" width="1" height="1" fill="#ffb058"/><rect x="644.5" y="273.5" width="1" height="1" fill="#ffd49d"/><rect x="644.5" y="272.5" width="1" height="1" fill="#ffebd0"/><rect x="644.5" y="271.5" width="1" height="1" fill="#fff1e0"/><rect x="644.5" y="270.5" width="1" height="1" fill="#fff4e6"/><rect x="644.5" y="269.5" width="1" height="1" fill="#fff7ec"/><rect x="644.5" y="268.5" width="1" height="1" fill="#fff9f0"/><rect x="643.5" y="277.5" width="1" height="1" fill="#140000"/><rect x="643.5" y="276.5" width="1" height="1" fill="#570000"/><rect x="643.5" y="275.5" width="1" height="1" fill="#be1900"/><rect x="643.5" y="274.5" width="1" height="1" fill="#f97815"/><rect x="643.5" y="273.5" width="1" height="1" fill="#ffbb6a"/><rect x="643.5" y="272.5" width="1" height="1" fill="#ffdfb5"/><rect x="643.5" y="271.5" width="1" height="1" fill="#ffeace"/><rect x="643.5" y="270.5" width="1" height="1" fill="#ffeed9"/><rect x="643.5" y="269.5" width="1" height="1" fill="#fff2e1"/><rect x="643.5" y="268.5" width="1" height="1" fill="#fff5e8"/><rect x="643.5" y="267.5" width="1" height="1" fill="#fff7ed"/><rect x="643.5" y="266.5" width="1" height="1" fill="#fff9f1"/><rect x="642.5" y="277.5" width="1" height="1" fill="#e84307"/><rect x="642.5" y="276.5" width="1" height="1" fill="#f15e0e"/><rect x="642.5" y="275.5" width="1" height="1" fill="#ff8f23"/><rect x="642.5" y="274.5" width="1" height="1" fill="#ffba68"/><rect x="642.5" y="273.5" width="1" height="1" fill="#ffd9a8"/><rect x="642.5" y="272.5" width="1" height="1" fill="#ffedd5"/><rect x="642.5" y="271.5" width="1" height="1" fill="#fff3e3"/><rect x="642.5" y="270.5" width="1" height="1" fill="#fff6e9"/><rect x="642.5" y="269.5" width="1" height="1" fill="#fff8ee"/><rect x="642.5" y="268.5" width="1" height="1" fill="#fff9f2"/><rect x="641.5" y="277.5" width="1" height="1" fill="#630000"/><rect x="641.5" y="276.5" width="1" height="1" fill="#960600"/><rect x="641.5" y="275.5" width="1" height="1" fill="#e02a00"/><rect x="641.5" y="274.5" width="1" height="1" fill="#ff8e21"/><rect x="641.5" y="273.5" width="1" height="1" fill="#ffc479"/><rect x="641.5" y="272.5" width="1" height="1" fill="#ffe3be"/><rect x="641.5" y="271.5" width="1" height="1" fill="#ffecd3"/><rect x="641.5" y="270.5" width="1" height="1" fill="#fff0dd"/><rect x="641.5" y="269.5" width="1" height="1" fill="#fff4e5"/><rect x="641.5" y="268.5" width="1" height="1" fill="#fff6ea"/><rect x="641.5" y="267.5" width="1" height="1" fill="#fff8ef"/><rect x="640.5" y="277.5" width="1" height="1" fill="#f2620f"/><rect x="640.5" y="276.5" width="1" height="1" fill="#fa7916"/><rect x="640.5" y="275.5" width="1" height="1" fill="#ff9d3a"/><rect x="640.5" y="274.5" width="1" height="1" fill="#ffc377"/><rect x="640.5" y="273.5" width="1" height="1" fill="#ffdeb2"/><rect x="640.5" y="272.5" width="1" height="1" fill="#ffefda"/><rect x="640.5" y="271.5" width="1" height="1" fill="#fff4e6"/><rect x="640.5" y="270.5" width="1" height="1" fill="#fff7ec"/><rect x="640.5" y="269.5" width="1" height="1" fill="#fff9f0"/><rect x="639.5" y="277.5" width="1" height="1" fill="#9d0900"/><rect x="639.5" y="276.5" width="1" height="1" fill="#bd1900"/><rect x="639.5" y="275.5" width="1" height="1" fill="#eb4c09"/><rect x="639.5" y="274.5" width="1" height="1" fill="#ff9d38"/><rect x="639.5" y="273.5" width="1" height="1" fill="#ffcb87"/><rect x="639.5" y="272.5" width="1" height="1" fill="#ffe6c5"/><rect x="639.5" y="271.5" width="1" height="1" fill="#ffeed9"/><rect x="639.5" y="270.5" width="1" height="1" fill="#fff2e1"/><rect x="639.5" y="269.5" width="1" height="1" fill="#fff5e8"/><rect x="639.5" y="268.5" width="1" height="1" fill="#fff7ed"/><rect x="639.5" y="267.5" width="1" height="1" fill="#fff9f1"/><rect x="638.5" y="277.5" width="1" height="1" fill="#fb7d17"/><rect x="638.5" y="276.5" width="1" height="1" fill="#ff8f22"/><rect x="638.5" y="275.5" width="1" height="1" fill="#ffaa4e"/><rect x="638.5" y="274.5" width="1" height="1" fill="#ffca85"/><rect x="638.5" y="273.5" width="1" height="1" fill="#ffe2bb"/><rect x="638.5" y="272.5" width="1" height="1" fill="#fff1df"/><rect x="638.5" y="271.5" width="1" height="1" fill="#fff6e9"/><rect x="638.5" y="270.5" width="1" height="1" fill="#fff8ee"/><rect x="638.5" y="269.5" width="1" height="1" fill="#fff9f2"/><rect x="637.5" y="277.5" width="1" height="1" fill="#c31c00"/><rect x="637.5" y="276.5" width="1" height="1" fill="#e02a00"/><rect x="637.5" y="275.5" width="1" height="1" fill="#f56a11"/><rect x="637.5" y="274.5" width="1" height="1" fill="#ffa94d"/><rect x="637.5" y="273.5" width="1" height="1" fill="#ffd195"/><rect x="637.5" y="272.5" width="1" height="1" fill="#ffe9cc"/><rect x="637.5" y="271.5" width="1" height="1" fill="#fff0dd"/><rect x="637.5" y="270.5" width="1" height="1" fill="#fff4e5"/><rect x="637.5" y="269.5" width="1" height="1" fill="#fff6ea"/><rect x="637.5" y="268.5" width="1" height="1" fill="#fff8ef"/><rect x="636.5" y="277.5" width="1" height="1" fill="#ff9126"/><rect x="636.5" y="276.5" width="1" height="1" fill="#ff9d39"/><rect x="636.5" y="275.5" width="1" height="1" fill="#ffb460"/><rect x="636.5" y="274.5" width="1" height="1" fill="#ffd094"/><rect x="636.5" y="273.5" width="1" height="1" fill="#ffe5c3"/><rect x="636.5" y="272.5" width="1" height="1" fill="#fff3e2"/><rect x="636.5" y="271.5" width="1" height="1" fill="#fff7ec"/><rect x="636.5" y="270.5" width="1" height="1" fill="#fff9f0"/><rect x="635.5" y="277.5" width="1" height="1" fill="#e22f01"/><rect x="635.5" y="276.5" width="1" height="1" fill="#eb4c09"/><rect x="635.5" y="275.5" width="1" height="1" fill="#fd8418"/><rect x="635.5" y="274.5" width="1" height="1" fill="#ffb45f"/><rect x="635.5" y="273.5" width="1" height="1" fill="#ffd7a2"/><rect x="635.5" y="272.5" width="1" height="1" fill="#ffecd2"/><rect x="635.5" y="271.5" width="1" height="1" fill="#fff2e1"/><rect x="635.5" y="270.5" width="1" height="1" fill="#fff5e8"/><rect x="635.5" y="269.5" width="1" height="1" fill="#fff7ed"/><rect x="635.5" y="268.5" width="1" height="1" fill="#fff9f1"/><rect x="634.5" y="277.5" width="1" height="1" fill="#ff9f3d"/><rect x="634.5" y="276.5" width="1" height="1" fill="#ffa94e"/><rect x="634.5" y="275.5" width="1" height="1" fill="#ffbe70"/><rect x="634.5" y="274.5" width="1" height="1" fill="#ffd6a0"/><rect x="634.5" y="273.5" width="1" height="1" fill="#ffe8ca"/><rect x="634.5" y="272.5" width="1" height="1" fill="#fff4e6"/><rect x="634.5" y="271.5" width="1" height="1" fill="#fff8ee"/><rect x="634.5" y="270.5" width="1" height="1" fill="#fff9f2"/><rect x="633.5" y="277.5" width="1" height="1" fill="#ec510a"/><rect x="633.5" y="276.5" width="1" height="1" fill="#f56a11"/><rect x="633.5" y="275.5" width="1" height="1" fill="#ff952d"/><rect x="633.5" y="274.5" width="1" height="1" fill="#ffbe6f"/><rect x="633.5" y="273.5" width="1" height="1" fill="#ffdbad"/><rect x="633.5" y="272.5" width="1" height="1" fill="#ffeed7"/><rect x="633.5" y="271.5" width="1" height="1" fill="#fff4e5"/><rect x="633.5" y="270.5" width="1" height="1" fill="#fff6ea"/><rect x="633.5" y="269.5" width="1" height="1" fill="#fff8ef"/><rect x="632.5" y="277.5" width="1" height="1" fill="#ffab51"/><rect x="632.5" y="276.5" width="1" height="1" fill="#ffb460"/><rect x="632.5" y="275.5" width="1" height="1" fill="#ffc67d"/><rect x="632.5" y="274.5" width="1" height="1" fill="#ffdbab"/><rect x="632.5" y="273.5" width="1" height="1" fill="#ffebd1"/><rect x="632.5" y="272.5" width="1" height="1" fill="#fff5e9"/><rect x="632.5" y="271.5" width="1" height="1" fill="#fff9f0"/><rect x="631.5" y="277.5" width="1" height="1" fill="#f66e12"/><rect x="631.5" y="276.5" width="1" height="1" fill="#fd8418"/><rect x="631.5" y="275.5" width="1" height="1" fill="#ffa242"/><rect x="631.5" y="274.5" width="1" height="1" fill="#ffc67d"/><rect x="631.5" y="273.5" width="1" height="1" fill="#ffdfb6"/><rect x="631.5" y="272.5" width="1" height="1" fill="#fff0dc"/><rect x="631.5" y="271.5" width="1" height="1" fill="#fff5e8"/><rect x="631.5" y="270.5" width="1" height="1" fill="#fff7ed"/><rect x="631.5" y="269.5" width="1" height="1" fill="#fff9f1"/><rect x="630.5" y="277.5" width="1" height="1" fill="#ffb662"/><rect x="630.5" y="276.5" width="1" height="1" fill="#ffbe6f"/><rect x="630.5" y="275.5" width="1" height="1" fill="#ffcd8c"/><rect x="630.5" y="274.5" width="1" height="1" fill="#ffdfb5"/><rect x="630.5" y="273.5" width="1" height="1" fill="#ffedd6"/><rect x="630.5" y="272.5" width="1" height="1" fill="#fff6eb"/><rect x="630.5" y="271.5" width="1" height="1" fill="#fff9f2"/><rect x="629.5" y="277.5" width="1" height="1" fill="#fe8819"/><rect x="629.5" y="276.5" width="1" height="1" fill="#ff952c"/><rect x="629.5" y="275.5" width="1" height="1" fill="#ffae56"/><rect x="629.5" y="274.5" width="1" height="1" fill="#ffcd8b"/><rect x="629.5" y="273.5" width="1" height="1" fill="#ffe3bf"/><rect x="629.5" y="272.5" width="1" height="1" fill="#fff2e0"/><rect x="629.5" y="271.5" width="1" height="1" fill="#fff6ea"/><rect x="629.5" y="270.5" width="1" height="1" fill="#fff8ef"/><rect x="628.5" y="277.5" width="1" height="1" fill="#ffbf72"/><rect x="628.5" y="276.5" width="1" height="1" fill="#ffc67d"/><rect x="628.5" y="275.5" width="1" height="1" fill="#ffd39a"/><rect x="628.5" y="274.5" width="1" height="1" fill="#ffe3be"/><rect x="628.5" y="273.5" width="1" height="1" fill="#ffefdb"/><rect x="628.5" y="272.5" width="1" height="1" fill="#fff7ee"/><rect x="627.5" y="277.5" width="1" height="1" fill="#ff9730"/><rect x="627.5" y="276.5" width="1" height="1" fill="#ffa242"/><rect x="627.5" y="275.5" width="1" height="1" fill="#ffb967"/><rect x="627.5" y="274.5" width="1" height="1" fill="#ffd399"/><rect x="627.5" y="273.5" width="1" height="1" fill="#ffe6c6"/><rect x="627.5" y="272.5" width="1" height="1" fill="#fff3e4"/><rect x="627.5" y="271.5" width="1" height="1" fill="#fff7ed"/><rect x="627.5" y="270.5" width="1" height="1" fill="#fff9f1"/><rect x="626.5" y="277.5" width="1" height="1" fill="#ffc87f"/><rect x="626.5" y="276.5" width="1" height="1" fill="#ffcd8c"/><rect x="626.5" y="275.5" width="1" height="1" fill="#ffd8a6"/><rect x="626.5" y="274.5" width="1" height="1" fill="#ffe6c5"/><rect x="626.5" y="273.5" width="1" height="1" fill="#fff1df"/><rect x="626.5" y="272.5" width="1" height="1" fill="#fff8f0"/><rect x="625.5" y="277.5" width="1" height="1" fill="#ffa445"/><rect x="625.5" y="276.5" width="1" height="1" fill="#ffae55"/><rect x="625.5" y="275.5" width="1" height="1" fill="#ffc275"/><rect x="625.5" y="274.5" width="1" height="1" fill="#ffd8a5"/><rect x="625.5" y="273.5" width="1" height="1" fill="#ffe9cd"/><rect x="625.5" y="272.5" width="1" height="1" fill="#fff5e7"/><rect x="625.5" y="271.5" width="1" height="1" fill="#fff8ef"/><rect x="624.5" y="277.5" width="1" height="1" fill="#ffce8e"/><rect x="624.5" y="276.5" width="1" height="1" fill="#ffd399"/><rect x="624.5" y="275.5" width="1" height="1" fill="#ffddb0"/><rect x="624.5" y="274.5" width="1" height="1" fill="#ffe9cc"/><rect x="624.5" y="273.5" width="1" height="1" fill="#fff3e3"/><rect x="624.5" y="272.5" width="1" height="1" fill="#fff9f1"/><rect x="623.5" y="277.5" width="1" height="1" fill="#ffb058"/><rect x="623.5" y="276.5" width="1" height="1" fill="#ffb866"/><rect x="623.5" y="275.5" width="1" height="1" fill="#ffc983"/><rect x="623.5" y="274.5" width="1" height="1" fill="#ffddb0"/><rect x="623.5" y="273.5" width="1" height="1" fill="#ffecd3"/><rect x="623.5" y="272.5" width="1" height="1" fill="#fff6ea"/><rect x="623.5" y="271.5" width="1" height="1" fill="#fff9f1"/><rect x="622.5" y="277.5" width="1" height="1" fill="#ffd49b"/><rect x="622.5" y="276.5" width="1" height="1" fill="#ffd8a5"/><rect x="622.5" y="275.5" width="1" height="1" fill="#ffe1b9"/><rect x="622.5" y="274.5" width="1" height="1" fill="#ffecd2"/><rect x="622.5" y="273.5" width="1" height="1" fill="#fff4e6"/><rect x="621.5" y="277.5" width="1" height="1" fill="#ffba69"/><rect x="621.5" y="276.5" width="1" height="1" fill="#ffc275"/><rect x="621.5" y="275.5" width="1" height="1" fill="#ffd092"/><rect x="621.5" y="274.5" width="1" height="1" fill="#ffe1b9"/><rect x="621.5" y="273.5" width="1" height="1" fill="#ffeed8"/><rect x="621.5" y="272.5" width="1" height="1" fill="#fff7ec"/><rect x="620.5" y="277.5" width="1" height="1" fill="#ffd9a7"/><rect x="620.5" y="276.5" width="1" height="1" fill="#ffddb0"/><rect x="620.5" y="275.5" width="1" height="1" fill="#ffe4c2"/><rect x="620.5" y="274.5" width="1" height="1" fill="#ffeed7"/><rect x="620.5" y="273.5" width="1" height="1" fill="#fff5e9"/><rect x="619.5" y="277.5" width="1" height="1" fill="#ffc378"/><rect x="619.5" y="276.5" width="1" height="1" fill="#ffc983"/><rect x="619.5" y="275.5" width="1" height="1" fill="#ffd59f"/><rect x="619.5" y="274.5" width="1" height="1" fill="#ffe4c1"/><rect x="619.5" y="273.5" width="1" height="1" fill="#fff0dd"/><rect x="619.5" y="272.5" width="1" height="1" fill="#fff8ee"/><rect x="618.5" y="277.5" width="1" height="1" fill="#ffddb1"/><rect x="618.5" y="276.5" width="1" height="1" fill="#ffe1b9"/><rect x="618.5" y="275.5" width="1" height="1" fill="#ffe7c9"/><rect x="618.5" y="274.5" width="1" height="1" fill="#fff0dc"/><rect x="618.5" y="273.5" width="1" height="1" fill="#fff7ec"/><rect x="617.5" y="277.5" width="1" height="1" fill="#ffca86"/><rect x="617.5" y="276.5" width="1" height="1" fill="#ffd092"/><rect x="617.5" y="275.5" width="1" height="1" fill="#ffdaaa"/><rect x="617.5" y="274.5" width="1" height="1" fill="#ffe7c8"/><rect x="617.5" y="273.5" width="1" height="1" fill="#fff2e1"/><rect x="617.5" y="272.5" width="1" height="1" fill="#fff9f0"/><rect x="616.5" y="277.5" width="1" height="1" fill="#ffe1bb"/><rect x="616.5" y="276.5" width="1" height="1" fill="#ffe4c1"/><rect x="616.5" y="275.5" width="1" height="1" fill="#ffeacf"/><rect x="616.5" y="274.5" width="1" height="1" fill="#fff2e0"/><rect x="616.5" y="273.5" width="1" height="1" fill="#fff8ee"/><rect x="615.5" y="277.5" width="1" height="1" fill="#ffd194"/><rect x="615.5" y="276.5" width="1" height="1" fill="#ffd59f"/><rect x="615.5" y="275.5" width="1" height="1" fill="#ffdfb4"/><rect x="615.5" y="274.5" width="1" height="1" fill="#ffeacf"/><rect x="615.5" y="273.5" width="1" height="1" fill="#fff3e3"/><rect x="615.5" y="272.5" width="1" height="1" fill="#fff9f2"/><rect x="614.5" y="277.5" width="1" height="1" fill="#ffe5c3"/><rect x="614.5" y="276.5" width="1" height="1" fill="#ffe7c9"/><rect x="614.5" y="275.5" width="1" height="1" fill="#ffedd5"/><rect x="614.5" y="274.5" width="1" height="1" fill="#fff3e4"/><rect x="614.5" y="273.5" width="1" height="1" fill="#fff8ef"/><rect x="613.5" y="277.5" width="1" height="1" fill="#ffd6a0"/><rect x="613.5" y="276.5" width="1" height="1" fill="#ffdaaa"/><rect x="613.5" y="275.5" width="1" height="1" fill="#ffe2bd"/><rect x="613.5" y="274.5" width="1" height="1" fill="#ffedd4"/><rect x="613.5" y="273.5" width="1" height="1" fill="#fff4e5"/><rect x="612.5" y="277.5" width="1" height="1" fill="#ffe8ca"/><rect x="612.5" y="276.5" width="1" height="1" fill="#ffeacf"/><rect x="612.5" y="275.5" width="1" height="1" fill="#ffefda"/><rect x="612.5" y="274.5" width="1" height="1" fill="#fff5e7"/><rect x="612.5" y="273.5" width="1" height="1" fill="#fff8f0"/><rect x="611.5" y="277.5" width="1" height="1" fill="#ffdbac"/><rect x="611.5" y="276.5" width="1" height="1" fill="#ffdeb4"/><rect x="611.5" y="275.5" width="1" height="1" fill="#ffe6c5"/><rect x="611.5" y="274.5" width="1" height="1" fill="#ffefd9"/><rect x="611.5" y="273.5" width="1" height="1" fill="#fff4e7"/><rect x="610.5" y="277.5" width="1" height="1" fill="#ffebd0"/><rect x="610.5" y="276.5" width="1" height="1" fill="#ffedd5"/><rect x="610.5" y="275.5" width="1" height="1" fill="#fff1de"/><rect x="610.5" y="274.5" width="1" height="1" fill="#fff6ea"/><rect x="610.5" y="273.5" width="1" height="1" fill="#fff9f1"/><rect x="609.5" y="277.5" width="1" height="1" fill="#ffdfb5"/><rect x="609.5" y="276.5" width="1" height="1" fill="#ffe2bd"/><rect x="609.5" y="275.5" width="1" height="1" fill="#ffe9cb"/><rect x="609.5" y="274.5" width="1" height="1" fill="#fff1de"/><rect x="609.5" y="273.5" width="1" height="1" fill="#fff5e8"/><rect x="608.5" y="277.5" width="1" height="1" fill="#ffedd6"/><rect x="608.5" y="276.5" width="1" height="1" fill="#ffefda"/><rect x="608.5" y="275.5" width="1" height="1" fill="#fff2e2"/><rect x="608.5" y="274.5" width="1" height="1" fill="#fff7ec"/><rect x="608.5" y="273.5" width="1" height="1" fill="#fff9f2"/><rect x="607.5" y="277.5" width="1" height="1" fill="#ffe3be"/><rect x="607.5" y="276.5" width="1" height="1" fill="#ffe6c5"/><rect x="607.5" y="275.5" width="1" height="1" fill="#ffebd2"/><rect x="607.5" y="274.5" width="1" height="1" fill="#fff2e2"/><rect x="607.5" y="273.5" width="1" height="1" fill="#fff6ea"/><rect x="606.5" y="277.5" width="1" height="1" fill="#ffefda"/><rect x="606.5" y="276.5" width="1" height="1" fill="#fff1de"/><rect x="606.5" y="275.5" width="1" height="1" fill="#fff4e5"/><rect x="606.5" y="274.5" width="1" height="1" fill="#fff8ef"/><rect x="605.5" y="277.5" width="1" height="1" fill="#ffe6c6"/><rect x="605.5" y="276.5" width="1" height="1" fill="#ffe9cb"/><rect x="605.5" y="275.5" width="1" height="1" fill="#ffeed7"/><rect x="605.5" y="274.5" width="1" height="1" fill="#fff4e5"/><rect x="605.5" y="273.5" width="1" height="1" fill="#fff6eb"/><rect x="604.5" y="277.5" width="1" height="1" fill="#fff1df"/><rect x="604.5" y="276.5" width="1" height="1" fill="#fff2e2"/><rect x="604.5" y="275.5" width="1" height="1" fill="#fff5e8"/><rect x="604.5" y="274.5" width="1" height="1" fill="#fff9f0"/><rect x="603.5" y="277.5" width="1" height="1" fill="#ffe9cc"/><rect x="603.5" y="276.5" width="1" height="1" fill="#ffebd1"/><rect x="603.5" y="275.5" width="1" height="1" fill="#fff0dc"/><rect x="603.5" y="274.5" width="1" height="1" fill="#fff5e8"/><rect x="603.5" y="273.5" width="1" height="1" fill="#fff7ec"/><rect x="602.5" y="277.5" width="1" height="1" fill="#fff3e2"/><rect x="602.5" y="276.5" width="1" height="1" fill="#fff4e5"/><rect x="602.5" y="275.5" width="1" height="1" fill="#fff6eb"/><rect x="602.5" y="274.5" width="1" height="1" fill="#fff9f2"/><rect x="601.5" y="277.5" width="1" height="1" fill="#ffecd2"/><rect x="601.5" y="276.5" width="1" height="1" fill="#ffeed7"/><rect x="601.5" y="275.5" width="1" height="1" fill="#fff1e0"/><rect x="601.5" y="274.5" width="1" height="1" fill="#fff6eb"/><rect x="601.5" y="273.5" width="1" height="1" fill="#fff7ee"/><rect x="600.5" y="277.5" width="1" height="1" fill="#fff4e6"/><rect x="600.5" y="276.5" width="1" height="1" fill="#fff5e8"/><rect x="600.5" y="275.5" width="1" height="1" fill="#fff7ed"/><rect x="599.5" y="277.5" width="1" height="1" fill="#ffeed8"/><rect x="599.5" y="276.5" width="1" height="1" fill="#fff0dc"/><rect x="599.5" y="275.5" width="1" height="1" fill="#fff3e3"/><rect x="599.5" y="274.5" width="1" height="1" fill="#fff7ed"/><rect x="599.5" y="273.5" width="1" height="1" fill="#fff8ef"/><rect x="598.5" y="277.5" width="1" height="1" fill="#fff5e9"/><rect x="598.5" y="276.5" width="1" height="1" fill="#fff6eb"/><rect x="598.5" y="275.5" width="1" height="1" fill="#fff8ef"/><rect x="597.5" y="277.5" width="1" height="1" fill="#fff0dc"/><rect x="597.5" y="276.5" width="1" height="1" fill="#fff1e0"/><rect x="597.5" y="275.5" width="1" height="1" fill="#fff4e7"/><rect x="597.5" y="274.5" width="1" height="1" fill="#fff8ef"/><rect x="597.5" y="273.5" width="1" height="1" fill="#fff8f0"/><rect x="596.5" y="277.5" width="1" height="1" fill="#fff7eb"/><rect x="596.5" y="276.5" width="1" height="1" fill="#fff7ed"/><rect x="596.5" y="275.5" width="1" height="1" fill="#fff9f1"/><rect x="595.5" y="277.5" width="1" height="1" fill="#fff2e0"/><rect x="595.5" y="276.5" width="1" height="1" fill="#fff3e3"/><rect x="595.5" y="275.5" width="1" height="1" fill="#fff6ea"/><rect x="595.5" y="274.5" width="1" height="1" fill="#fff9f1"/><rect x="595.5" y="273.5" width="1" height="1" fill="#fff9f1"/><rect x="594.5" y="277.5" width="1" height="1" fill="#fff8ee"/><rect x="594.5" y="276.5" width="1" height="1" fill="#fff8ef"/><rect x="593.5" y="277.5" width="1" height="1" fill="#fff3e4"/><rect x="593.5" y="276.5" width="1" height="1" fill="#fff4e7"/><rect x="593.5" y="275.5" width="1" height="1" fill="#fff7ec"/><rect x="593.5" y="274.5" width="1" height="1" fill="#fff9f2"/><rect x="593.5" y="273.5" width="1" height="1" fill="#fff9f2"/><rect x="592.5" y="277.5" width="1" height="1" fill="#fff8f0"/><rect x="592.5" y="276.5" width="1" height="1" fill="#fff9f1"/><rect x="591.5" y="277.5" width="1" height="1" fill="#fff5e7"/><rect x="591.5" y="276.5" width="1" height="1" fill="#fff6e9"/><rect x="591.5" y="275.5" width="1" height="1" fill="#fff8ee"/><rect x="590.5" y="277.5" width="1" height="1" fill="#fff9f2"/><rect x="589.5" y="277.5" width="1" height="1" fill="#fff6ea"/><rect x="589.5" y="276.5" width="1" height="1" fill="#fff7ec"/><rect x="589.5" y="275.5" width="1" height="1" fill="#fff9f0"/><rect x="587.5" y="277.5" width="1" height="1" fill="#fff7ec"/><rect x="587.5" y="276.5" width="1" height="1" fill="#fff8ee"/><rect x="587.5" y="275.5" width="1" height="1" fill="#fff9f2"/><rect x="585.5" y="277.5" width="1" height="1" fill="#fff8ef"/><rect x="585.5" y="276.5" width="1" height="1" fill="#fff9f0"/><rect x="583.5" y="277.5" width="1" height="1" fill="#fff9f1"/><rect x="583.5" y="276.5" width="1" height="1" fill="#fff9f2"/><rect x="581.5" y="277.5" width="1" height="1" fill="#fff9f2"/>
<rect x="529.5" y="169.6" width="117.5" height="109.4" fill="none" stroke="#6a6a6a" stroke-width="0.9"/>
<rect x="654.3" y="168" width="5.8" height="108.8" fill="url(#cbe)"/>
<g stroke="#555" stroke-width="0.6"><line x1="660.1" y1="276.80" x2="662.5" y2="276.80"/><line x1="660.1" y1="254.70" x2="662.5" y2="254.70"/><line x1="660.1" y1="232.60" x2="662.5" y2="232.60"/><line x1="660.1" y1="210.50" x2="662.5" y2="210.50"/><line x1="660.1" y1="188.40" x2="662.5" y2="188.40"/></g>
<text transform="translate(0 192.15) scale(1 1.05) translate(0 -192.15)" x="665.6" y="192.15" font-size="9.4" fill="#231f20">0.04</text>
<text transform="translate(0 280.25) scale(1 1.05) translate(0 -280.25)" x="665.6" y="280.25" font-size="9.4" fill="#231f20">0</text>
<text transform="translate(0 227.30) scale(1 1.05) translate(0 -227.30)" x="666.8" y="227.3" font-size="9.6" fill="#6a6a6a" textLength="11.2" lengthAdjust="spacingAndGlyphs">|ψ|</text><text transform="translate(0 222.90) scale(1 1.05) translate(0 -222.90)" x="676.9" y="222.9" font-size="6.2" fill="#6a6a6a">2</text>
<text transform="translate(0 174.15) scale(1 1.05) translate(0 -174.15)" x="525.2" y="174.15" font-size="9.4" fill="#231f20" text-anchor="end">40</text>
<text transform="translate(0 282.05) scale(1 1.05) translate(0 -282.05)" x="525.6" y="282.05" font-size="9.4" fill="#231f20" text-anchor="end">0</text>
<text transform="translate(0 290.95) scale(1 1.05) translate(0 -290.95)" x="529.6" y="290.95" font-size="9.4" fill="#231f20" text-anchor="middle">0</text>
<text transform="translate(0 290.95) scale(1 1.05) translate(0 -290.95)" x="646.5" y="290.95" font-size="9.4" fill="#231f20" text-anchor="middle">300</text>
<text transform="translate(0 291.05) scale(1 1.05) translate(0 -291.05)" x="588.5" y="291.05" font-size="9.4" fill="#231f20" font-style="italic" text-anchor="middle">x</text>
<text transform="translate(0 227.75) scale(1 1.05) translate(0 -227.75)" x="523.8" y="227.75" font-size="9.4" fill="#231f20" font-style="italic" text-anchor="middle">z</text>
</svg></body></html>
